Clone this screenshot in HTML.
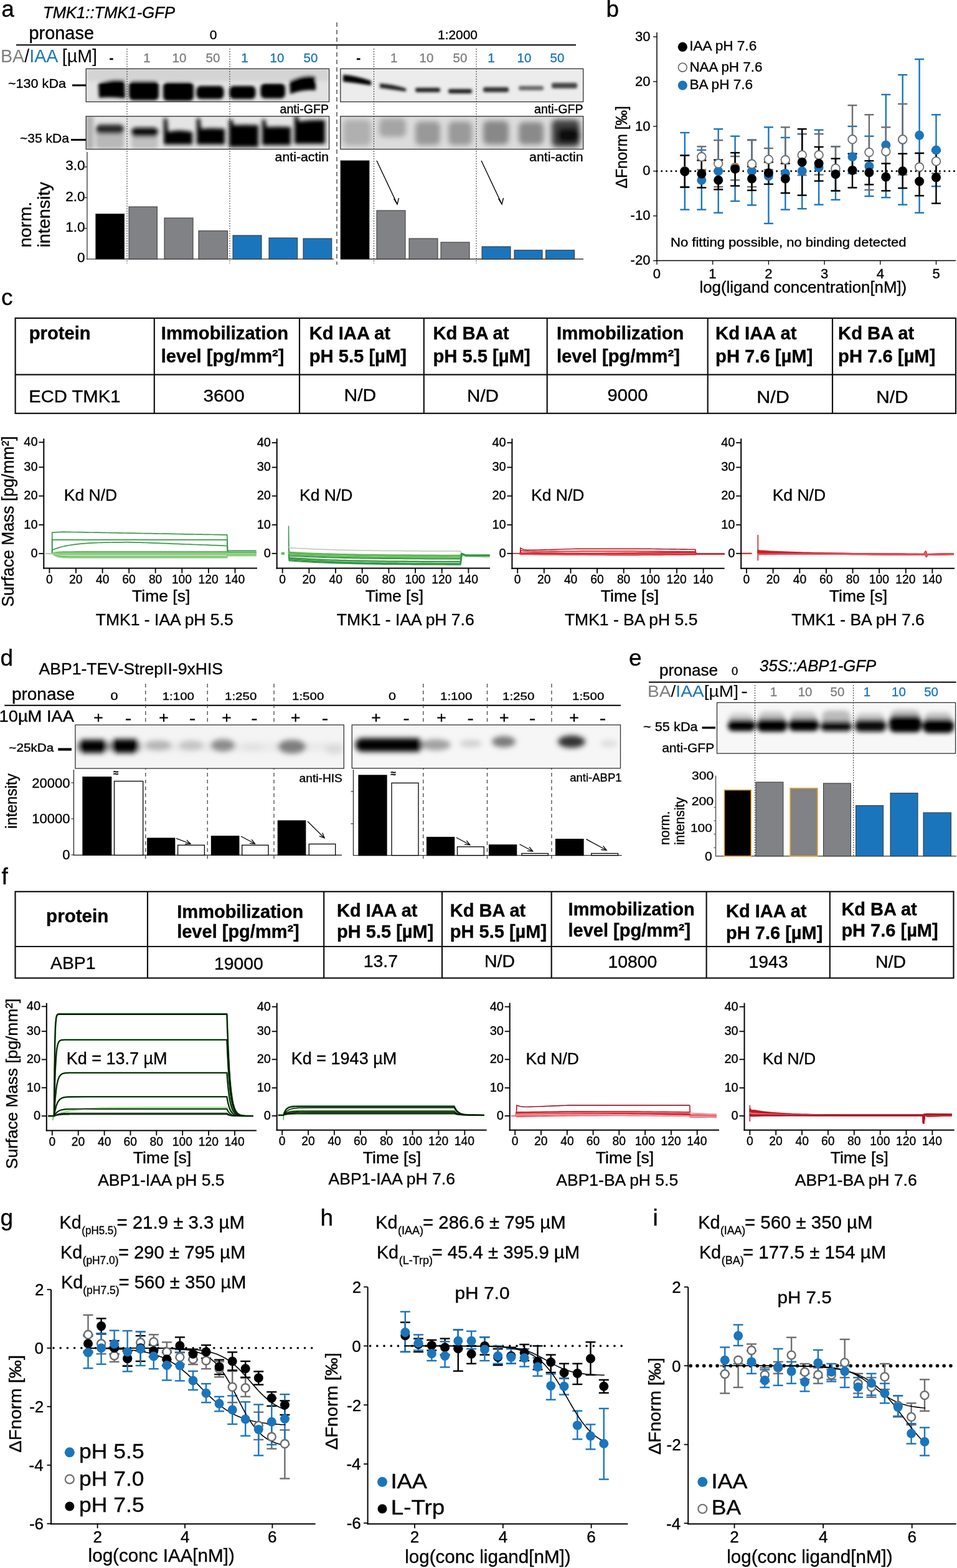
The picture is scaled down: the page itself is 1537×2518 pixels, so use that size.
<!DOCTYPE html>
<html><head><meta charset="utf-8"><title>Figure</title>
<style>html,body{margin:0;padding:0;background:#fff;}svg{display:block;}
text{font-family:"Liberation Sans",Arial,Helvetica,sans-serif;}</style></head>
<body><svg width="1537" height="2518" viewBox="0 0 1537 2518">
<rect width="1537" height="2518" fill="#fff"/>
<defs>
<filter id="bl2_5" x="-20%" y="-50%" width="140%" height="200%"><feGaussianBlur stdDeviation="2.5"/></filter>
<filter id="bl3_5" x="-20%" y="-50%" width="140%" height="200%"><feGaussianBlur stdDeviation="3.5"/></filter>
<filter id="bl2" x="-20%" y="-50%" width="140%" height="200%"><feGaussianBlur stdDeviation="2"/></filter>
<filter id="bl3" x="-20%" y="-50%" width="140%" height="200%"><feGaussianBlur stdDeviation="3"/></filter>
<filter id="bl4" x="-20%" y="-50%" width="140%" height="200%"><feGaussianBlur stdDeviation="4"/></filter>
<filter id="bl5" x="-20%" y="-50%" width="140%" height="200%"><feGaussianBlur stdDeviation="5"/></filter>
</defs>
<text x="2.2" y="26.6" font-size="37.0" stroke="#000" stroke-width="0.35">a</text>
<text x="69.0" y="29.0" font-size="25.6" font-style="italic" textLength="212.0" lengthAdjust="spacingAndGlyphs" stroke="#000" stroke-width="0.35">TMK1::TMK1-GFP</text>
<text x="46.5" y="63.0" font-size="29.0" textLength="104.5" lengthAdjust="spacingAndGlyphs" stroke="#000" stroke-width="0.35">pronase</text>
<text x="342.5" y="63.0" font-size="21.0" text-anchor="middle" stroke="#000" stroke-width="0.35">0</text>
<text x="735.0" y="63.0" font-size="21.0" text-anchor="middle" textLength="64.0" lengthAdjust="spacingAndGlyphs" stroke="#000" stroke-width="0.35">1:2000</text>
<line x1="26.0" y1="72.3" x2="925.0" y2="72.3" stroke="#000" stroke-width="2" />
<text x="1" y="100" font-size="28.6" textLength="155" lengthAdjust="spacingAndGlyphs"><tspan fill="#7f7f7f">BA</tspan>/<tspan fill="#1b75bc">IAA</tspan> [µM]</text>
<text x="179.0" y="99.5" font-size="20.5" text-anchor="middle" font-weight="bold" stroke="#000" stroke-width="0.35">-</text>
<text x="236.0" y="99.5" font-size="20.5" text-anchor="middle" fill="#7f7f7f" stroke="#7f7f7f" stroke-width="0.35">1</text>
<text x="288.0" y="99.5" font-size="20.5" text-anchor="middle" fill="#7f7f7f" stroke="#7f7f7f" stroke-width="0.35">10</text>
<text x="342.0" y="99.5" font-size="20.5" text-anchor="middle" fill="#7f7f7f" stroke="#7f7f7f" stroke-width="0.35">50</text>
<text x="393.0" y="99.5" font-size="20.5" text-anchor="middle" fill="#1b75bc" stroke="#1b75bc" stroke-width="0.35">1</text>
<text x="445.0" y="99.5" font-size="20.5" text-anchor="middle" fill="#1b75bc" stroke="#1b75bc" stroke-width="0.35">10</text>
<text x="499.0" y="99.5" font-size="20.5" text-anchor="middle" fill="#1b75bc" stroke="#1b75bc" stroke-width="0.35">50</text>
<text x="575.6" y="99.5" font-size="20.5" text-anchor="middle" font-weight="bold" stroke="#000" stroke-width="0.35">-</text>
<text x="632.6" y="99.5" font-size="20.5" text-anchor="middle" fill="#7f7f7f" stroke="#7f7f7f" stroke-width="0.35">1</text>
<text x="685.0" y="99.5" font-size="20.5" text-anchor="middle" fill="#7f7f7f" stroke="#7f7f7f" stroke-width="0.35">10</text>
<text x="739.0" y="99.5" font-size="20.5" text-anchor="middle" fill="#7f7f7f" stroke="#7f7f7f" stroke-width="0.35">50</text>
<text x="789.0" y="99.5" font-size="20.5" text-anchor="middle" fill="#1b75bc" stroke="#1b75bc" stroke-width="0.35">1</text>
<text x="842.0" y="99.5" font-size="20.5" text-anchor="middle" fill="#1b75bc" stroke="#1b75bc" stroke-width="0.35">10</text>
<text x="895.0" y="99.5" font-size="20.5" text-anchor="middle" fill="#1b75bc" stroke="#1b75bc" stroke-width="0.35">50</text>
<line x1="541.0" y1="36.0" x2="541.0" y2="425.0" stroke="#333" stroke-width="1.3" stroke-dasharray="7,5"/>
<clipPath id="c1"><rect x="138.2" y="110.4" width="390.40000000000003" height="53.099999999999994"/></clipPath>
<g clip-path="url(#c1)">
<rect x="138.2" y="110.4" width="390.4" height="53.1" fill="#e2e2e2" stroke="none" stroke-width="1" />
<g filter="url(#bl2_5)">
<rect x="140.0" y="110.0" width="388.0" height="20.0" fill="#d4d4d4" stroke="none" stroke-width="1" rx="4"/>
<path d="M158,134 Q178,126 200,129 L201,158 Q180,155 159,157 Z" fill="#000"/>
<rect x="207.0" y="130.0" width="48.0" height="31.0" fill="#000" stroke="none" stroke-width="1" rx="7"/>
<rect x="262.0" y="132.0" width="49.0" height="30.0" fill="#000" stroke="none" stroke-width="1" rx="7"/>
<rect x="315.5" y="138.0" width="44.0" height="21.0" fill="#000" stroke="none" stroke-width="1" rx="7"/>
<rect x="368.5" y="138.0" width="42.0" height="21.0" fill="#000" stroke="none" stroke-width="1" rx="7"/>
<rect x="418.5" y="134.0" width="39.5" height="24.0" fill="#000" stroke="none" stroke-width="1" rx="7"/>
<path d="M465,130 Q490,118 507,123 L507,145 Q488,143 466,151 Z" fill="#000"/>
</g></g>
<rect x="138.2" y="110.4" width="390.4" height="53.1" fill="none" stroke="#333" stroke-width="1.3" />
<text x="528.0" y="181.5" font-size="20.0" text-anchor="end" textLength="78.5" lengthAdjust="spacingAndGlyphs" stroke="#000" stroke-width="0.35">anti-GFP</text>
<clipPath id="c2"><rect x="138.2" y="186.7" width="390.40000000000003" height="52.900000000000006"/></clipPath>
<g clip-path="url(#c2)">
<rect x="138.2" y="186.7" width="390.4" height="52.9" fill="#e4e4e4" stroke="none" stroke-width="1" />
<g filter="url(#bl3)">
<rect x="138.0" y="186.0" width="12.0" height="54.0" fill="#b0b0b0" stroke="none" stroke-width="1" rx="2"/>
<rect x="154.0" y="205.0" width="45.0" height="34.0" fill="#b8b8b8" stroke="none" stroke-width="1" rx="6"/>
<rect x="211.0" y="214.0" width="43.0" height="25.0" fill="#c0c0c0" stroke="none" stroke-width="1" rx="6"/>
<rect x="154.0" y="200.0" width="45.0" height="15.0" fill="#2a2a2a" stroke="none" stroke-width="1" rx="7"/>
<rect x="211.0" y="205.0" width="43.0" height="15.0" fill="#0a0a0a" stroke="none" stroke-width="1" rx="7"/>
<path d="M263,190 L268,190 L270,212 Q286,207 309,212 L309,232 L263,232 Z" fill="#000"/>
<path d="M316,190 L321,190 L323,207 Q340,205 361,207 L361,232 L316,232 Z" fill="#000"/>
<path d="M368,192 L373,192 L375,201 Q392,200 415,201 L415,236 L368,236 Z" fill="#000"/>
<path d="M421,192 L426,192 L428,204 Q445,203 467,204 L467,233 L421,233 Z" fill="#000"/>
<path d="M473,186 L478,186 L480,195 Q500,192 522,193 L522,231 L473,231 Z" fill="#000"/>
</g></g>
<rect x="138.2" y="186.7" width="390.4" height="52.9" fill="none" stroke="#333" stroke-width="1.3" />
<text x="528.0" y="258.5" font-size="20.0" text-anchor="end" textLength="86.4" lengthAdjust="spacingAndGlyphs" stroke="#000" stroke-width="0.35">anti-actin</text>
<clipPath id="c3"><rect x="546.8" y="110.4" width="389.9000000000001" height="53.099999999999994"/></clipPath>
<g clip-path="url(#c3)">
<rect x="546.8" y="110.4" width="389.9" height="53.1" fill="#ececec" stroke="none" stroke-width="1" />
<g filter="url(#bl2)">
<path d="M551,120 Q570,121 596,130 L596,137 Q570,133 551,131 Z" fill="#000"/>
<path d="M610,134 Q630,135 652,142 L652,147 Q630,144 610,141 Z" fill="#222"/>
<rect x="667.0" y="141.0" width="40.0" height="7.0" fill="#222" stroke="none" stroke-width="1" rx="3"/>
<rect x="720.0" y="143.0" width="38.0" height="7.0" fill="#1a1a1a" stroke="none" stroke-width="1" rx="3"/>
<rect x="776.0" y="140.0" width="41.0" height="8.0" fill="#333" stroke="none" stroke-width="1" rx="3"/>
<rect x="833.0" y="138.0" width="40.0" height="7.0" fill="#666" stroke="none" stroke-width="1" rx="3"/>
<rect x="886.0" y="133.0" width="41.0" height="9.0" fill="#444" stroke="none" stroke-width="1" rx="3"/>
</g></g>
<rect x="546.8" y="110.4" width="389.9" height="53.1" fill="none" stroke="#333" stroke-width="1.3" />
<text x="936.5" y="181.5" font-size="20.0" text-anchor="end" textLength="78.5" lengthAdjust="spacingAndGlyphs" stroke="#000" stroke-width="0.35">anti-GFP</text>
<clipPath id="c4"><rect x="546.8" y="186.7" width="389.9000000000001" height="52.900000000000006"/></clipPath>
<g clip-path="url(#c4)">
<rect x="546.8" y="186.7" width="389.9" height="52.9" fill="#dcdcdc" stroke="none" stroke-width="1" />
<g filter="url(#bl4)">
<rect x="551.0" y="192.0" width="45.0" height="42.0" fill="#b0b0b0" stroke="none" stroke-width="1" rx="8"/>
<rect x="609.0" y="190.0" width="43.0" height="30.0" fill="#a5a5a5" stroke="none" stroke-width="1" rx="8"/>
<rect x="667.0" y="195.0" width="40.0" height="38.0" fill="#999" stroke="none" stroke-width="1" rx="8"/>
<rect x="720.0" y="195.0" width="38.0" height="38.0" fill="#9a9a9a" stroke="none" stroke-width="1" rx="8"/>
<rect x="776.0" y="194.0" width="41.0" height="38.0" fill="#888" stroke="none" stroke-width="1" rx="8"/>
<rect x="833.0" y="196.0" width="40.0" height="36.0" fill="#8a8a8a" stroke="none" stroke-width="1" rx="8"/>
<rect x="886.0" y="192.0" width="45.0" height="44.0" fill="#444" stroke="none" stroke-width="1" rx="8"/>
<rect x="895.0" y="205.0" width="36.0" height="25.0" fill="#111" stroke="none" stroke-width="1" rx="8"/>
</g></g>
<rect x="546.8" y="186.7" width="389.9" height="52.9" fill="none" stroke="#333" stroke-width="1.3" />
<text x="936.5" y="258.5" font-size="20.0" text-anchor="end" textLength="86.4" lengthAdjust="spacingAndGlyphs" stroke="#000" stroke-width="0.35">anti-actin</text>
<line x1="204.0" y1="78.0" x2="204.0" y2="423.0" stroke="#333" stroke-width="1" stroke-dasharray="2,2"/>
<line x1="369.0" y1="78.0" x2="369.0" y2="423.0" stroke="#333" stroke-width="1" stroke-dasharray="2,2"/>
<line x1="600.5" y1="78.0" x2="600.5" y2="423.0" stroke="#333" stroke-width="1" stroke-dasharray="2,2"/>
<line x1="765.0" y1="78.0" x2="765.0" y2="423.0" stroke="#333" stroke-width="1" stroke-dasharray="2,2"/>
<text x="13.0" y="141.0" font-size="21.0" textLength="93.0" lengthAdjust="spacingAndGlyphs" stroke="#000" stroke-width="0.35">~130 kDa</text>
<line x1="116.0" y1="137.0" x2="138.0" y2="137.0" stroke="#000" stroke-width="3" />
<text x="32.0" y="229.0" font-size="21.0" textLength="79.0" lengthAdjust="spacingAndGlyphs" stroke="#000" stroke-width="0.35">~35 kDa</text>
<line x1="114.0" y1="224.5" x2="138.0" y2="224.5" stroke="#000" stroke-width="3" />
<line x1="139.9" y1="244.0" x2="139.9" y2="417.0" stroke="#777" stroke-width="2" />
<line x1="139.0" y1="416.0" x2="536.0" y2="416.0" stroke="#555" stroke-width="1.6" />
<line x1="136.0" y1="268.0" x2="139.6" y2="268.0" stroke="#000" stroke-width="1.2" />
<line x1="136.0" y1="317.4" x2="139.6" y2="317.4" stroke="#000" stroke-width="1.2" />
<line x1="136.0" y1="366.8" x2="139.6" y2="366.8" stroke="#000" stroke-width="1.2" />
<text x="105.2" y="273.3" font-size="22.5" stroke="#000" stroke-width="0.35">3.0</text>
<text x="105.2" y="322.7" font-size="22.5" stroke="#000" stroke-width="0.35">2.0</text>
<text x="105.2" y="372.1" font-size="22.5" stroke="#000" stroke-width="0.35">1.0</text>
<text x="124.0" y="421.3" font-size="22.5" stroke="#000" stroke-width="0.35">0</text>
<rect x="153.8" y="343.5" width="45.8" height="72.5" fill="#000" stroke="#333" stroke-width="1" />
<rect x="207.0" y="332.0" width="45.4" height="84.0" fill="#808285" stroke="#333" stroke-width="1" />
<rect x="264.0" y="350.0" width="46.0" height="66.0" fill="#808285" stroke="#333" stroke-width="1" />
<rect x="319.0" y="370.7" width="46.6" height="45.3" fill="#808285" stroke="#333" stroke-width="1" />
<rect x="374.0" y="378.0" width="46.0" height="38.0" fill="#1b75bc" stroke="#333" stroke-width="1" />
<rect x="432.0" y="382.0" width="45.7" height="34.0" fill="#1b75bc" stroke="#333" stroke-width="1" />
<rect x="487.0" y="383.0" width="45.8" height="33.0" fill="#1b75bc" stroke="#333" stroke-width="1" />
<text x="49.8" y="397.6" font-size="27.0" textLength="73.9" lengthAdjust="spacingAndGlyphs" transform="rotate(-90 49.8 397.6)" stroke="#000" stroke-width="0.35">norm.</text>
<text x="79.6" y="397.6" font-size="27.0" textLength="105.5" lengthAdjust="spacingAndGlyphs" transform="rotate(-90 79.6 397.6)" stroke="#000" stroke-width="0.35">intensity</text>
<line x1="547.0" y1="416.0" x2="937.0" y2="416.0" stroke="#333" stroke-width="1.3" />
<rect x="547.0" y="258.0" width="46.0" height="158.0" fill="#000" stroke="#333" stroke-width="1" />
<rect x="605.0" y="338.0" width="46.0" height="78.0" fill="#808285" stroke="#333" stroke-width="1" />
<rect x="657.0" y="383.0" width="46.0" height="33.0" fill="#808285" stroke="#333" stroke-width="1" />
<rect x="708.0" y="389.0" width="46.0" height="27.0" fill="#808285" stroke="#333" stroke-width="1" />
<rect x="774.0" y="396.0" width="46.0" height="20.0" fill="#1b75bc" stroke="#333" stroke-width="1" />
<rect x="826.0" y="401.7" width="45.0" height="14.3" fill="#1b75bc" stroke="#333" stroke-width="1" />
<rect x="876.6" y="401.7" width="46.0" height="14.3" fill="#1b75bc" stroke="#333" stroke-width="1" />
<line x1="605.0" y1="258.0" x2="638.0" y2="328.0" stroke="#000" stroke-width="1.4" />
<path d="M632.5,319 L638,328 L640.5,318" fill="none" stroke="#000" stroke-width="1.4"/>
<line x1="773.0" y1="258.0" x2="806.0" y2="328.0" stroke="#000" stroke-width="1.4" />
<path d="M800.5,319 L806,328 L808.5,318" fill="none" stroke="#000" stroke-width="1.4"/>
<text x="973.6" y="26.9" font-size="37.0" stroke="#000" stroke-width="0.35">b</text>
<line x1="1055.0" y1="52.0" x2="1055.0" y2="419.5" stroke="#000" stroke-width="1.5" />
<line x1="1054.0" y1="418.6" x2="1535.0" y2="418.6" stroke="#000" stroke-width="1.5" />
<line x1="1049.0" y1="59.1" x2="1055.0" y2="59.1" stroke="#000" stroke-width="1.3" />
<text x="1019.9" y="65.7" font-size="22.0" stroke="#000" stroke-width="0.35">30</text>
<line x1="1049.0" y1="131.0" x2="1055.0" y2="131.0" stroke="#000" stroke-width="1.3" />
<text x="1019.9" y="137.6" font-size="22.0" stroke="#000" stroke-width="0.35">20</text>
<line x1="1049.0" y1="202.9" x2="1055.0" y2="202.9" stroke="#000" stroke-width="1.3" />
<text x="1019.9" y="209.5" font-size="22.0" stroke="#000" stroke-width="0.35">10</text>
<line x1="1049.0" y1="274.8" x2="1055.0" y2="274.8" stroke="#000" stroke-width="1.3" />
<text x="1032.2" y="281.4" font-size="22.0" stroke="#000" stroke-width="0.35">0</text>
<line x1="1049.0" y1="346.7" x2="1055.0" y2="346.7" stroke="#000" stroke-width="1.3" />
<text x="1012.6" y="353.3" font-size="22.0" stroke="#000" stroke-width="0.35">-10</text>
<line x1="1049.0" y1="418.6" x2="1055.0" y2="418.6" stroke="#000" stroke-width="1.3" />
<text x="1012.6" y="425.2" font-size="22.0" stroke="#000" stroke-width="0.35">-20</text>
<line x1="1055.0" y1="418.6" x2="1055.0" y2="425.0" stroke="#000" stroke-width="1.3" />
<text x="1048.8" y="446.8" font-size="22.0" stroke="#000" stroke-width="0.35">0</text>
<line x1="1144.7" y1="418.6" x2="1144.7" y2="425.0" stroke="#000" stroke-width="1.3" />
<text x="1138.3" y="446.8" font-size="22.0" stroke="#000" stroke-width="0.35">1</text>
<line x1="1234.4" y1="418.6" x2="1234.4" y2="425.0" stroke="#000" stroke-width="1.3" />
<text x="1228.3" y="446.8" font-size="22.0" stroke="#000" stroke-width="0.35">2</text>
<line x1="1324.1" y1="418.6" x2="1324.1" y2="425.0" stroke="#000" stroke-width="1.3" />
<text x="1318.0" y="446.8" font-size="22.0" stroke="#000" stroke-width="0.35">3</text>
<line x1="1413.8" y1="418.6" x2="1413.8" y2="425.0" stroke="#000" stroke-width="1.3" />
<text x="1407.8" y="446.8" font-size="22.0" stroke="#000" stroke-width="0.35">4</text>
<line x1="1503.5" y1="418.6" x2="1503.5" y2="425.0" stroke="#000" stroke-width="1.3" />
<text x="1497.4" y="446.8" font-size="22.0" stroke="#000" stroke-width="0.35">5</text>
<text x="1123.5" y="470.3" font-size="25.8" stroke="#000" stroke-width="0.35">log(ligand concentration[nM])</text>
<text x="1077.0" y="395.6" font-size="20.5" textLength="378.6" lengthAdjust="spacingAndGlyphs" stroke="#000" stroke-width="0.35">No fitting possible, no binding detected</text>
<text x="1006.8" y="302.5" font-size="25.0" textLength="132.4" lengthAdjust="spacingAndGlyphs" transform="rotate(-90 1006.8 302.5)" stroke="#000" stroke-width="0.35">ΔFnorm [‰]</text>
<line x1="1055.0" y1="274.8" x2="1535.0" y2="274.8" stroke="#000" stroke-width="3" stroke-dasharray="0.1,7.6" stroke-linecap="round"/>
<circle cx="1096.3" cy="75.3" r="7.6" fill="#000" stroke="none" stroke-width="1" />
<text x="1107.2" y="81.3" font-size="22.6" stroke="#000" stroke-width="0.35">IAA pH 7.6</text>
<circle cx="1096.3" cy="108.2" r="6.9" fill="none" stroke="#666" stroke-width="1.6" />
<text x="1107.4" y="114.5" font-size="22.4" stroke="#000" stroke-width="0.35">NAA pH 7.6</text>
<circle cx="1096.3" cy="137.1" r="7.6" fill="#1b75bc" stroke="none" stroke-width="1" />
<text x="1107.4" y="143.1" font-size="22.6" stroke="#000" stroke-width="0.35">BA pH 7.6</text>
<line x1="1099.8" y1="213.0" x2="1099.8" y2="336.6" stroke="#1b75bc" stroke-width="2.4" />
<line x1="1092.3" y1="213.0" x2="1107.3" y2="213.0" stroke="#1b75bc" stroke-width="2.4" />
<line x1="1092.3" y1="336.6" x2="1107.3" y2="336.6" stroke="#1b75bc" stroke-width="2.4" />
<line x1="1126.8" y1="241.0" x2="1126.8" y2="336.6" stroke="#1b75bc" stroke-width="2.4" />
<line x1="1119.3" y1="241.0" x2="1134.3" y2="241.0" stroke="#1b75bc" stroke-width="2.4" />
<line x1="1119.3" y1="336.6" x2="1134.3" y2="336.6" stroke="#1b75bc" stroke-width="2.4" />
<line x1="1153.7" y1="207.2" x2="1153.7" y2="341.7" stroke="#1b75bc" stroke-width="2.4" />
<line x1="1146.2" y1="207.2" x2="1161.2" y2="207.2" stroke="#1b75bc" stroke-width="2.4" />
<line x1="1146.2" y1="341.7" x2="1161.2" y2="341.7" stroke="#1b75bc" stroke-width="2.4" />
<line x1="1180.6" y1="218.7" x2="1180.6" y2="323.0" stroke="#1b75bc" stroke-width="2.4" />
<line x1="1173.1" y1="218.7" x2="1188.1" y2="218.7" stroke="#1b75bc" stroke-width="2.4" />
<line x1="1173.1" y1="323.0" x2="1188.1" y2="323.0" stroke="#1b75bc" stroke-width="2.4" />
<line x1="1207.5" y1="224.5" x2="1207.5" y2="329.4" stroke="#1b75bc" stroke-width="2.4" />
<line x1="1200.0" y1="224.5" x2="1215.0" y2="224.5" stroke="#1b75bc" stroke-width="2.4" />
<line x1="1200.0" y1="329.4" x2="1215.0" y2="329.4" stroke="#1b75bc" stroke-width="2.4" />
<line x1="1234.4" y1="204.3" x2="1234.4" y2="358.9" stroke="#1b75bc" stroke-width="2.4" />
<line x1="1226.9" y1="204.3" x2="1241.9" y2="204.3" stroke="#1b75bc" stroke-width="2.4" />
<line x1="1226.9" y1="358.9" x2="1241.9" y2="358.9" stroke="#1b75bc" stroke-width="2.4" />
<line x1="1261.3" y1="220.9" x2="1261.3" y2="336.6" stroke="#1b75bc" stroke-width="2.4" />
<line x1="1253.8" y1="220.9" x2="1268.8" y2="220.9" stroke="#1b75bc" stroke-width="2.4" />
<line x1="1253.8" y1="336.6" x2="1268.8" y2="336.6" stroke="#1b75bc" stroke-width="2.4" />
<line x1="1288.2" y1="215.1" x2="1288.2" y2="335.2" stroke="#1b75bc" stroke-width="2.4" />
<line x1="1280.7" y1="215.1" x2="1295.7" y2="215.1" stroke="#1b75bc" stroke-width="2.4" />
<line x1="1280.7" y1="335.2" x2="1295.7" y2="335.2" stroke="#1b75bc" stroke-width="2.4" />
<line x1="1315.1" y1="208.7" x2="1315.1" y2="328.7" stroke="#1b75bc" stroke-width="2.4" />
<line x1="1307.6" y1="208.7" x2="1322.6" y2="208.7" stroke="#1b75bc" stroke-width="2.4" />
<line x1="1307.6" y1="328.7" x2="1322.6" y2="328.7" stroke="#1b75bc" stroke-width="2.4" />
<line x1="1342.0" y1="235.3" x2="1342.0" y2="320.8" stroke="#1b75bc" stroke-width="2.4" />
<line x1="1334.5" y1="235.3" x2="1349.5" y2="235.3" stroke="#1b75bc" stroke-width="2.4" />
<line x1="1334.5" y1="320.8" x2="1349.5" y2="320.8" stroke="#1b75bc" stroke-width="2.4" />
<line x1="1369.0" y1="202.9" x2="1369.0" y2="278.4" stroke="#1b75bc" stroke-width="2.4" />
<line x1="1361.5" y1="202.9" x2="1376.5" y2="202.9" stroke="#1b75bc" stroke-width="2.4" />
<line x1="1361.5" y1="278.4" x2="1376.5" y2="278.4" stroke="#1b75bc" stroke-width="2.4" />
<line x1="1395.9" y1="218.7" x2="1395.9" y2="315.1" stroke="#1b75bc" stroke-width="2.4" />
<line x1="1388.4" y1="218.7" x2="1403.4" y2="218.7" stroke="#1b75bc" stroke-width="2.4" />
<line x1="1388.4" y1="315.1" x2="1403.4" y2="315.1" stroke="#1b75bc" stroke-width="2.4" />
<line x1="1422.8" y1="151.9" x2="1422.8" y2="317.2" stroke="#1b75bc" stroke-width="2.4" />
<line x1="1415.3" y1="151.9" x2="1430.3" y2="151.9" stroke="#1b75bc" stroke-width="2.4" />
<line x1="1415.3" y1="317.2" x2="1430.3" y2="317.2" stroke="#1b75bc" stroke-width="2.4" />
<line x1="1449.7" y1="120.2" x2="1449.7" y2="328.7" stroke="#1b75bc" stroke-width="2.4" />
<line x1="1442.2" y1="120.2" x2="1457.2" y2="120.2" stroke="#1b75bc" stroke-width="2.4" />
<line x1="1442.2" y1="328.7" x2="1457.2" y2="328.7" stroke="#1b75bc" stroke-width="2.4" />
<line x1="1476.6" y1="95.1" x2="1476.6" y2="341.7" stroke="#1b75bc" stroke-width="2.4" />
<line x1="1469.1" y1="95.1" x2="1484.1" y2="95.1" stroke="#1b75bc" stroke-width="2.4" />
<line x1="1469.1" y1="341.7" x2="1484.1" y2="341.7" stroke="#1b75bc" stroke-width="2.4" />
<line x1="1503.5" y1="184.2" x2="1503.5" y2="299.2" stroke="#1b75bc" stroke-width="2.4" />
<line x1="1496.0" y1="184.2" x2="1511.0" y2="184.2" stroke="#1b75bc" stroke-width="2.4" />
<line x1="1496.0" y1="299.2" x2="1511.0" y2="299.2" stroke="#1b75bc" stroke-width="2.4" />
<line x1="1099.8" y1="249.6" x2="1099.8" y2="300.0" stroke="#6d6e71" stroke-width="2.4" />
<line x1="1092.3" y1="249.6" x2="1107.3" y2="249.6" stroke="#6d6e71" stroke-width="2.4" />
<line x1="1092.3" y1="300.0" x2="1107.3" y2="300.0" stroke="#6d6e71" stroke-width="2.4" />
<line x1="1126.8" y1="235.3" x2="1126.8" y2="272.6" stroke="#6d6e71" stroke-width="2.4" />
<line x1="1119.3" y1="235.3" x2="1134.3" y2="235.3" stroke="#6d6e71" stroke-width="2.4" />
<line x1="1119.3" y1="272.6" x2="1134.3" y2="272.6" stroke="#6d6e71" stroke-width="2.4" />
<line x1="1153.7" y1="225.2" x2="1153.7" y2="300.0" stroke="#6d6e71" stroke-width="2.4" />
<line x1="1146.2" y1="225.2" x2="1161.2" y2="225.2" stroke="#6d6e71" stroke-width="2.4" />
<line x1="1146.2" y1="300.0" x2="1161.2" y2="300.0" stroke="#6d6e71" stroke-width="2.4" />
<line x1="1180.6" y1="251.1" x2="1180.6" y2="289.2" stroke="#6d6e71" stroke-width="2.4" />
<line x1="1173.1" y1="251.1" x2="1188.1" y2="251.1" stroke="#6d6e71" stroke-width="2.4" />
<line x1="1173.1" y1="289.2" x2="1188.1" y2="289.2" stroke="#6d6e71" stroke-width="2.4" />
<line x1="1207.5" y1="225.2" x2="1207.5" y2="300.0" stroke="#6d6e71" stroke-width="2.4" />
<line x1="1200.0" y1="225.2" x2="1215.0" y2="225.2" stroke="#6d6e71" stroke-width="2.4" />
<line x1="1200.0" y1="300.0" x2="1215.0" y2="300.0" stroke="#6d6e71" stroke-width="2.4" />
<line x1="1234.4" y1="238.1" x2="1234.4" y2="272.6" stroke="#6d6e71" stroke-width="2.4" />
<line x1="1226.9" y1="238.1" x2="1241.9" y2="238.1" stroke="#6d6e71" stroke-width="2.4" />
<line x1="1226.9" y1="272.6" x2="1241.9" y2="272.6" stroke="#6d6e71" stroke-width="2.4" />
<line x1="1261.3" y1="204.3" x2="1261.3" y2="310.0" stroke="#6d6e71" stroke-width="2.4" />
<line x1="1253.8" y1="204.3" x2="1268.8" y2="204.3" stroke="#6d6e71" stroke-width="2.4" />
<line x1="1253.8" y1="310.0" x2="1268.8" y2="310.0" stroke="#6d6e71" stroke-width="2.4" />
<line x1="1288.2" y1="215.1" x2="1288.2" y2="281.3" stroke="#6d6e71" stroke-width="2.4" />
<line x1="1280.7" y1="215.1" x2="1295.7" y2="215.1" stroke="#6d6e71" stroke-width="2.4" />
<line x1="1280.7" y1="281.3" x2="1295.7" y2="281.3" stroke="#6d6e71" stroke-width="2.4" />
<line x1="1315.1" y1="215.1" x2="1315.1" y2="280.6" stroke="#6d6e71" stroke-width="2.4" />
<line x1="1307.6" y1="215.1" x2="1322.6" y2="215.1" stroke="#6d6e71" stroke-width="2.4" />
<line x1="1307.6" y1="280.6" x2="1322.6" y2="280.6" stroke="#6d6e71" stroke-width="2.4" />
<line x1="1342.0" y1="235.3" x2="1342.0" y2="306.4" stroke="#6d6e71" stroke-width="2.4" />
<line x1="1334.5" y1="235.3" x2="1349.5" y2="235.3" stroke="#6d6e71" stroke-width="2.4" />
<line x1="1334.5" y1="306.4" x2="1349.5" y2="306.4" stroke="#6d6e71" stroke-width="2.4" />
<line x1="1369.0" y1="169.1" x2="1369.0" y2="272.6" stroke="#6d6e71" stroke-width="2.4" />
<line x1="1361.5" y1="169.1" x2="1376.5" y2="169.1" stroke="#6d6e71" stroke-width="2.4" />
<line x1="1361.5" y1="272.6" x2="1376.5" y2="272.6" stroke="#6d6e71" stroke-width="2.4" />
<line x1="1395.9" y1="184.2" x2="1395.9" y2="305.0" stroke="#6d6e71" stroke-width="2.4" />
<line x1="1388.4" y1="184.2" x2="1403.4" y2="184.2" stroke="#6d6e71" stroke-width="2.4" />
<line x1="1388.4" y1="305.0" x2="1403.4" y2="305.0" stroke="#6d6e71" stroke-width="2.4" />
<line x1="1422.8" y1="204.3" x2="1422.8" y2="285.6" stroke="#6d6e71" stroke-width="2.4" />
<line x1="1415.3" y1="204.3" x2="1430.3" y2="204.3" stroke="#6d6e71" stroke-width="2.4" />
<line x1="1415.3" y1="285.6" x2="1430.3" y2="285.6" stroke="#6d6e71" stroke-width="2.4" />
<line x1="1449.7" y1="166.9" x2="1449.7" y2="280.6" stroke="#6d6e71" stroke-width="2.4" />
<line x1="1442.2" y1="166.9" x2="1457.2" y2="166.9" stroke="#6d6e71" stroke-width="2.4" />
<line x1="1442.2" y1="280.6" x2="1457.2" y2="280.6" stroke="#6d6e71" stroke-width="2.4" />
<line x1="1476.6" y1="246.0" x2="1476.6" y2="289.2" stroke="#6d6e71" stroke-width="2.4" />
<line x1="1469.1" y1="246.0" x2="1484.1" y2="246.0" stroke="#6d6e71" stroke-width="2.4" />
<line x1="1469.1" y1="289.2" x2="1484.1" y2="289.2" stroke="#6d6e71" stroke-width="2.4" />
<line x1="1503.5" y1="240.3" x2="1503.5" y2="278.4" stroke="#6d6e71" stroke-width="2.4" />
<line x1="1496.0" y1="240.3" x2="1511.0" y2="240.3" stroke="#6d6e71" stroke-width="2.4" />
<line x1="1496.0" y1="278.4" x2="1511.0" y2="278.4" stroke="#6d6e71" stroke-width="2.4" />
<line x1="1099.8" y1="249.6" x2="1099.8" y2="300.7" stroke="#000" stroke-width="2.4" />
<line x1="1092.3" y1="249.6" x2="1107.3" y2="249.6" stroke="#000" stroke-width="2.4" />
<line x1="1092.3" y1="300.7" x2="1107.3" y2="300.7" stroke="#000" stroke-width="2.4" />
<line x1="1126.8" y1="257.5" x2="1126.8" y2="301.4" stroke="#000" stroke-width="2.4" />
<line x1="1119.3" y1="257.5" x2="1134.3" y2="257.5" stroke="#000" stroke-width="2.4" />
<line x1="1119.3" y1="301.4" x2="1134.3" y2="301.4" stroke="#000" stroke-width="2.4" />
<line x1="1153.7" y1="256.8" x2="1153.7" y2="304.3" stroke="#000" stroke-width="2.4" />
<line x1="1146.2" y1="256.8" x2="1161.2" y2="256.8" stroke="#000" stroke-width="2.4" />
<line x1="1146.2" y1="304.3" x2="1161.2" y2="304.3" stroke="#000" stroke-width="2.4" />
<line x1="1180.6" y1="245.3" x2="1180.6" y2="298.5" stroke="#000" stroke-width="2.4" />
<line x1="1173.1" y1="245.3" x2="1188.1" y2="245.3" stroke="#000" stroke-width="2.4" />
<line x1="1173.1" y1="298.5" x2="1188.1" y2="298.5" stroke="#000" stroke-width="2.4" />
<line x1="1207.5" y1="267.6" x2="1207.5" y2="305.7" stroke="#000" stroke-width="2.4" />
<line x1="1200.0" y1="267.6" x2="1215.0" y2="267.6" stroke="#000" stroke-width="2.4" />
<line x1="1200.0" y1="305.7" x2="1215.0" y2="305.7" stroke="#000" stroke-width="2.4" />
<line x1="1234.4" y1="260.4" x2="1234.4" y2="295.7" stroke="#000" stroke-width="2.4" />
<line x1="1226.9" y1="260.4" x2="1241.9" y2="260.4" stroke="#000" stroke-width="2.4" />
<line x1="1226.9" y1="295.7" x2="1241.9" y2="295.7" stroke="#000" stroke-width="2.4" />
<line x1="1261.3" y1="262.6" x2="1261.3" y2="310.0" stroke="#000" stroke-width="2.4" />
<line x1="1253.8" y1="262.6" x2="1268.8" y2="262.6" stroke="#000" stroke-width="2.4" />
<line x1="1253.8" y1="310.0" x2="1268.8" y2="310.0" stroke="#000" stroke-width="2.4" />
<line x1="1288.2" y1="207.2" x2="1288.2" y2="313.6" stroke="#000" stroke-width="2.4" />
<line x1="1280.7" y1="207.2" x2="1295.7" y2="207.2" stroke="#000" stroke-width="2.4" />
<line x1="1280.7" y1="313.6" x2="1295.7" y2="313.6" stroke="#000" stroke-width="2.4" />
<line x1="1315.1" y1="236.0" x2="1315.1" y2="290.6" stroke="#000" stroke-width="2.4" />
<line x1="1307.6" y1="236.0" x2="1322.6" y2="236.0" stroke="#000" stroke-width="2.4" />
<line x1="1307.6" y1="290.6" x2="1322.6" y2="290.6" stroke="#000" stroke-width="2.4" />
<line x1="1342.0" y1="254.7" x2="1342.0" y2="306.4" stroke="#000" stroke-width="2.4" />
<line x1="1334.5" y1="254.7" x2="1349.5" y2="254.7" stroke="#000" stroke-width="2.4" />
<line x1="1334.5" y1="306.4" x2="1349.5" y2="306.4" stroke="#000" stroke-width="2.4" />
<line x1="1369.0" y1="246.8" x2="1369.0" y2="301.4" stroke="#000" stroke-width="2.4" />
<line x1="1361.5" y1="246.8" x2="1376.5" y2="246.8" stroke="#000" stroke-width="2.4" />
<line x1="1361.5" y1="301.4" x2="1376.5" y2="301.4" stroke="#000" stroke-width="2.4" />
<line x1="1395.9" y1="258.3" x2="1395.9" y2="296.4" stroke="#000" stroke-width="2.4" />
<line x1="1388.4" y1="258.3" x2="1403.4" y2="258.3" stroke="#000" stroke-width="2.4" />
<line x1="1388.4" y1="296.4" x2="1403.4" y2="296.4" stroke="#000" stroke-width="2.4" />
<line x1="1422.8" y1="262.6" x2="1422.8" y2="306.4" stroke="#000" stroke-width="2.4" />
<line x1="1415.3" y1="262.6" x2="1430.3" y2="262.6" stroke="#000" stroke-width="2.4" />
<line x1="1415.3" y1="306.4" x2="1430.3" y2="306.4" stroke="#000" stroke-width="2.4" />
<line x1="1449.7" y1="246.8" x2="1449.7" y2="302.1" stroke="#000" stroke-width="2.4" />
<line x1="1442.2" y1="246.8" x2="1457.2" y2="246.8" stroke="#000" stroke-width="2.4" />
<line x1="1442.2" y1="302.1" x2="1457.2" y2="302.1" stroke="#000" stroke-width="2.4" />
<line x1="1476.6" y1="246.0" x2="1476.6" y2="314.3" stroke="#000" stroke-width="2.4" />
<line x1="1469.1" y1="246.0" x2="1484.1" y2="246.0" stroke="#000" stroke-width="2.4" />
<line x1="1469.1" y1="314.3" x2="1484.1" y2="314.3" stroke="#000" stroke-width="2.4" />
<line x1="1503.5" y1="242.4" x2="1503.5" y2="326.6" stroke="#000" stroke-width="2.4" />
<line x1="1496.0" y1="242.4" x2="1511.0" y2="242.4" stroke="#000" stroke-width="2.4" />
<line x1="1496.0" y1="326.6" x2="1511.0" y2="326.6" stroke="#000" stroke-width="2.4" />
<circle cx="1099.8" cy="274.8" r="7.5" fill="#1b75bc" stroke="none" stroke-width="1" />
<circle cx="1126.8" cy="289.2" r="7.5" fill="#1b75bc" stroke="none" stroke-width="1" />
<circle cx="1153.7" cy="274.8" r="7.5" fill="#1b75bc" stroke="none" stroke-width="1" />
<circle cx="1180.6" cy="270.5" r="7.5" fill="#1b75bc" stroke="none" stroke-width="1" />
<circle cx="1207.5" cy="274.8" r="7.5" fill="#1b75bc" stroke="none" stroke-width="1" />
<circle cx="1234.4" cy="282.7" r="7.5" fill="#1b75bc" stroke="none" stroke-width="1" />
<circle cx="1261.3" cy="278.4" r="7.5" fill="#1b75bc" stroke="none" stroke-width="1" />
<circle cx="1288.2" cy="274.8" r="7.5" fill="#1b75bc" stroke="none" stroke-width="1" />
<circle cx="1315.1" cy="269.0" r="7.5" fill="#1b75bc" stroke="none" stroke-width="1" />
<circle cx="1342.0" cy="274.8" r="7.5" fill="#1b75bc" stroke="none" stroke-width="1" />
<circle cx="1369.0" cy="251.8" r="7.5" fill="#1b75bc" stroke="none" stroke-width="1" />
<circle cx="1395.9" cy="266.9" r="7.5" fill="#1b75bc" stroke="none" stroke-width="1" />
<circle cx="1422.8" cy="233.1" r="7.5" fill="#1b75bc" stroke="none" stroke-width="1" />
<circle cx="1449.7" cy="224.5" r="7.5" fill="#1b75bc" stroke="none" stroke-width="1" />
<circle cx="1476.6" cy="217.3" r="7.5" fill="#1b75bc" stroke="none" stroke-width="1" />
<circle cx="1503.5" cy="241.0" r="7.5" fill="#1b75bc" stroke="none" stroke-width="1" />
<circle cx="1099.8" cy="274.8" r="6.8" fill="#fff" stroke="#6d6e71" stroke-width="1.8" />
<circle cx="1126.8" cy="251.8" r="6.8" fill="#fff" stroke="#6d6e71" stroke-width="1.8" />
<circle cx="1153.7" cy="262.6" r="6.8" fill="#fff" stroke="#6d6e71" stroke-width="1.8" />
<circle cx="1180.6" cy="269.0" r="6.8" fill="#fff" stroke="#6d6e71" stroke-width="1.8" />
<circle cx="1207.5" cy="263.3" r="6.8" fill="#fff" stroke="#6d6e71" stroke-width="1.8" />
<circle cx="1234.4" cy="256.1" r="6.8" fill="#fff" stroke="#6d6e71" stroke-width="1.8" />
<circle cx="1261.3" cy="256.8" r="6.8" fill="#fff" stroke="#6d6e71" stroke-width="1.8" />
<circle cx="1288.2" cy="248.9" r="6.8" fill="#fff" stroke="#6d6e71" stroke-width="1.8" />
<circle cx="1315.1" cy="248.9" r="6.8" fill="#fff" stroke="#6d6e71" stroke-width="1.8" />
<circle cx="1342.0" cy="270.5" r="6.8" fill="#fff" stroke="#6d6e71" stroke-width="1.8" />
<circle cx="1369.0" cy="223.8" r="6.8" fill="#fff" stroke="#6d6e71" stroke-width="1.8" />
<circle cx="1395.9" cy="244.6" r="6.8" fill="#fff" stroke="#6d6e71" stroke-width="1.8" />
<circle cx="1422.8" cy="243.2" r="6.8" fill="#fff" stroke="#6d6e71" stroke-width="1.8" />
<circle cx="1449.7" cy="223.8" r="6.8" fill="#fff" stroke="#6d6e71" stroke-width="1.8" />
<circle cx="1476.6" cy="268.3" r="6.8" fill="#fff" stroke="#6d6e71" stroke-width="1.8" />
<circle cx="1503.5" cy="259.0" r="6.8" fill="#fff" stroke="#6d6e71" stroke-width="1.8" />
<circle cx="1099.8" cy="275.5" r="7.5" fill="#000" stroke="none" stroke-width="1" />
<circle cx="1126.8" cy="279.1" r="7.5" fill="#000" stroke="none" stroke-width="1" />
<circle cx="1153.7" cy="289.2" r="7.5" fill="#000" stroke="none" stroke-width="1" />
<circle cx="1180.6" cy="271.2" r="7.5" fill="#000" stroke="none" stroke-width="1" />
<circle cx="1207.5" cy="287.0" r="7.5" fill="#000" stroke="none" stroke-width="1" />
<circle cx="1234.4" cy="277.7" r="7.5" fill="#000" stroke="none" stroke-width="1" />
<circle cx="1261.3" cy="287.0" r="7.5" fill="#000" stroke="none" stroke-width="1" />
<circle cx="1288.2" cy="260.4" r="7.5" fill="#000" stroke="none" stroke-width="1" />
<circle cx="1315.1" cy="262.6" r="7.5" fill="#000" stroke="none" stroke-width="1" />
<circle cx="1342.0" cy="279.8" r="7.5" fill="#000" stroke="none" stroke-width="1" />
<circle cx="1369.0" cy="273.4" r="7.5" fill="#000" stroke="none" stroke-width="1" />
<circle cx="1395.9" cy="277.0" r="7.5" fill="#000" stroke="none" stroke-width="1" />
<circle cx="1422.8" cy="284.1" r="7.5" fill="#000" stroke="none" stroke-width="1" />
<circle cx="1449.7" cy="274.8" r="7.5" fill="#000" stroke="none" stroke-width="1" />
<circle cx="1476.6" cy="291.3" r="7.5" fill="#000" stroke="none" stroke-width="1" />
<circle cx="1503.5" cy="284.9" r="7.5" fill="#000" stroke="none" stroke-width="1" />
<text x="2.1" y="490.1" font-size="37.0" stroke="#000" stroke-width="0.35">c</text>
<rect x="24.6" y="510.9" width="1510.4" height="152.9" fill="none" stroke="#111" stroke-width="2.2" />
<line x1="24.6" y1="601.6" x2="1535.0" y2="601.6" stroke="#111" stroke-width="2.2" />
<line x1="247.8" y1="510.9" x2="247.8" y2="663.8" stroke="#111" stroke-width="2.2" />
<line x1="481.0" y1="510.9" x2="481.0" y2="663.8" stroke="#111" stroke-width="2.2" />
<line x1="680.8" y1="510.9" x2="680.8" y2="663.8" stroke="#111" stroke-width="2.2" />
<line x1="878.7" y1="510.9" x2="878.7" y2="663.8" stroke="#111" stroke-width="2.2" />
<line x1="1136.7" y1="510.9" x2="1136.7" y2="663.8" stroke="#111" stroke-width="2.2" />
<line x1="1337.0" y1="510.9" x2="1337.0" y2="663.8" stroke="#111" stroke-width="2.2" />
<text x="46.7" y="545.0" font-size="29.2" font-weight="bold" stroke="#000" stroke-width="0.35">protein</text>
<text x="258.8" y="545.0" font-size="29.2" font-weight="bold" stroke="#000" stroke-width="0.35">Immobilization</text>
<text x="258.7" y="581.5" font-size="29.2" font-weight="bold" stroke="#000" stroke-width="0.35">level [pg/mm²]</text>
<text x="496.7" y="545.0" font-size="29.2" font-weight="bold" stroke="#000" stroke-width="0.35">Kd IAA at</text>
<text x="496.7" y="581.5" font-size="29.2" font-weight="bold" stroke="#000" stroke-width="0.35">pH 5.5 [µM]</text>
<text x="695.4" y="545.0" font-size="29.2" font-weight="bold" stroke="#000" stroke-width="0.35">Kd BA at</text>
<text x="695.4" y="581.5" font-size="29.2" font-weight="bold" stroke="#000" stroke-width="0.35">pH 5.5 [µM]</text>
<text x="894.1" y="545.0" font-size="29.2" font-weight="bold" stroke="#000" stroke-width="0.35">Immobilization</text>
<text x="894.0" y="581.5" font-size="29.2" font-weight="bold" stroke="#000" stroke-width="0.35">level [pg/mm²]</text>
<text x="1149.1" y="545.0" font-size="29.2" font-weight="bold" stroke="#000" stroke-width="0.35">Kd IAA at</text>
<text x="1149.1" y="581.5" font-size="29.2" font-weight="bold" stroke="#000" stroke-width="0.35">pH 7.6 [µM]</text>
<text x="1346.1" y="545.0" font-size="29.2" font-weight="bold" stroke="#000" stroke-width="0.35">Kd BA at</text>
<text x="1346.1" y="581.5" font-size="29.2" font-weight="bold" stroke="#000" stroke-width="0.35">pH 7.6 [µM]</text>
<text x="46.3" y="645.6" font-size="28.5" textLength="147.1" lengthAdjust="spacingAndGlyphs" stroke="#000" stroke-width="0.35">ECD TMK1</text>
<text x="326.5" y="645.0" font-size="28.5" textLength="66.2" lengthAdjust="spacingAndGlyphs" stroke="#000" stroke-width="0.35">3600</text>
<text x="552.5" y="643.8" font-size="28.5" textLength="51.8" lengthAdjust="spacingAndGlyphs" stroke="#000" stroke-width="0.35">N/D</text>
<text x="750.0" y="645.2" font-size="28.5" textLength="51.0" lengthAdjust="spacingAndGlyphs" stroke="#000" stroke-width="0.35">N/D</text>
<text x="975.6" y="644.0" font-size="28.5" textLength="64.8" lengthAdjust="spacingAndGlyphs" stroke="#000" stroke-width="0.35">9000</text>
<text x="1215.2" y="646.6" font-size="28.5" textLength="52.5" lengthAdjust="spacingAndGlyphs" stroke="#000" stroke-width="0.35">N/D</text>
<text x="1407.2" y="646.6" font-size="28.5" textLength="51.4" lengthAdjust="spacingAndGlyphs" stroke="#000" stroke-width="0.35">N/D</text>
<text x="22.1" y="974.4" font-size="27.0" textLength="274.0" lengthAdjust="spacingAndGlyphs" transform="rotate(-90 22.1 974.4)" stroke="#000" stroke-width="0.35">Surface Mass [pg/mm²]</text>
<polyline points="73.0,888.9 83.7,888.9 83.7,855.2 88.4,854.9 93.0,854.7 97.7,854.4 102.4,854.2 107.1,854.3 111.8,854.4 116.5,854.5 121.2,854.5 125.8,854.6 130.5,854.7 135.2,854.8 139.9,854.9 144.6,855.0 149.3,855.0 153.9,855.1 158.6,855.2 163.3,855.3 168.0,855.4 172.7,855.5 177.4,855.6 182.0,855.6 186.7,855.7 191.4,855.8 196.1,855.9 200.8,856.0 205.5,856.1 210.1,856.1 214.8,856.2 219.5,856.3 224.2,856.4 228.9,856.5 233.6,856.6 238.3,856.7 242.9,856.7 247.6,856.8 252.3,856.9 257.0,857.0 261.7,857.1 266.4,857.2 271.0,857.2 275.7,857.3 280.4,857.4 285.1,857.5 289.8,857.6 294.5,857.7 299.1,857.8 303.8,857.8 308.5,857.9 313.2,858.0 317.9,858.1 322.6,858.2 327.3,858.3 331.9,858.3 336.6,858.4 341.3,858.5 346.0,858.6 350.7,858.7 355.4,858.8 360.0,858.9 364.7,858.9 365.6,884.3 365.8,884.3 368.1,884.3 370.4,884.3 372.7,884.3 374.9,884.3 377.2,884.3 379.5,884.3 381.8,884.3 384.1,884.3 386.4,884.3 388.7,884.3 391.0,884.3 393.3,884.3 395.5,884.3 397.8,884.3 400.1,884.3 402.4,884.3 404.7,884.3 407.0,884.3 409.3,884.3 411.6,884.3" fill="none" stroke="#3a9a48" stroke-width="1.7" stroke-linejoin="round" />
<polyline points="73.0,888.9 83.7,888.9 83.7,866.8 88.4,866.8 93.0,866.8 97.7,866.8 102.4,866.8 107.1,866.8 111.8,866.8 116.5,866.8 121.2,866.8 125.8,866.8 130.5,866.8 135.2,866.8 139.9,866.8 144.6,866.8 149.3,866.8 153.9,866.8 158.6,866.8 163.3,866.8 168.0,866.8 172.7,866.8 177.4,866.8 182.0,866.8 186.7,866.8 191.4,866.8 196.1,866.8 200.8,866.8 205.5,866.8 210.1,866.8 214.8,866.8 219.5,866.8 224.2,866.8 228.9,866.8 233.6,866.8 238.3,866.8 242.9,866.8 247.6,866.8 252.3,866.8 257.0,866.8 261.7,866.8 266.4,866.8 271.0,866.8 275.7,866.8 280.4,866.8 285.1,866.8 289.8,866.8 294.5,866.8 299.1,866.8 303.8,866.8 308.5,866.8 313.2,866.8 317.9,866.8 322.6,866.8 327.3,866.8 331.9,866.8 336.6,866.8 341.3,866.8 346.0,866.8 350.7,866.8 355.4,866.8 360.0,866.8 364.7,866.8 365.6,886.6 365.8,886.6 368.1,886.6 370.4,886.6 372.7,886.6 374.9,886.6 377.2,886.6 379.5,886.6 381.8,886.6 384.1,886.6 386.4,886.6 388.7,886.6 391.0,886.6 393.3,886.6 395.5,886.6 397.8,886.6 400.1,886.6 402.4,886.6 404.7,886.6 407.0,886.6 409.3,886.6 411.6,886.6" fill="none" stroke="#3a9a48" stroke-width="1.7" stroke-linejoin="round" />
<polyline points="73.0,888.9 83.7,888.9 83.7,883.4 88.4,881.5 93.0,879.9 97.7,878.5 102.4,877.3 107.1,876.3 111.8,875.5 116.5,874.8 121.2,874.1 125.8,873.6 130.5,873.1 135.2,872.8 139.9,872.4 144.6,872.1 149.3,871.9 153.9,871.7 158.6,871.5 163.3,871.4 168.0,871.2 172.7,871.1 177.4,871.0 182.0,870.9 186.7,870.9 191.4,870.8 196.1,870.8 200.8,870.7 205.5,870.7 210.1,870.8 214.8,870.9 219.5,871.1 224.2,871.2 228.9,871.4 233.6,871.5 238.3,871.7 242.9,871.9 247.6,872.1 252.3,872.2 257.0,872.4 261.7,872.6 266.4,872.7 271.0,872.9 275.7,873.1 280.4,873.3 285.1,873.4 289.8,873.6 294.5,873.8 299.1,874.0 303.8,874.1 308.5,874.3 313.2,874.5 317.9,874.7 322.6,874.9 327.3,875.0 331.9,875.2 336.6,875.4 341.3,875.6 346.0,875.7 350.7,875.9 355.4,876.1 360.0,876.3 364.7,876.5 365.6,887.1 365.8,887.1 368.1,887.1 370.4,887.1 372.7,887.1 374.9,887.1 377.2,887.1 379.5,887.1 381.8,887.1 384.1,887.1 386.4,887.1 388.7,887.1 391.0,887.1 393.3,887.1 395.5,887.1 397.8,887.1 400.1,887.1 402.4,887.1 404.7,887.1 407.0,887.1 409.3,887.1 411.6,887.1" fill="none" stroke="#3a9a48" stroke-width="1.7" stroke-linejoin="round" />
<polyline points="73.0,888.9 83.7,888.9 83.7,888.9 88.4,887.5 93.0,886.8 97.7,886.4 102.4,886.3 107.1,886.2 111.8,886.2 116.5,886.2 121.2,886.1 125.8,886.1 130.5,886.1 135.2,886.1 139.9,886.1 144.6,886.1 149.3,886.1 153.9,886.1 158.6,886.1 163.3,886.1 168.0,886.1 172.7,886.1 177.4,886.1 182.0,886.1 186.7,886.1 191.4,886.1 196.1,886.1 200.8,886.1 205.5,886.1 210.1,886.1 214.8,886.1 219.5,886.1 224.2,886.1 228.9,886.1 233.6,886.1 238.3,886.1 242.9,886.1 247.6,886.1 252.3,886.1 257.0,886.1 261.7,886.1 266.4,886.1 271.0,886.1 275.7,886.1 280.4,886.1 285.1,886.1 289.8,886.1 294.5,886.1 299.1,886.1 303.8,886.1 308.5,886.1 313.2,886.1 317.9,886.1 322.6,886.1 327.3,886.1 331.9,886.1 336.6,886.1 341.3,886.1 346.0,886.1 350.7,886.1 355.4,886.1 360.0,886.1 364.7,886.1 365.6,887.5 365.8,887.5 368.1,887.5 370.4,887.5 372.7,887.5 374.9,887.5 377.2,887.5 379.5,887.5 381.8,887.5 384.1,887.5 386.4,887.5 388.7,887.5 391.0,887.5 393.3,887.5 395.5,887.5 397.8,887.5 400.1,887.5 402.4,887.5 404.7,887.5 407.0,887.5 409.3,887.5 411.6,887.5" fill="none" stroke="#62b85a" stroke-width="2.0" stroke-linejoin="round" />
<polyline points="73.0,888.9 83.7,888.9 83.7,888.9 88.4,887.9 93.0,887.5 97.7,887.3 102.4,887.2 107.1,887.1 111.8,887.1 116.5,887.1 121.2,887.1 125.8,887.1 130.5,887.1 135.2,887.1 139.9,887.1 144.6,887.1 149.3,887.1 153.9,887.1 158.6,887.1 163.3,887.1 168.0,887.1 172.7,887.1 177.4,887.1 182.0,887.1 186.7,887.1 191.4,887.1 196.1,887.1 200.8,887.1 205.5,887.1 210.1,887.1 214.8,887.1 219.5,887.1 224.2,887.1 228.9,887.1 233.6,887.1 238.3,887.1 242.9,887.1 247.6,887.1 252.3,887.1 257.0,887.1 261.7,887.1 266.4,887.1 271.0,887.1 275.7,887.1 280.4,887.1 285.1,887.1 289.8,887.1 294.5,887.1 299.1,887.1 303.8,887.1 308.5,887.1 313.2,887.1 317.9,887.1 322.6,887.1 327.3,887.1 331.9,887.1 336.6,887.1 341.3,887.1 346.0,887.1 350.7,887.1 355.4,887.1 360.0,887.1 364.7,887.1 365.6,888.0 365.8,888.0 368.1,888.0 370.4,888.0 372.7,888.0 374.9,888.0 377.2,888.0 379.5,888.0 381.8,888.0 384.1,888.0 386.4,888.0 388.7,888.0 391.0,888.0 393.3,888.0 395.5,888.0 397.8,888.0 400.1,888.0 402.4,888.0 404.7,888.0 407.0,888.0 409.3,888.0 411.6,888.0" fill="none" stroke="#62b85a" stroke-width="2.0" stroke-linejoin="round" />
<polyline points="73.0,888.9 83.7,888.9 83.7,888.9 88.4,889.4 93.0,889.6 97.7,889.7 102.4,889.8 107.1,889.8 111.8,889.8 116.5,889.8 121.2,889.8 125.8,889.8 130.5,889.8 135.2,889.8 139.9,889.8 144.6,889.8 149.3,889.8 153.9,889.8 158.6,889.8 163.3,889.8 168.0,889.8 172.7,889.8 177.4,889.8 182.0,889.8 186.7,889.8 191.4,889.8 196.1,889.8 200.8,889.8 205.5,889.8 210.1,889.8 214.8,889.8 219.5,889.8 224.2,889.8 228.9,889.8 233.6,889.8 238.3,889.8 242.9,889.8 247.6,889.8 252.3,889.8 257.0,889.8 261.7,889.8 266.4,889.8 271.0,889.8 275.7,889.8 280.4,889.8 285.1,889.8 289.8,889.8 294.5,889.8 299.1,889.8 303.8,889.8 308.5,889.8 313.2,889.8 317.9,889.8 322.6,889.8 327.3,889.8 331.9,889.8 336.6,889.8 341.3,889.8 346.0,889.8 350.7,889.8 355.4,889.8 360.0,889.8 364.7,889.8 365.6,889.4 365.8,889.4 368.1,889.4 370.4,889.4 372.7,889.4 374.9,889.4 377.2,889.4 379.5,889.4 381.8,889.4 384.1,889.4 386.4,889.4 388.7,889.4 391.0,889.4 393.3,889.4 395.5,889.4 397.8,889.4 400.1,889.4 402.4,889.4 404.7,889.4 407.0,889.4 409.3,889.4 411.6,889.4" fill="none" stroke="#62b85a" stroke-width="2.0" stroke-linejoin="round" />
<polyline points="73.0,888.9 83.7,888.9 83.7,888.9 88.4,890.8 93.0,891.7 97.7,892.2 102.4,892.4 107.1,892.5 111.8,892.5 116.5,892.6 121.2,892.6 125.8,892.6 130.5,892.6 135.2,892.6 139.9,892.6 144.6,892.6 149.3,892.6 153.9,892.6 158.6,892.6 163.3,892.6 168.0,892.6 172.7,892.6 177.4,892.6 182.0,892.6 186.7,892.6 191.4,892.6 196.1,892.6 200.8,892.6 205.5,892.6 210.1,892.6 214.8,892.6 219.5,892.6 224.2,892.6 228.9,892.6 233.6,892.6 238.3,892.6 242.9,892.6 247.6,892.6 252.3,892.6 257.0,892.6 261.7,892.6 266.4,892.6 271.0,892.6 275.7,892.6 280.4,892.6 285.1,892.6 289.8,892.6 294.5,892.6 299.1,892.6 303.8,892.6 308.5,892.6 313.2,892.6 317.9,892.6 322.6,892.6 327.3,892.6 331.9,892.6 336.6,892.6 341.3,892.6 346.0,892.6 350.7,892.6 355.4,892.6 360.0,892.6 364.7,892.6 365.6,890.7 365.8,890.7 368.1,890.7 370.4,890.7 372.7,890.7 374.9,890.7 377.2,890.7 379.5,890.7 381.8,890.7 384.1,890.7 386.4,890.7 388.7,890.7 391.0,890.7 393.3,890.7 395.5,890.7 397.8,890.7 400.1,890.7 402.4,890.7 404.7,890.7 407.0,890.7 409.3,890.7 411.6,890.7" fill="none" stroke="#9fd494" stroke-width="2.0" stroke-linejoin="round" />
<polyline points="73.0,888.9 83.7,888.9 83.7,888.9 88.4,891.8 93.0,893.2 97.7,893.8 102.4,894.1 107.1,894.3 111.8,894.4 116.5,894.4 121.2,894.4 125.8,894.4 130.5,894.4 135.2,894.4 139.9,894.4 144.6,894.4 149.3,894.4 153.9,894.4 158.6,894.4 163.3,894.4 168.0,894.4 172.7,894.4 177.4,894.4 182.0,894.4 186.7,894.4 191.4,894.4 196.1,894.4 200.8,894.4 205.5,894.4 210.1,894.4 214.8,894.4 219.5,894.4 224.2,894.4 228.9,894.4 233.6,894.4 238.3,894.4 242.9,894.4 247.6,894.4 252.3,894.4 257.0,894.4 261.7,894.4 266.4,894.4 271.0,894.4 275.7,894.4 280.4,894.4 285.1,894.4 289.8,894.4 294.5,894.4 299.1,894.4 303.8,894.4 308.5,894.4 313.2,894.4 317.9,894.4 322.6,894.4 327.3,894.4 331.9,894.4 336.6,894.4 341.3,894.4 346.0,894.4 350.7,894.4 355.4,894.4 360.0,894.4 364.7,894.4 365.6,891.7 365.8,891.7 368.1,891.7 370.4,891.7 372.7,891.7 374.9,891.7 377.2,891.7 379.5,891.7 381.8,891.7 384.1,891.7 386.4,891.7 388.7,891.7 391.0,891.7 393.3,891.7 395.5,891.7 397.8,891.7 400.1,891.7 402.4,891.7 404.7,891.7 407.0,891.7 409.3,891.7 411.6,891.7" fill="none" stroke="#62b85a" stroke-width="2.0" stroke-linejoin="round" />
<polyline points="73.0,888.9 83.7,888.9 83.7,888.9 88.4,892.5 93.0,894.2 97.7,895.1 102.4,895.4 107.1,895.6 111.8,895.7 116.5,895.8 121.2,895.8 125.8,895.8 130.5,895.8 135.2,895.8 139.9,895.8 144.6,895.8 149.3,895.8 153.9,895.8 158.6,895.8 163.3,895.8 168.0,895.8 172.7,895.8 177.4,895.8 182.0,895.8 186.7,895.8 191.4,895.8 196.1,895.8 200.8,895.8 205.5,895.8 210.1,895.8 214.8,895.8 219.5,895.8 224.2,895.8 228.9,895.8 233.6,895.8 238.3,895.8 242.9,895.8 247.6,895.8 252.3,895.8 257.0,895.8 261.7,895.8 266.4,895.8 271.0,895.8 275.7,895.8 280.4,895.8 285.1,895.8 289.8,895.8 294.5,895.8 299.1,895.8 303.8,895.8 308.5,895.8 313.2,895.8 317.9,895.8 322.6,895.8 327.3,895.8 331.9,895.8 336.6,895.8 341.3,895.8 346.0,895.8 350.7,895.8 355.4,895.8 360.0,895.8 364.7,895.8 365.6,892.4 365.8,892.4 368.1,892.4 370.4,892.4 372.7,892.4 374.9,892.4 377.2,892.4 379.5,892.4 381.8,892.4 384.1,892.4 386.4,892.4 388.7,892.4 391.0,892.4 393.3,892.4 395.5,892.4 397.8,892.4 400.1,892.4 402.4,892.4 404.7,892.4 407.0,892.4 409.3,892.4 411.6,892.4" fill="none" stroke="#9fd494" stroke-width="2.0" stroke-linejoin="round" />
<polyline points="73.0,888.9 83.7,888.9 83.7,888.9 88.4,888.7 93.0,888.5 97.7,888.5 102.4,888.5 107.1,888.5 111.8,888.4 116.5,888.4 121.2,888.4 125.8,888.4 130.5,888.4 135.2,888.4 139.9,888.4 144.6,888.4 149.3,888.4 153.9,888.4 158.6,888.4 163.3,888.4 168.0,888.4 172.7,888.4 177.4,888.4 182.0,888.4 186.7,888.4 191.4,888.4 196.1,888.4 200.8,888.4 205.5,888.4 210.1,888.4 214.8,888.4 219.5,888.4 224.2,888.4 228.9,888.4 233.6,888.4 238.3,888.4 242.9,888.4 247.6,888.4 252.3,888.4 257.0,888.4 261.7,888.4 266.4,888.4 271.0,888.4 275.7,888.4 280.4,888.4 285.1,888.4 289.8,888.4 294.5,888.4 299.1,888.4 303.8,888.4 308.5,888.4 313.2,888.4 317.9,888.4 322.6,888.4 327.3,888.4 331.9,888.4 336.6,888.4 341.3,888.4 346.0,888.4 350.7,888.4 355.4,888.4 360.0,888.4 364.7,888.4 365.6,888.7 365.8,888.7 368.1,888.7 370.4,888.7 372.7,888.7 374.9,888.7 377.2,888.7 379.5,888.7 381.8,888.7 384.1,888.7 386.4,888.7 388.7,888.7 391.0,888.7 393.3,888.7 395.5,888.7 397.8,888.7 400.1,888.7 402.4,888.7 404.7,888.7 407.0,888.7 409.3,888.7 411.6,888.7" fill="none" stroke="#9fd494" stroke-width="2.0" stroke-linejoin="round" />
<line x1="70.3" y1="704.3" x2="70.3" y2="913.5" stroke="#000" stroke-width="2" />
<line x1="69.3" y1="912.5" x2="413.0" y2="912.5" stroke="#000" stroke-width="2" />
<line x1="62.3" y1="710.3" x2="70.3" y2="710.3" stroke="#000" stroke-width="1.8" />
<text x="38.3" y="716.2" font-size="20.0" stroke="#000" stroke-width="0.35">40</text>
<line x1="62.3" y1="750.3" x2="70.3" y2="750.3" stroke="#000" stroke-width="1.8" />
<text x="38.3" y="756.2" font-size="20.0" stroke="#000" stroke-width="0.35">30</text>
<line x1="62.3" y1="796.5" x2="70.3" y2="796.5" stroke="#000" stroke-width="1.8" />
<text x="38.3" y="802.4" font-size="20.0" stroke="#000" stroke-width="0.35">20</text>
<line x1="62.3" y1="842.8" x2="70.3" y2="842.8" stroke="#000" stroke-width="1.8" />
<text x="38.3" y="848.7" font-size="20.0" stroke="#000" stroke-width="0.35">10</text>
<line x1="62.3" y1="888.9" x2="70.3" y2="888.9" stroke="#000" stroke-width="1.8" />
<text x="49.4" y="894.8" font-size="20.0" stroke="#000" stroke-width="0.35">0</text>
<line x1="79.4" y1="912.5" x2="79.4" y2="920.5" stroke="#000" stroke-width="1.8" />
<text x="74.0" y="937.0" font-size="19.3" stroke="#000" stroke-width="0.35">0</text>
<line x1="122.0" y1="912.5" x2="122.0" y2="920.5" stroke="#000" stroke-width="1.8" />
<text x="111.1" y="937.0" font-size="19.3" stroke="#000" stroke-width="0.35">20</text>
<line x1="164.6" y1="912.5" x2="164.6" y2="920.5" stroke="#000" stroke-width="1.8" />
<text x="154.0" y="937.0" font-size="19.3" stroke="#000" stroke-width="0.35">40</text>
<line x1="207.2" y1="912.5" x2="207.2" y2="920.5" stroke="#000" stroke-width="1.8" />
<text x="196.3" y="937.0" font-size="19.3" stroke="#000" stroke-width="0.35">60</text>
<line x1="249.7" y1="912.5" x2="249.7" y2="920.5" stroke="#000" stroke-width="1.8" />
<text x="238.9" y="937.0" font-size="19.3" stroke="#000" stroke-width="0.35">80</text>
<line x1="292.3" y1="912.5" x2="292.3" y2="920.5" stroke="#000" stroke-width="1.8" />
<text x="275.9" y="937.0" font-size="19.3" stroke="#000" stroke-width="0.35">100</text>
<line x1="334.9" y1="912.5" x2="334.9" y2="920.5" stroke="#000" stroke-width="1.8" />
<text x="318.5" y="937.0" font-size="19.3" stroke="#000" stroke-width="0.35">120</text>
<line x1="377.5" y1="912.5" x2="377.5" y2="920.5" stroke="#000" stroke-width="1.8" />
<text x="361.0" y="937.0" font-size="19.3" stroke="#000" stroke-width="0.35">140</text>
<text x="102.8" y="804.0" font-size="26.5" stroke="#000" stroke-width="0.35">Kd N/D</text>
<text x="212.1" y="965.5" font-size="26.5" stroke="#000" stroke-width="0.35">Time [s]</text>
<text x="153.8" y="1003.7" font-size="26.5" stroke="#000" stroke-width="0.35">TMK1 - IAA pH 5.5</text>
<polyline points="451.6,888.8 456.9,888.8" fill="none" stroke="#62b85a" stroke-width="4" stroke-linejoin="round" />
<polyline points="463.5,895.7 463.5,845.1 464.2,892.5" fill="none" stroke="#3a9a48" stroke-width="1.5" stroke-linejoin="round" />
<polyline points="464.4,877.3 464.4,879.6 471.2,880.0 478.1,880.5 485.0,880.8 491.9,881.2 498.8,881.5 505.7,881.8 512.5,882.1 519.4,882.3 526.3,882.6 533.2,882.8 540.1,883.0 546.9,883.2 553.8,883.3 560.7,883.5 567.6,883.6 574.5,883.8 581.3,883.9 588.2,884.0 595.1,884.1 602.0,884.2 608.9,884.3 615.7,884.4 622.6,884.4 629.5,884.5 636.4,884.6 643.3,884.6 650.1,884.7 657.0,884.7 663.9,884.8 670.8,884.8 677.7,884.9 684.6,884.9 691.4,884.9 698.3,885.0 705.2,885.0 712.1,885.0 719.0,885.1 725.8,885.1 732.7,885.1 739.6,885.1 741.7,890.6 748.1,893.4 748.1,893.4 754.5,893.7 760.9,894.0 767.3,894.3 773.7,894.6 780.1,894.9 786.5,895.2" fill="none" stroke="#b8c8b0" stroke-width="1.5" stroke-linejoin="round" />
<polyline points="464.4,885.1 464.4,887.4 471.2,887.8 478.1,888.2 485.0,888.6 491.9,888.9 498.8,889.2 505.7,889.4 512.5,889.7 519.4,889.9 526.3,890.1 533.2,890.3 540.1,890.5 546.9,890.7 553.8,890.8 560.7,891.0 567.6,891.1 574.5,891.2 581.3,891.4 588.2,891.5 595.1,891.6 602.0,891.6 608.9,891.7 615.7,891.8 622.6,891.9 629.5,891.9 636.4,892.0 643.3,892.0 650.1,892.1 657.0,892.1 663.9,892.2 670.8,892.2 677.7,892.3 684.6,892.3 691.4,892.3 698.3,892.3 705.2,892.4 712.1,892.4 719.0,892.4 725.8,892.4 732.7,892.5 739.6,892.5 741.7,889.3 748.1,892.0 748.1,892.0 754.5,892.0 760.9,892.0 767.3,892.0 773.7,892.0 780.1,892.0 786.5,892.0" fill="none" stroke="#62b85a" stroke-width="3.5" stroke-linejoin="round" />
<polyline points="464.4,887.9 464.4,890.2 471.2,890.6 478.1,891.0 485.0,891.4 491.9,891.8 498.8,892.1 505.7,892.4 512.5,892.7 519.4,892.9 526.3,893.1 533.2,893.4 540.1,893.6 546.9,893.7 553.8,893.9 560.7,894.1 567.6,894.2 574.5,894.3 581.3,894.5 588.2,894.6 595.1,894.7 602.0,894.8 608.9,894.9 615.7,895.0 622.6,895.0 629.5,895.1 636.4,895.2 643.3,895.2 650.1,895.3 657.0,895.3 663.9,895.4 670.8,895.4 677.7,895.5 684.6,895.5 691.4,895.5 698.3,895.6 705.2,895.6 712.1,895.6 719.0,895.6 725.8,895.7 732.7,895.7 739.6,895.7 741.7,889.3 748.1,892.0 748.1,892.0 754.5,892.0 760.9,892.0 767.3,892.0 773.7,892.0 780.1,892.0 786.5,892.0" fill="none" stroke="#62b85a" stroke-width="2.5" stroke-linejoin="round" />
<polyline points="464.4,890.2 464.4,892.5 471.2,892.9 478.1,893.3 485.0,893.6 491.9,893.9 498.8,894.2 505.7,894.5 512.5,894.8 519.4,895.0 526.3,895.2 533.2,895.4 540.1,895.6 546.9,895.7 553.8,895.9 560.7,896.0 567.6,896.2 574.5,896.3 581.3,896.4 588.2,896.5 595.1,896.6 602.0,896.7 608.9,896.8 615.7,896.9 622.6,896.9 629.5,897.0 636.4,897.0 643.3,897.1 650.1,897.2 657.0,897.2 663.9,897.2 670.8,897.3 677.7,897.3 684.6,897.4 691.4,897.4 698.3,897.4 705.2,897.4 712.1,897.5 719.0,897.5 725.8,897.5 732.7,897.5 739.6,897.5 741.7,889.3 748.1,892.0 748.1,892.0 754.5,892.0 760.9,892.0 767.3,892.0 773.7,892.0 780.1,892.0 786.5,892.0" fill="none" stroke="#3a9a48" stroke-width="2" stroke-linejoin="round" />
<polyline points="464.4,893.4 464.4,895.7 471.2,896.2 478.1,896.7 485.0,897.1 491.9,897.5 498.8,897.9 505.7,898.3 512.5,898.6 519.4,898.9 526.3,899.2 533.2,899.4 540.1,899.6 546.9,899.9 553.8,900.1 560.7,900.2 567.6,900.4 574.5,900.6 581.3,900.7 588.2,900.8 595.1,901.0 602.0,901.1 608.9,901.2 615.7,901.3 622.6,901.4 629.5,901.4 636.4,901.5 643.3,901.6 650.1,901.6 657.0,901.7 663.9,901.8 670.8,901.8 677.7,901.9 684.6,901.9 691.4,901.9 698.3,902.0 705.2,902.0 712.1,902.0 719.0,902.1 725.8,902.1 732.7,902.1 739.6,902.1 741.7,889.3 748.1,892.0 748.1,892.0 754.5,892.0 760.9,892.0 767.3,892.0 773.7,892.0 780.1,892.0 786.5,892.0" fill="none" stroke="#3a9a48" stroke-width="2.5" stroke-linejoin="round" />
<polyline points="464.4,895.7 464.4,898.0 471.2,898.6 478.1,899.1 485.0,899.6 491.9,900.1 498.8,900.5 505.7,900.9 512.5,901.3 519.4,901.6 526.3,902.0 533.2,902.2 540.1,902.5 546.9,902.8 553.8,903.0 560.7,903.2 567.6,903.4 574.5,903.6 581.3,903.7 588.2,903.9 595.1,904.0 602.0,904.1 608.9,904.3 615.7,904.4 622.6,904.5 629.5,904.6 636.4,904.6 643.3,904.7 650.1,904.8 657.0,904.9 663.9,904.9 670.8,905.0 677.7,905.0 684.6,905.1 691.4,905.1 698.3,905.2 705.2,905.2 712.1,905.2 719.0,905.3 725.8,905.3 732.7,905.3 739.6,905.4 741.7,889.3 748.1,892.0 748.1,892.0 754.5,892.0 760.9,892.0 767.3,892.0 773.7,892.0 780.1,892.0 786.5,892.0" fill="none" stroke="#3a9a48" stroke-width="2.5" stroke-linejoin="round" />
<polyline points="464.4,898.0 464.4,900.3 471.2,900.8 478.1,901.3 485.0,901.7 491.9,902.1 498.8,902.5 505.7,902.9 512.5,903.2 519.4,903.5 526.3,903.8 533.2,904.0 540.1,904.2 546.9,904.5 553.8,904.7 560.7,904.8 567.6,905.0 574.5,905.2 581.3,905.3 588.2,905.4 595.1,905.6 602.0,905.7 608.9,905.8 615.7,905.9 622.6,906.0 629.5,906.0 636.4,906.1 643.3,906.2 650.1,906.2 657.0,906.3 663.9,906.4 670.8,906.4 677.7,906.5 684.6,906.5 691.4,906.5 698.3,906.6 705.2,906.6 712.1,906.6 719.0,906.7 725.8,906.7 732.7,906.7 739.6,906.7 741.7,889.3 748.1,892.0 748.1,892.0 754.5,892.0 760.9,892.0 767.3,892.0 773.7,892.0 780.1,892.0 786.5,892.0" fill="none" stroke="#2f9440" stroke-width="2" stroke-linejoin="round" />
<line x1="444.7" y1="704.3" x2="444.7" y2="913.6" stroke="#000" stroke-width="2" />
<line x1="443.7" y1="912.6" x2="787.0" y2="912.6" stroke="#000" stroke-width="2" />
<line x1="436.7" y1="711.0" x2="444.7" y2="711.0" stroke="#000" stroke-width="1.8" />
<text x="412.7" y="716.9" font-size="20.0" stroke="#000" stroke-width="0.35">40</text>
<line x1="436.7" y1="750.5" x2="444.7" y2="750.5" stroke="#000" stroke-width="1.8" />
<text x="412.7" y="756.4" font-size="20.0" stroke="#000" stroke-width="0.35">30</text>
<line x1="436.7" y1="796.5" x2="444.7" y2="796.5" stroke="#000" stroke-width="1.8" />
<text x="412.7" y="802.4" font-size="20.0" stroke="#000" stroke-width="0.35">20</text>
<line x1="436.7" y1="842.8" x2="444.7" y2="842.8" stroke="#000" stroke-width="1.8" />
<text x="412.7" y="848.7" font-size="20.0" stroke="#000" stroke-width="0.35">10</text>
<line x1="436.7" y1="888.8" x2="444.7" y2="888.8" stroke="#000" stroke-width="1.8" />
<text x="423.8" y="894.7" font-size="20.0" stroke="#000" stroke-width="0.35">0</text>
<line x1="453.7" y1="912.6" x2="453.7" y2="920.6" stroke="#000" stroke-width="1.8" />
<text x="448.3" y="937.1" font-size="19.3" stroke="#000" stroke-width="0.35">0</text>
<line x1="496.4" y1="912.6" x2="496.4" y2="920.6" stroke="#000" stroke-width="1.8" />
<text x="485.5" y="937.1" font-size="19.3" stroke="#000" stroke-width="0.35">20</text>
<line x1="539.0" y1="912.6" x2="539.0" y2="920.6" stroke="#000" stroke-width="1.8" />
<text x="528.5" y="937.1" font-size="19.3" stroke="#000" stroke-width="0.35">40</text>
<line x1="581.7" y1="912.6" x2="581.7" y2="920.6" stroke="#000" stroke-width="1.8" />
<text x="570.9" y="937.1" font-size="19.3" stroke="#000" stroke-width="0.35">60</text>
<line x1="624.4" y1="912.6" x2="624.4" y2="920.6" stroke="#000" stroke-width="1.8" />
<text x="613.6" y="937.1" font-size="19.3" stroke="#000" stroke-width="0.35">80</text>
<line x1="667.1" y1="912.6" x2="667.1" y2="920.6" stroke="#000" stroke-width="1.8" />
<text x="650.6" y="937.1" font-size="19.3" stroke="#000" stroke-width="0.35">100</text>
<line x1="709.7" y1="912.6" x2="709.7" y2="920.6" stroke="#000" stroke-width="1.8" />
<text x="693.3" y="937.1" font-size="19.3" stroke="#000" stroke-width="0.35">120</text>
<line x1="752.4" y1="912.6" x2="752.4" y2="920.6" stroke="#000" stroke-width="1.8" />
<text x="735.9" y="937.1" font-size="19.3" stroke="#000" stroke-width="0.35">140</text>
<text x="481.0" y="804.0" font-size="26.5" stroke="#000" stroke-width="0.35">Kd N/D</text>
<text x="586.8" y="965.6" font-size="26.5" stroke="#000" stroke-width="0.35">Time [s]</text>
<text x="540.8" y="1003.7" font-size="26.5" stroke="#000" stroke-width="0.35">TMK1 - IAA pH 7.6</text>
<polyline points="822.7,888.8 835.5,888.8" fill="none" stroke="#d2232a" stroke-width="1.8" stroke-linejoin="round" />
<polyline points="835.5,888.8 835.9,879.6 835.9,880.5 841.5,882.5 847.1,883.2 852.7,883.4 858.4,883.4 864.0,883.2 869.6,883.1 875.2,882.9 880.8,882.7 886.5,882.6 892.1,882.4 897.7,882.2 903.3,882.0 908.9,881.8 914.5,881.7 920.2,881.5 925.8,881.4 931.4,881.4 937.0,881.4 942.6,881.4 948.3,881.4 953.9,881.4 959.5,881.4 965.1,881.4 970.7,881.4 976.4,881.4 982.0,881.4 987.6,881.4 993.2,881.4 998.8,881.4 1004.4,881.4 1010.1,881.4 1015.7,881.4 1021.3,881.4 1026.9,881.4 1032.5,881.4 1038.2,881.4 1043.8,881.4 1049.4,881.5 1055.0,881.6 1060.6,881.6 1066.2,881.7 1071.9,881.8 1077.5,881.9 1083.1,881.9 1088.7,882.0 1094.3,882.1 1100.0,882.1 1105.6,882.2 1111.2,882.3 1116.8,882.4 1117.9,890.2 1163.7,890.2" fill="none" stroke="#b81d2a" stroke-width="1.6" stroke-linejoin="round" />
<polyline points="835.5,888.8 836.5,884.2 836.5,884.2 843.5,885.0 850.5,885.4 857.5,885.6 864.6,885.6 871.6,885.6 878.6,885.6 885.6,885.5 892.6,885.5 899.6,885.4 906.6,885.4 913.6,885.3 920.6,885.3 927.6,885.3 934.6,885.2 941.6,885.2 948.6,885.2 955.6,885.1 962.7,885.1 969.7,885.1 976.7,885.1 983.7,885.1 990.7,885.1 997.7,885.1 1004.7,885.2 1011.7,885.2 1018.7,885.2 1025.7,885.3 1032.7,885.3 1039.7,885.3 1046.7,885.4 1053.7,885.4 1060.8,885.5 1067.8,885.6 1074.8,885.6 1081.8,885.7 1088.8,885.7 1095.8,885.8 1102.8,885.9 1109.8,886.0 1116.8,886.0 1117.9,889.7 1163.7,889.7" fill="none" stroke="#d2232a" stroke-width="1.8" stroke-linejoin="round" />
<polyline points="835.5,888.8 835.5,888.8 844.8,888.9 854.2,888.9 863.6,889.0 873.0,889.1 882.4,889.1 891.7,889.2 901.1,889.2 910.5,889.3 919.9,889.3 929.2,889.3 938.6,889.3 948.0,889.3 957.4,889.3 966.8,889.3 976.1,889.3 985.5,889.2 994.9,889.1 1004.3,889.1 1013.7,889.0 1023.0,888.9 1032.4,888.8 1041.8,888.6 1051.2,888.5 1060.5,888.4 1069.9,888.2 1079.3,888.1 1088.7,887.9 1098.1,887.8 1107.4,887.6 1116.8,887.4 1117.9,889.3 1163.7,889.5" fill="none" stroke="#e25560" stroke-width="2.5" stroke-linejoin="round" />
<polyline points="835.5,888.8 835.5,889.3 844.8,889.4 854.2,889.6 863.6,889.7 873.0,889.9 882.4,890.0 891.7,890.1 901.1,890.2 910.5,890.4 919.9,890.5 929.2,890.6 938.6,890.6 948.0,890.7 957.4,890.8 966.8,890.8 976.1,890.9 985.5,890.9 994.9,890.9 1004.3,890.9 1013.7,890.9 1023.0,890.9 1032.4,890.8 1041.8,890.8 1051.2,890.7 1060.5,890.7 1069.9,890.6 1079.3,890.5 1088.7,890.4 1098.1,890.4 1107.4,890.3 1116.8,890.2 1117.9,889.3 1163.7,889.5" fill="none" stroke="#d2232a" stroke-width="2.5" stroke-linejoin="round" />
<polyline points="835.5,888.8 835.5,890.2 844.8,890.2 854.2,890.3 863.6,890.4 873.0,890.4 882.4,890.4 891.7,890.5 901.1,890.5 910.5,890.5 919.9,890.6 929.2,890.6 938.6,890.6 948.0,890.5 957.4,890.5 966.8,890.5 976.1,890.4 985.5,890.3 994.9,890.3 1004.3,890.2 1013.7,890.1 1023.0,889.9 1032.4,889.8 1041.8,889.7 1051.2,889.5 1060.5,889.4 1069.9,889.2 1079.3,889.1 1088.7,888.9 1098.1,888.7 1107.4,888.5 1116.8,888.3 1117.9,889.3 1163.7,889.5" fill="none" stroke="#e25560" stroke-width="2" stroke-linejoin="round" />
<polyline points="835.5,888.8 835.5,887.9 844.8,888.0 854.2,888.0 863.6,888.1 873.0,888.2 882.4,888.2 891.7,888.3 901.1,888.3 910.5,888.4 919.9,888.4 929.2,888.4 938.6,888.4 948.0,888.4 957.4,888.4 966.8,888.4 976.1,888.3 985.5,888.3 994.9,888.2 1004.3,888.1 1013.7,888.1 1023.0,888.0 1032.4,887.8 1041.8,887.7 1051.2,887.6 1060.5,887.5 1069.9,887.3 1079.3,887.2 1088.7,887.0 1098.1,886.8 1107.4,886.7 1116.8,886.5 1117.9,889.3 1163.7,889.5" fill="none" stroke="#d2232a" stroke-width="2" stroke-linejoin="round" />
<line x1="822.4" y1="704.3" x2="822.4" y2="913.7" stroke="#000" stroke-width="2" />
<line x1="821.4" y1="912.7" x2="1163.6" y2="912.7" stroke="#000" stroke-width="2" />
<line x1="814.4" y1="711.0" x2="822.4" y2="711.0" stroke="#000" stroke-width="1.8" />
<text x="790.4" y="716.9" font-size="20.0" stroke="#000" stroke-width="0.35">40</text>
<line x1="814.4" y1="750.5" x2="822.4" y2="750.5" stroke="#000" stroke-width="1.8" />
<text x="790.4" y="756.4" font-size="20.0" stroke="#000" stroke-width="0.35">30</text>
<line x1="814.4" y1="796.5" x2="822.4" y2="796.5" stroke="#000" stroke-width="1.8" />
<text x="790.4" y="802.4" font-size="20.0" stroke="#000" stroke-width="0.35">20</text>
<line x1="814.4" y1="842.8" x2="822.4" y2="842.8" stroke="#000" stroke-width="1.8" />
<text x="790.4" y="848.7" font-size="20.0" stroke="#000" stroke-width="0.35">10</text>
<line x1="814.4" y1="888.8" x2="822.4" y2="888.8" stroke="#000" stroke-width="1.8" />
<text x="801.5" y="894.7" font-size="20.0" stroke="#000" stroke-width="0.35">0</text>
<line x1="831.2" y1="912.7" x2="831.2" y2="920.7" stroke="#000" stroke-width="1.8" />
<text x="825.8" y="937.2" font-size="19.3" stroke="#000" stroke-width="0.35">0</text>
<line x1="873.8" y1="912.7" x2="873.8" y2="920.7" stroke="#000" stroke-width="1.8" />
<text x="863.0" y="937.2" font-size="19.3" stroke="#000" stroke-width="0.35">20</text>
<line x1="916.5" y1="912.7" x2="916.5" y2="920.7" stroke="#000" stroke-width="1.8" />
<text x="905.9" y="937.2" font-size="19.3" stroke="#000" stroke-width="0.35">40</text>
<line x1="959.1" y1="912.7" x2="959.1" y2="920.7" stroke="#000" stroke-width="1.8" />
<text x="948.2" y="937.2" font-size="19.3" stroke="#000" stroke-width="0.35">60</text>
<line x1="1001.7" y1="912.7" x2="1001.7" y2="920.7" stroke="#000" stroke-width="1.8" />
<text x="990.9" y="937.2" font-size="19.3" stroke="#000" stroke-width="0.35">80</text>
<line x1="1044.3" y1="912.7" x2="1044.3" y2="920.7" stroke="#000" stroke-width="1.8" />
<text x="1027.9" y="937.2" font-size="19.3" stroke="#000" stroke-width="0.35">100</text>
<line x1="1087.0" y1="912.7" x2="1087.0" y2="920.7" stroke="#000" stroke-width="1.8" />
<text x="1070.5" y="937.2" font-size="19.3" stroke="#000" stroke-width="0.35">120</text>
<line x1="1129.6" y1="912.7" x2="1129.6" y2="920.7" stroke="#000" stroke-width="1.8" />
<text x="1113.1" y="937.2" font-size="19.3" stroke="#000" stroke-width="0.35">140</text>
<text x="853.0" y="804.0" font-size="26.5" stroke="#000" stroke-width="0.35">Kd N/D</text>
<text x="964.8" y="965.7" font-size="26.5" stroke="#000" stroke-width="0.35">Time [s]</text>
<text x="906.9" y="1003.7" font-size="26.5" stroke="#000" stroke-width="0.35">TMK1 - BA pH 5.5</text>
<polyline points="1188.3,888.8 1207.5,888.8" fill="none" stroke="#d2232a" stroke-width="2.2" stroke-linejoin="round" />
<polyline points="1217.3,900.3 1217.3,858.9" fill="none" stroke="#d2232a" stroke-width="1.6" stroke-linejoin="round" />
<polyline points="1217.8,882.8 1217.8,884.7 1224.4,885.1 1231.1,885.5 1237.8,885.9 1244.4,886.2 1251.1,886.5 1257.8,886.8 1264.5,887.1 1271.1,887.3 1277.8,887.5 1284.5,887.7 1291.1,887.9 1297.8,888.1 1304.5,888.3 1311.2,888.4 1317.8,888.5 1324.5,888.7 1331.2,888.8 1337.8,888.9 1344.5,889.0 1351.2,889.1 1357.9,889.2 1364.5,889.3 1371.2,889.4 1377.9,889.4 1384.5,889.5 1391.2,889.6 1397.9,889.6 1404.6,889.7 1411.2,889.8 1417.9,889.8 1424.6,889.9 1431.2,889.9 1437.9,890.0 1444.6,890.1 1451.3,890.1 1457.9,890.2 1464.6,890.2 1471.3,890.3 1477.9,890.3 1484.6,890.3 1484.6,890.2 1486.7,886.0 1487.8,893.4 1488.9,890.6 1531.5,889.7" fill="none" stroke="#d2232a" stroke-width="3" stroke-linejoin="round" />
<polyline points="1217.8,884.2 1217.8,886.0 1224.4,886.4 1231.1,886.6 1237.8,886.9 1244.4,887.1 1251.1,887.4 1257.8,887.6 1264.5,887.8 1271.1,887.9 1277.8,888.1 1284.5,888.2 1291.1,888.4 1297.8,888.5 1304.5,888.6 1311.2,888.7 1317.8,888.8 1324.5,888.9 1331.2,889.0 1337.8,889.1 1344.5,889.2 1351.2,889.3 1357.9,889.3 1364.5,889.4 1371.2,889.5 1377.9,889.5 1384.5,889.6 1391.2,889.7 1397.9,889.7 1404.6,889.8 1411.2,889.8 1417.9,889.9 1424.6,889.9 1431.2,890.0 1437.9,890.0 1444.6,890.1 1451.3,890.1 1457.9,890.2 1464.6,890.2 1471.3,890.3 1477.9,890.3 1484.6,890.4 1484.6,890.2 1486.7,886.0 1487.8,893.4 1488.9,890.6 1531.5,889.7" fill="none" stroke="#d2232a" stroke-width="3" stroke-linejoin="round" />
<polyline points="1217.8,885.6 1217.8,887.4 1224.4,887.6 1231.1,887.8 1237.8,887.9 1244.4,888.1 1251.1,888.2 1257.8,888.3 1264.5,888.4 1271.1,888.5 1277.8,888.6 1284.5,888.7 1291.1,888.8 1297.8,888.9 1304.5,889.0 1311.2,889.0 1317.8,889.1 1324.5,889.2 1331.2,889.3 1337.8,889.3 1344.5,889.4 1351.2,889.4 1357.9,889.5 1364.5,889.5 1371.2,889.6 1377.9,889.7 1384.5,889.7 1391.2,889.8 1397.9,889.8 1404.6,889.9 1411.2,889.9 1417.9,889.9 1424.6,890.0 1431.2,890.0 1437.9,890.1 1444.6,890.1 1451.3,890.2 1457.9,890.2 1464.6,890.3 1471.3,890.3 1477.9,890.3 1484.6,890.4 1484.6,890.2 1486.7,886.0 1487.8,893.4 1488.9,890.6 1531.5,889.7" fill="none" stroke="#b81d2a" stroke-width="2.5" stroke-linejoin="round" />
<polyline points="1217.8,887.0 1217.8,888.8 1224.4,888.8 1231.1,888.9 1237.8,888.9 1244.4,889.0 1251.1,889.0 1257.8,889.0 1264.5,889.1 1271.1,889.1 1277.8,889.2 1284.5,889.2 1291.1,889.2 1297.8,889.3 1304.5,889.3 1311.2,889.4 1317.8,889.4 1324.5,889.4 1331.2,889.5 1337.8,889.5 1344.5,889.6 1351.2,889.6 1357.9,889.6 1364.5,889.7 1371.2,889.7 1377.9,889.8 1384.5,889.8 1391.2,889.8 1397.9,889.9 1404.6,889.9 1411.2,890.0 1417.9,890.0 1424.6,890.0 1431.2,890.1 1437.9,890.1 1444.6,890.2 1451.3,890.2 1457.9,890.3 1464.6,890.3 1471.3,890.3 1477.9,890.4 1484.6,890.4 1484.6,890.2 1486.7,886.0 1487.8,893.4 1488.9,890.6 1531.5,889.7" fill="none" stroke="#d2232a" stroke-width="3" stroke-linejoin="round" />
<polyline points="1217.8,888.3 1217.8,890.2 1224.4,890.1 1231.1,890.0 1237.8,889.9 1244.4,889.9 1251.1,889.8 1257.8,889.8 1264.5,889.7 1271.1,889.7 1277.8,889.7 1284.5,889.7 1291.1,889.7 1297.8,889.7 1304.5,889.7 1311.2,889.7 1317.8,889.7 1324.5,889.7 1331.2,889.7 1337.8,889.7 1344.5,889.8 1351.2,889.8 1357.9,889.8 1364.5,889.8 1371.2,889.9 1377.9,889.9 1384.5,889.9 1391.2,889.9 1397.9,890.0 1404.6,890.0 1411.2,890.0 1417.9,890.1 1424.6,890.1 1431.2,890.1 1437.9,890.2 1444.6,890.2 1451.3,890.2 1457.9,890.3 1464.6,890.3 1471.3,890.4 1477.9,890.4 1484.6,890.4 1484.6,890.2 1486.7,886.0 1487.8,893.4 1488.9,890.6 1531.5,889.7" fill="none" stroke="#e25560" stroke-width="2.5" stroke-linejoin="round" />
<line x1="1190.2" y1="704.3" x2="1190.2" y2="913.7" stroke="#000" stroke-width="2" />
<line x1="1189.2" y1="912.7" x2="1533.0" y2="912.7" stroke="#000" stroke-width="2" />
<line x1="1182.2" y1="711.0" x2="1190.2" y2="711.0" stroke="#000" stroke-width="1.8" />
<text x="1158.2" y="716.9" font-size="20.0" stroke="#000" stroke-width="0.35">40</text>
<line x1="1182.2" y1="750.5" x2="1190.2" y2="750.5" stroke="#000" stroke-width="1.8" />
<text x="1158.2" y="756.4" font-size="20.0" stroke="#000" stroke-width="0.35">30</text>
<line x1="1182.2" y1="796.5" x2="1190.2" y2="796.5" stroke="#000" stroke-width="1.8" />
<text x="1158.2" y="802.4" font-size="20.0" stroke="#000" stroke-width="0.35">20</text>
<line x1="1182.2" y1="842.8" x2="1190.2" y2="842.8" stroke="#000" stroke-width="1.8" />
<text x="1158.2" y="848.7" font-size="20.0" stroke="#000" stroke-width="0.35">10</text>
<line x1="1182.2" y1="888.8" x2="1190.2" y2="888.8" stroke="#000" stroke-width="1.8" />
<text x="1169.3" y="894.7" font-size="20.0" stroke="#000" stroke-width="0.35">0</text>
<line x1="1199.0" y1="912.7" x2="1199.0" y2="920.7" stroke="#000" stroke-width="1.8" />
<text x="1193.6" y="937.2" font-size="19.3" stroke="#000" stroke-width="0.35">0</text>
<line x1="1241.6" y1="912.7" x2="1241.6" y2="920.7" stroke="#000" stroke-width="1.8" />
<text x="1230.8" y="937.2" font-size="19.3" stroke="#000" stroke-width="0.35">20</text>
<line x1="1284.3" y1="912.7" x2="1284.3" y2="920.7" stroke="#000" stroke-width="1.8" />
<text x="1273.7" y="937.2" font-size="19.3" stroke="#000" stroke-width="0.35">40</text>
<line x1="1326.9" y1="912.7" x2="1326.9" y2="920.7" stroke="#000" stroke-width="1.8" />
<text x="1316.0" y="937.2" font-size="19.3" stroke="#000" stroke-width="0.35">60</text>
<line x1="1369.5" y1="912.7" x2="1369.5" y2="920.7" stroke="#000" stroke-width="1.8" />
<text x="1358.7" y="937.2" font-size="19.3" stroke="#000" stroke-width="0.35">80</text>
<line x1="1412.1" y1="912.7" x2="1412.1" y2="920.7" stroke="#000" stroke-width="1.8" />
<text x="1395.7" y="937.2" font-size="19.3" stroke="#000" stroke-width="0.35">100</text>
<line x1="1454.8" y1="912.7" x2="1454.8" y2="920.7" stroke="#000" stroke-width="1.8" />
<text x="1438.3" y="937.2" font-size="19.3" stroke="#000" stroke-width="0.35">120</text>
<line x1="1497.4" y1="912.7" x2="1497.4" y2="920.7" stroke="#000" stroke-width="1.8" />
<text x="1480.9" y="937.2" font-size="19.3" stroke="#000" stroke-width="0.35">140</text>
<text x="1240.7" y="804.0" font-size="26.5" stroke="#000" stroke-width="0.35">Kd N/D</text>
<text x="1331.8" y="965.7" font-size="26.5" stroke="#000" stroke-width="0.35">Time [s]</text>
<text x="1271.2" y="1003.7" font-size="26.5" stroke="#000" stroke-width="0.35">TMK1 - BA pH 7.6</text>
<text x="0.5" y="1068.7" font-size="37.0" stroke="#000" stroke-width="0.35">d</text>
<text x="62.5" y="1083.0" font-size="26.6" stroke="#000" stroke-width="0.35">ABP1-TEV-StrepII-9xHIS</text>
<text x="18.9" y="1123.9" font-size="27.5" textLength="101.2" lengthAdjust="spacingAndGlyphs" stroke="#000" stroke-width="0.35">pronase</text>
<text x="177.4" y="1123.9" font-size="17.0" textLength="12.0" lengthAdjust="spacingAndGlyphs" stroke="#000" stroke-width="0.35">0</text>
<text x="260.7" y="1123.9" font-size="17.0" textLength="51.3" lengthAdjust="spacingAndGlyphs" stroke="#000" stroke-width="0.35">1:100</text>
<text x="361.0" y="1123.9" font-size="17.0" textLength="51.3" lengthAdjust="spacingAndGlyphs" stroke="#000" stroke-width="0.35">1:250</text>
<text x="469.0" y="1123.9" font-size="17.0" textLength="51.3" lengthAdjust="spacingAndGlyphs" stroke="#000" stroke-width="0.35">1:500</text>
<text x="623.9" y="1123.9" font-size="17.0" textLength="12.0" lengthAdjust="spacingAndGlyphs" stroke="#000" stroke-width="0.35">0</text>
<text x="707.0" y="1123.9" font-size="17.0" textLength="51.3" lengthAdjust="spacingAndGlyphs" stroke="#000" stroke-width="0.35">1:100</text>
<text x="807.0" y="1123.9" font-size="17.0" textLength="51.3" lengthAdjust="spacingAndGlyphs" stroke="#000" stroke-width="0.35">1:250</text>
<text x="919.0" y="1123.9" font-size="17.0" textLength="51.3" lengthAdjust="spacingAndGlyphs" stroke="#000" stroke-width="0.35">1:500</text>
<line x1="7.2" y1="1132.7" x2="997.0" y2="1132.7" stroke="#000" stroke-width="2" />
<text x="-1.5" y="1158.7" font-size="26.3" textLength="120.5" lengthAdjust="spacingAndGlyphs" stroke="#000" stroke-width="0.35">10µM IAA</text>
<line x1="151.3" y1="1152.6" x2="164.7" y2="1152.6" stroke="#000" stroke-width="2.2" />
<line x1="158.0" y1="1146.2" x2="158.0" y2="1159.0" stroke="#000" stroke-width="2.2" />
<line x1="202.0" y1="1155.5" x2="210.0" y2="1155.5" stroke="#000" stroke-width="2.4" />
<line x1="256.3" y1="1152.6" x2="269.7" y2="1152.6" stroke="#000" stroke-width="2.2" />
<line x1="263.0" y1="1146.2" x2="263.0" y2="1159.0" stroke="#000" stroke-width="2.2" />
<line x1="305.0" y1="1155.5" x2="313.0" y2="1155.5" stroke="#000" stroke-width="2.4" />
<line x1="357.3" y1="1152.6" x2="370.7" y2="1152.6" stroke="#000" stroke-width="2.2" />
<line x1="364.0" y1="1146.2" x2="364.0" y2="1159.0" stroke="#000" stroke-width="2.2" />
<line x1="404.4" y1="1155.5" x2="412.4" y2="1155.5" stroke="#000" stroke-width="2.4" />
<line x1="468.0" y1="1152.6" x2="481.4" y2="1152.6" stroke="#000" stroke-width="2.2" />
<line x1="474.7" y1="1146.2" x2="474.7" y2="1159.0" stroke="#000" stroke-width="2.2" />
<line x1="518.0" y1="1155.5" x2="526.0" y2="1155.5" stroke="#000" stroke-width="2.4" />
<line x1="597.3" y1="1152.6" x2="610.7" y2="1152.6" stroke="#000" stroke-width="2.2" />
<line x1="604.0" y1="1146.2" x2="604.0" y2="1159.0" stroke="#000" stroke-width="2.2" />
<line x1="648.5" y1="1155.5" x2="656.5" y2="1155.5" stroke="#000" stroke-width="2.4" />
<line x1="702.3" y1="1152.6" x2="715.7" y2="1152.6" stroke="#000" stroke-width="2.2" />
<line x1="709.0" y1="1146.2" x2="709.0" y2="1159.0" stroke="#000" stroke-width="2.2" />
<line x1="751.6" y1="1155.5" x2="759.6" y2="1155.5" stroke="#000" stroke-width="2.4" />
<line x1="803.0" y1="1152.6" x2="816.4" y2="1152.6" stroke="#000" stroke-width="2.2" />
<line x1="809.7" y1="1146.2" x2="809.7" y2="1159.0" stroke="#000" stroke-width="2.2" />
<line x1="851.0" y1="1155.5" x2="859.0" y2="1155.5" stroke="#000" stroke-width="2.4" />
<line x1="915.3" y1="1152.6" x2="928.7" y2="1152.6" stroke="#000" stroke-width="2.2" />
<line x1="922.0" y1="1146.2" x2="922.0" y2="1159.0" stroke="#000" stroke-width="2.2" />
<line x1="964.0" y1="1155.5" x2="972.0" y2="1155.5" stroke="#000" stroke-width="2.4" />
<line x1="233.8" y1="1098.0" x2="233.8" y2="1381.0" stroke="#444" stroke-width="1.3" stroke-dasharray="6,5"/>
<line x1="333.2" y1="1098.0" x2="333.2" y2="1381.0" stroke="#444" stroke-width="1.3" stroke-dasharray="6,5"/>
<line x1="440.0" y1="1098.0" x2="440.0" y2="1381.0" stroke="#444" stroke-width="1.3" stroke-dasharray="6,5"/>
<line x1="679.8" y1="1098.0" x2="679.8" y2="1381.0" stroke="#444" stroke-width="1.3" stroke-dasharray="6,5"/>
<line x1="782.5" y1="1098.0" x2="782.5" y2="1381.0" stroke="#444" stroke-width="1.3" stroke-dasharray="6,5"/>
<line x1="885.9" y1="1098.0" x2="885.9" y2="1381.0" stroke="#444" stroke-width="1.3" stroke-dasharray="6,5"/>
<clipPath id="cd1"><rect x="120.9" y="1164.1" width="431.4" height="69.90000000000009"/></clipPath>
<g clip-path="url(#cd1)">
<rect x="120.9" y="1164.1" width="431.4" height="69.9" fill="#f4f4f4" stroke="none" stroke-width="1" />
<g filter="url(#bl4)">
<rect x="121.0" y="1192.0" width="431.0" height="15.0" fill="#eaeaea" stroke="none" stroke-width="1" rx="4"/>
<rect x="124.0" y="1188.0" width="50.0" height="21.0" fill="#000" stroke="none" stroke-width="1" rx="10"/>
<rect x="177.0" y="1187.0" width="48.0" height="22.0" fill="#000" stroke="none" stroke-width="1" rx="10"/>
<ellipse cx="254" cy="1197" rx="22" ry="8" fill="#b4b4b4"/>
<ellipse cx="307" cy="1197" rx="20" ry="8" fill="#c4c4c4"/>
<ellipse cx="358" cy="1197" rx="20" ry="10" fill="#8c8c8c"/>
<ellipse cx="406" cy="1200" rx="16" ry="7" fill="#e2e2e2"/>
<ellipse cx="469" cy="1199" rx="23" ry="11" fill="#7e7e7e"/>
<ellipse cx="537" cy="1203" rx="15" ry="8" fill="#dadada"/>
</g></g>
<rect x="120.9" y="1164.1" width="431.4" height="69.9" fill="none" stroke="#333" stroke-width="1.3" />
<clipPath id="cd2"><rect x="565.3" y="1164.1" width="431.20000000000005" height="69.60000000000014"/></clipPath>
<g clip-path="url(#cd2)">
<rect x="565.3" y="1164.1" width="431.2" height="69.6" fill="#f6f6f6" stroke="none" stroke-width="1" />
<g filter="url(#bl4)">
<rect x="571.0" y="1185.5" width="108.0" height="21.5" fill="#000" stroke="none" stroke-width="1" rx="10"/>
<ellipse cx="700" cy="1196" rx="24" ry="9" fill="#a0a0a0"/>
<ellipse cx="756" cy="1194" rx="18" ry="6" fill="#d0d0d0"/>
<ellipse cx="809" cy="1191" rx="19" ry="9" fill="#7a7a7a"/>
<ellipse cx="918" cy="1191" rx="22" ry="10" fill="#303030"/>
<ellipse cx="978" cy="1194" rx="14" ry="6" fill="#dedede"/>
</g></g>
<rect x="565.3" y="1164.1" width="431.2" height="69.6" fill="none" stroke="#333" stroke-width="1.3" />
<text x="14.3" y="1206.6" font-size="17.5" textLength="71.9" lengthAdjust="spacingAndGlyphs" stroke="#000" stroke-width="0.35">~25kDa</text>
<line x1="93.3" y1="1203.4" x2="114.9" y2="1203.4" stroke="#000" stroke-width="4.2" />
<line x1="118.4" y1="1236.0" x2="118.4" y2="1373.8" stroke="#333" stroke-width="1.4" />
<line x1="117.9" y1="1373.3" x2="549.0" y2="1373.3" stroke="#333" stroke-width="1.4" />
<line x1="114.4" y1="1257.0" x2="118.4" y2="1257.0" stroke="#333" stroke-width="1.2" />
<line x1="114.4" y1="1314.8" x2="118.4" y2="1314.8" stroke="#333" stroke-width="1.2" />
<line x1="114.4" y1="1372.8" x2="118.4" y2="1372.8" stroke="#333" stroke-width="1.2" />
<rect x="133.0" y="1247.8" width="45.7" height="125.5" fill="#000" stroke="#000" stroke-width="1.3" />
<rect x="183.5" y="1254.5" width="46.2" height="118.8" fill="#fff" stroke="#000" stroke-width="1.3" />
<rect x="236.8" y="1346.0" width="43.9" height="27.3" fill="#000" stroke="#000" stroke-width="1.3" />
<rect x="285.6" y="1357.2" width="42.8" height="16.1" fill="#fff" stroke="#000" stroke-width="1.3" />
<rect x="339.5" y="1342.7" width="44.3" height="30.6" fill="#000" stroke="#000" stroke-width="1.3" />
<rect x="388.7" y="1357.2" width="42.3" height="16.1" fill="#fff" stroke="#000" stroke-width="1.3" />
<rect x="446.4" y="1318.0" width="44.3" height="55.3" fill="#000" stroke="#000" stroke-width="1.3" />
<rect x="496.3" y="1355.4" width="42.4" height="17.9" fill="#fff" stroke="#000" stroke-width="1.3" />
<text x="51.3" y="1264.5" font-size="22.0" stroke="#000" stroke-width="0.35">20000</text>
<text x="51.3" y="1322.3" font-size="22.0" stroke="#000" stroke-width="0.35">10000</text>
<text x="100.3" y="1380.3" font-size="22.0" stroke="#000" stroke-width="0.35">0</text>
<line x1="567.5" y1="1236.0" x2="567.5" y2="1374.1" stroke="#333" stroke-width="1.4" />
<line x1="567.0" y1="1373.6" x2="998.7" y2="1373.6" stroke="#333" stroke-width="1.4" />
<line x1="563.5" y1="1271.0" x2="567.5" y2="1271.0" stroke="#333" stroke-width="1.2" />
<line x1="563.5" y1="1322.8" x2="567.5" y2="1322.8" stroke="#333" stroke-width="1.2" />
<rect x="576.0" y="1245.0" width="45.0" height="128.6" fill="#000" stroke="#000" stroke-width="1.3" />
<rect x="629.0" y="1257.4" width="43.0" height="116.2" fill="#fff" stroke="#000" stroke-width="1.3" />
<rect x="685.6" y="1344.5" width="44.0" height="29.1" fill="#000" stroke="#000" stroke-width="1.3" />
<rect x="734.5" y="1359.8" width="42.8" height="13.8" fill="#fff" stroke="#000" stroke-width="1.3" />
<rect x="785.6" y="1356.8" width="44.0" height="16.8" fill="#000" stroke="#000" stroke-width="1.3" />
<rect x="838.0" y="1370.5" width="42.4" height="3.1" fill="#fff" stroke="#000" stroke-width="1.3" />
<rect x="892.6" y="1347.6" width="44.4" height="26.0" fill="#000" stroke="#000" stroke-width="1.3" />
<rect x="949.8" y="1370.5" width="42.8" height="3.1" fill="#fff" stroke="#000" stroke-width="1.3" />
<text x="186.0" y="1246.0" font-size="15.0" text-anchor="middle" font-weight="bold" stroke="#000" stroke-width="0.35">≈</text>
<text x="631.7" y="1247.0" font-size="15.0" text-anchor="middle" font-weight="bold" stroke="#000" stroke-width="0.35">≈</text>
<text x="480.6" y="1256.3" font-size="18.5" textLength="69.3" lengthAdjust="spacingAndGlyphs" stroke="#000" stroke-width="0.35">anti-HIS</text>
<text x="915.3" y="1255.0" font-size="18.5" stroke="#000" stroke-width="0.35">anti-ABP1</text>
<text x="27.3" y="1330.8" font-size="25.5" textLength="88.5" lengthAdjust="spacingAndGlyphs" transform="rotate(-90 27.3 1330.8)" stroke="#000" stroke-width="0.35">intensity</text>
<line x1="283.0" y1="1346.4" x2="306.0" y2="1355.0" stroke="#000" stroke-width="1.3" />
<path d="M297.3,1355.5 L306.0,1355.0 L299.7,1348.9" fill="none" stroke="#000" stroke-width="1.3"/>
<line x1="387.0" y1="1343.0" x2="409.5" y2="1355.0" stroke="#000" stroke-width="1.3" />
<path d="M400.8,1354.3 L409.5,1355.0 L404.1,1348.1" fill="none" stroke="#000" stroke-width="1.3"/>
<line x1="494.0" y1="1319.0" x2="521.0" y2="1345.7" stroke="#000" stroke-width="1.3" />
<path d="M512.9,1342.6 L521.0,1345.7 L517.8,1337.6" fill="none" stroke="#000" stroke-width="1.3"/>
<line x1="733.0" y1="1345.0" x2="754.7" y2="1356.8" stroke="#000" stroke-width="1.3" />
<path d="M746.0,1356.1 L754.7,1356.8 L749.3,1349.9" fill="none" stroke="#000" stroke-width="1.3"/>
<line x1="834.5" y1="1355.8" x2="855.6" y2="1367.0" stroke="#000" stroke-width="1.3" />
<path d="M846.9,1366.3 L855.6,1367.0 L850.2,1360.2" fill="none" stroke="#000" stroke-width="1.3"/>
<line x1="941.5" y1="1347.6" x2="974.0" y2="1365.3" stroke="#000" stroke-width="1.3" />
<path d="M965.3,1364.5 L974.0,1365.3 L968.6,1358.4" fill="none" stroke="#000" stroke-width="1.3"/>
<text x="1010.1" y="1069.4" font-size="37.0" stroke="#000" stroke-width="0.35">e</text>
<text x="1059.0" y="1084.6" font-size="26.0" stroke="#000" stroke-width="0.35">pronase</text>
<text x="1175.1" y="1084.0" font-size="18.5" stroke="#000" stroke-width="0.35">0</text>
<text x="1220.1" y="1077.5" font-size="25.7" font-style="italic" stroke="#000" stroke-width="0.35">35S::ABP1-GFP</text>
<line x1="1042.0" y1="1095.4" x2="1535.6" y2="1095.4" stroke="#000" stroke-width="2" />
<text x="1040" y="1118.6" font-size="26" textLength="146" lengthAdjust="spacingAndGlyphs"><tspan fill="#7f7f7f">BA</tspan>/<tspan fill="#1b75bc">IAA</tspan>[µM]</text>
<line x1="1191.5" y1="1112.0" x2="1199.5" y2="1112.0" stroke="#000" stroke-width="2.3" />
<text x="1236.8" y="1117.8" font-size="20.5" fill="#7f7f7f" stroke="#7f7f7f" stroke-width="0.35">1</text>
<text x="1281.7" y="1117.8" font-size="20.5" fill="#7f7f7f" stroke="#7f7f7f" stroke-width="0.35">10</text>
<text x="1333.6" y="1117.8" font-size="20.5" fill="#7f7f7f" stroke="#7f7f7f" stroke-width="0.35">50</text>
<text x="1386.8" y="1117.8" font-size="20.5" fill="#1b75bc" stroke="#1b75bc" stroke-width="0.35">1</text>
<text x="1432.0" y="1117.8" font-size="20.5" fill="#1b75bc" stroke="#1b75bc" stroke-width="0.35">10</text>
<text x="1484.2" y="1117.8" font-size="20.5" fill="#1b75bc" stroke="#1b75bc" stroke-width="0.35">50</text>
<clipPath id="ce1"><rect x="1151.5" y="1128.3" width="383.0999999999999" height="81.60000000000014"/></clipPath>
<g clip-path="url(#ce1)">
<rect x="1151.5" y="1128.3" width="383.1" height="81.6" fill="#f7f7f7" stroke="none" stroke-width="1" />
<g filter="url(#bl3_5)">
<rect x="1170.0" y="1145.0" width="40.0" height="26.0" fill="#d0d0d0" stroke="none" stroke-width="1" rx="10"/>
<rect x="1218.0" y="1143.0" width="43.0" height="28.0" fill="#c4c4c4" stroke="none" stroke-width="1" rx="10"/>
<rect x="1269.0" y="1143.0" width="43.0" height="28.0" fill="#c8c8c8" stroke="none" stroke-width="1" rx="10"/>
<rect x="1320.0" y="1141.0" width="46.0" height="30.0" fill="#bcbcbc" stroke="none" stroke-width="1" rx="10"/>
<rect x="1374.0" y="1145.0" width="47.0" height="26.0" fill="#cccccc" stroke="none" stroke-width="1" rx="10"/>
<rect x="1430.0" y="1140.0" width="48.0" height="34.0" fill="#bdbdbd" stroke="none" stroke-width="1" rx="10"/>
<rect x="1484.0" y="1144.0" width="45.0" height="32.0" fill="#c4c4c4" stroke="none" stroke-width="1" rx="10"/>
<rect x="1169.0" y="1155.0" width="44.0" height="19.0" fill="#000" stroke="none" stroke-width="1" rx="8"/>
<rect x="1216.0" y="1154.0" width="48.0" height="21.0" fill="#050505" stroke="none" stroke-width="1" rx="8"/>
<rect x="1267.0" y="1154.0" width="48.0" height="20.0" fill="#000" stroke="none" stroke-width="1" rx="8"/>
<rect x="1318.0" y="1158.0" width="50.0" height="16.0" fill="#111" stroke="none" stroke-width="1" rx="7"/>
<rect x="1373.0" y="1155.0" width="50.0" height="20.0" fill="#080808" stroke="none" stroke-width="1" rx="8"/>
<rect x="1428.0" y="1149.0" width="52.0" height="27.0" fill="#000" stroke="none" stroke-width="1" rx="9"/>
<rect x="1482.0" y="1154.0" width="50.0" height="23.0" fill="#000" stroke="none" stroke-width="1" rx="9"/>
</g></g>
<rect x="1151.5" y="1128.3" width="383.1" height="81.6" fill="none" stroke="#333" stroke-width="1.3" />
<line x1="1212.5" y1="1100.0" x2="1212.5" y2="1376.0" stroke="#333" stroke-width="1" stroke-dasharray="2,2"/>
<line x1="1370.6" y1="1100.0" x2="1370.6" y2="1376.0" stroke="#333" stroke-width="1" stroke-dasharray="2,2"/>
<text x="1033.0" y="1174.0" font-size="20.5" textLength="87.7" lengthAdjust="spacingAndGlyphs" stroke="#000" stroke-width="0.35">~ 55 kDa</text>
<line x1="1127.5" y1="1168.6" x2="1149.0" y2="1168.6" stroke="#000" stroke-width="3.5" />
<text x="1063.2" y="1207.8" font-size="21.0" stroke="#000" stroke-width="0.35">anti-GFP</text>
<line x1="1149.5" y1="1245.6" x2="1149.5" y2="1375.3" stroke="#555" stroke-width="1.5" />
<line x1="1149.0" y1="1374.8" x2="1535.7" y2="1374.8" stroke="#555" stroke-width="1.5" />
<line x1="1146.5" y1="1296.4" x2="1149.5" y2="1296.4" stroke="#555" stroke-width="1.2" />
<line x1="1146.5" y1="1318.0" x2="1149.5" y2="1318.0" stroke="#555" stroke-width="1.2" />
<line x1="1146.5" y1="1339.5" x2="1149.5" y2="1339.5" stroke="#555" stroke-width="1.2" />
<line x1="1146.5" y1="1361.4" x2="1149.5" y2="1361.4" stroke="#555" stroke-width="1.2" />
<text x="1111.0" y="1252.1" font-size="18.5" textLength="35.1" lengthAdjust="spacingAndGlyphs" stroke="#000" stroke-width="0.35">300</text>
<text x="1110.7" y="1292.8" font-size="18.5" textLength="35.4" lengthAdjust="spacingAndGlyphs" stroke="#000" stroke-width="0.35">200</text>
<text x="1109.0" y="1335.9" font-size="18.5" textLength="34.7" lengthAdjust="spacingAndGlyphs" stroke="#000" stroke-width="0.35">100</text>
<text x="1131.9" y="1382.0" font-size="21.0" stroke="#000" stroke-width="0.35">0</text>
<rect x="1163.3" y="1268.6" width="43.0" height="106.2" fill="#000" stroke="#f0a830" stroke-width="1.6" />
<rect x="1214.0" y="1256.0" width="43.9" height="118.8" fill="#808285" stroke="#333" stroke-width="1" />
<rect x="1269.0" y="1265.7" width="44.0" height="109.1" fill="#808285" stroke="#f0a830" stroke-width="1.6" />
<rect x="1322.5" y="1257.9" width="43.9" height="116.9" fill="#808285" stroke="#333" stroke-width="1" />
<rect x="1374.6" y="1293.6" width="44.0" height="81.2" fill="#1b75bc" stroke="#333" stroke-width="1" />
<rect x="1430.0" y="1273.6" width="44.0" height="101.2" fill="#1b75bc" stroke="#333" stroke-width="1" />
<rect x="1483.0" y="1305.0" width="44.5" height="69.8" fill="#1b75bc" stroke="#333" stroke-width="1" />
<text x="1075.3" y="1357.1" font-size="22.0" textLength="54.8" lengthAdjust="spacingAndGlyphs" transform="rotate(-90 1075.3 1357.1)" stroke="#000" stroke-width="0.35">norm.</text>
<text x="1098.8" y="1357.1" font-size="22.0" textLength="76.7" lengthAdjust="spacingAndGlyphs" transform="rotate(-90 1098.8 1357.1)" stroke="#000" stroke-width="0.35">intensity</text>
<text x="2.4" y="1419.8" font-size="37.0" stroke="#000" stroke-width="0.35">f</text>
<rect x="24.5" y="1431.8" width="1507.0" height="138.8" fill="none" stroke="#111" stroke-width="2.2" />
<line x1="24.5" y1="1520.0" x2="1531.5" y2="1520.0" stroke="#111" stroke-width="2.2" />
<line x1="237.0" y1="1431.8" x2="237.0" y2="1570.6" stroke="#111" stroke-width="2.2" />
<line x1="520.2" y1="1431.8" x2="520.2" y2="1570.6" stroke="#111" stroke-width="2.2" />
<line x1="710.0" y1="1431.8" x2="710.0" y2="1570.6" stroke="#111" stroke-width="2.2" />
<line x1="885.7" y1="1431.8" x2="885.7" y2="1570.6" stroke="#111" stroke-width="2.2" />
<line x1="1134.6" y1="1431.8" x2="1134.6" y2="1570.6" stroke="#111" stroke-width="2.2" />
<line x1="1332.8" y1="1431.8" x2="1332.8" y2="1570.6" stroke="#111" stroke-width="2.2" />
<text x="74.1" y="1481.0" font-size="29.6" font-weight="bold" stroke="#000" stroke-width="0.35">protein</text>
<text x="284.3" y="1473.5" font-size="29.0" font-weight="bold" stroke="#000" stroke-width="0.35">Immobilization</text>
<text x="284.2" y="1506.4" font-size="29.0" font-weight="bold" stroke="#000" stroke-width="0.35">level [pg/mm²]</text>
<text x="541.1" y="1472.4" font-size="29.0" font-weight="bold" stroke="#000" stroke-width="0.35">Kd IAA at</text>
<text x="541.1" y="1506.4" font-size="29.0" font-weight="bold" stroke="#000" stroke-width="0.35">pH 5.5 [µM]</text>
<text x="722.8" y="1472.4" font-size="29.0" font-weight="bold" stroke="#000" stroke-width="0.35">Kd BA at</text>
<text x="722.8" y="1506.4" font-size="29.0" font-weight="bold" stroke="#000" stroke-width="0.35">pH 5.5 [µM]</text>
<text x="912.6" y="1469.5" font-size="29.0" font-weight="bold" stroke="#000" stroke-width="0.35">Immobilization</text>
<text x="912.5" y="1503.8" font-size="29.0" font-weight="bold" stroke="#000" stroke-width="0.35">level [pg/mm²]</text>
<text x="1166.1" y="1473.0" font-size="29.0" font-weight="bold" stroke="#000" stroke-width="0.35">Kd IAA at</text>
<text x="1166.1" y="1508.0" font-size="29.0" font-weight="bold" stroke="#000" stroke-width="0.35">pH 7.6 [µM]</text>
<text x="1351.4" y="1469.5" font-size="29.0" font-weight="bold" stroke="#000" stroke-width="0.35">Kd BA at</text>
<text x="1351.4" y="1503.8" font-size="29.0" font-weight="bold" stroke="#000" stroke-width="0.35">pH 7.6 [µM]</text>
<text x="81.0" y="1555.5" font-size="28.4" stroke="#000" stroke-width="0.35">ABP1</text>
<text x="343.9" y="1556.6" font-size="28.4" stroke="#000" stroke-width="0.35">19000</text>
<text x="583.7" y="1553.0" font-size="28.4" stroke="#000" stroke-width="0.35">13.7</text>
<text x="778.1" y="1553.0" font-size="28.4" stroke="#000" stroke-width="0.35">N/D</text>
<text x="976.4" y="1554.0" font-size="28.4" stroke="#000" stroke-width="0.35">10800</text>
<text x="1202.4" y="1554.0" font-size="28.4" stroke="#000" stroke-width="0.35">1943</text>
<text x="1406.1" y="1554.0" font-size="28.4" stroke="#000" stroke-width="0.35">N/D</text>
<text x="28.0" y="1877.2" font-size="26.5" transform="rotate(-90 28.0 1877.2)" stroke="#000" stroke-width="0.35">Surface Mass [pg/mm²]</text>
<polyline points="77.5,1792.2 86.9,1792.2" fill="none" stroke="#a6dc98" stroke-width="2.5" stroke-linejoin="round" />
<polyline points="84.8,1799.0 85.9,1789.9 86.9,1794.5" fill="none" stroke="#55b64f" stroke-width="1.5" stroke-linejoin="round" />
<polyline points="77.5,1792.2 86.9,1792.2 86.9,1792.2 87.6,1716.4 88.2,1675.0 88.8,1652.7 89.5,1641.7 90.1,1635.6 90.7,1632.3 91.3,1630.5 92.0,1629.5 92.6,1628.9 93.2,1628.6 93.9,1628.5 94.5,1628.4 95.1,1628.3 95.7,1628.3 96.4,1628.3 97.0,1628.3 97.6,1628.3 98.3,1628.3 98.9,1628.3 99.5,1628.3 100.1,1628.3 100.8,1628.3 101.4,1628.3 102.0,1628.3 102.6,1628.3 103.3,1628.3 103.9,1628.3 104.5,1628.3 105.2,1628.3 105.8,1628.3 106.4,1628.3 107.0,1628.3 107.7,1628.3 108.3,1628.3 108.9,1628.3 109.6,1628.3 110.2,1628.3 110.8,1628.3 111.4,1628.3 112.1,1628.3 112.1,1628.3 137.3,1628.3 162.5,1628.3 187.8,1628.3 213.0,1628.3 238.3,1628.3 263.5,1628.3 288.7,1628.3 314.0,1628.3 339.2,1628.3 364.4,1628.3 364.4,1628.3 365.4,1656.2 366.4,1682.0 367.4,1702.8 368.3,1719.7 369.3,1733.4 370.3,1744.5 371.3,1753.5 372.3,1760.8 373.2,1766.8 374.2,1771.6 375.2,1775.5 376.2,1778.7 377.1,1781.2 378.1,1783.3 379.1,1785.0 380.1,1786.4 381.0,1787.5 382.0,1788.4 383.0,1789.1 384.0,1789.7 385.0,1790.2 385.9,1790.5 386.9,1790.9 387.9,1791.1 388.9,1791.3 389.8,1791.5 390.8,1791.6 391.8,1791.7 392.8,1791.8 393.8,1791.9 406.3,1792.2" fill="none" stroke="#55b64f" stroke-width="3" stroke-linejoin="round" />
<polyline points="77.5,1792.2 86.9,1792.2 86.9,1792.2 87.6,1760.4 88.2,1736.8 88.8,1719.5 89.5,1706.6 90.1,1697.1 90.7,1690.0 91.3,1684.8 92.0,1680.9 92.6,1678.0 93.2,1675.9 93.9,1674.3 94.5,1673.1 95.1,1672.3 95.7,1671.6 96.4,1671.1 97.0,1670.8 97.6,1670.5 98.3,1670.3 98.9,1670.2 99.5,1670.1 100.1,1670.0 100.8,1670.0 101.4,1669.9 102.0,1669.9 102.6,1669.9 103.3,1669.8 103.9,1669.8 104.5,1669.8 105.2,1669.8 105.8,1669.8 106.4,1669.8 107.0,1669.8 107.7,1669.8 108.3,1669.8 108.9,1669.8 109.6,1669.8 110.2,1669.8 110.8,1669.8 111.4,1669.8 112.1,1669.8 112.1,1669.8 137.3,1669.8 162.5,1669.8 187.8,1669.8 213.0,1669.8 238.3,1669.8 263.5,1669.8 288.7,1669.8 314.0,1669.8 339.2,1669.8 364.4,1669.8 364.4,1669.8 365.4,1693.0 366.4,1711.7 367.4,1726.9 368.3,1739.2 369.3,1749.2 370.3,1757.4 371.3,1764.0 372.3,1769.3 373.2,1773.6 374.2,1777.2 375.2,1780.0 376.2,1782.3 377.1,1784.2 378.1,1785.7 379.1,1786.9 380.1,1787.9 381.0,1788.7 382.0,1789.4 383.0,1789.9 384.0,1790.4 385.0,1790.7 385.9,1791.0 386.9,1791.2 387.9,1791.4 388.9,1791.6 389.8,1791.7 390.8,1791.8 391.8,1791.9 392.8,1791.9 393.8,1792.0 406.3,1792.2" fill="none" stroke="#2a8a36" stroke-width="2.5" stroke-linejoin="round" />
<polyline points="77.5,1792.2 86.9,1792.2 86.9,1792.2 87.6,1780.7 88.2,1771.2 88.8,1763.2 89.5,1756.5 90.1,1750.9 90.7,1746.2 91.3,1742.4 92.0,1739.1 92.6,1736.4 93.2,1734.2 93.9,1732.3 94.5,1730.7 95.1,1729.4 95.7,1728.3 96.4,1727.4 97.0,1726.6 97.6,1726.0 98.3,1725.5 98.9,1725.0 99.5,1724.6 100.1,1724.3 100.8,1724.1 101.4,1723.8 102.0,1723.7 102.6,1723.5 103.3,1723.4 103.9,1723.3 104.5,1723.2 105.2,1723.1 105.8,1723.1 106.4,1723.0 107.0,1723.0 107.7,1722.9 108.3,1722.9 108.9,1722.9 109.6,1722.9 110.2,1722.8 110.8,1722.8 111.4,1722.8 112.1,1722.8 112.1,1722.8 137.3,1722.7 162.5,1722.7 187.8,1722.7 213.0,1722.7 238.3,1722.7 263.5,1722.7 288.7,1722.7 314.0,1722.7 339.2,1722.7 364.4,1722.7 364.4,1722.7 365.4,1735.8 366.4,1746.5 367.4,1755.1 368.3,1762.1 369.3,1767.8 370.3,1772.5 371.3,1776.2 372.3,1779.2 373.2,1781.7 374.2,1783.7 375.2,1785.3 376.2,1786.6 377.1,1787.7 378.1,1788.5 379.1,1789.2 380.1,1789.8 381.0,1790.2 382.0,1790.6 383.0,1790.9 384.0,1791.2 385.0,1791.4 385.9,1791.5 386.9,1791.6 387.9,1791.7 388.9,1791.8 389.8,1791.9 390.8,1792.0 391.8,1792.0 392.8,1792.0 393.8,1792.1 406.3,1792.2" fill="none" stroke="#2a8a36" stroke-width="2.5" stroke-linejoin="round" />
<polyline points="77.5,1792.2 86.9,1792.2 86.9,1792.2 87.6,1788.3 88.2,1784.9 88.8,1781.9 89.5,1779.3 90.1,1777.0 90.7,1775.0 91.3,1773.3 92.0,1771.8 92.6,1770.4 93.2,1769.3 93.9,1768.3 94.5,1767.4 95.1,1766.6 95.7,1765.9 96.4,1765.3 97.0,1764.8 97.6,1764.4 98.3,1764.0 98.9,1763.6 99.5,1763.3 100.1,1763.1 100.8,1762.8 101.4,1762.6 102.0,1762.5 102.6,1762.3 103.3,1762.2 103.9,1762.1 104.5,1762.0 105.2,1761.9 105.8,1761.8 106.4,1761.7 107.0,1761.7 107.7,1761.6 108.3,1761.6 108.9,1761.5 109.6,1761.5 110.2,1761.5 110.8,1761.4 111.4,1761.4 112.1,1761.4 112.1,1761.4 137.3,1761.3 162.5,1761.3 187.8,1761.3 213.0,1761.3 238.3,1761.3 263.5,1761.3 288.7,1761.3 314.0,1761.3 339.2,1761.3 364.4,1761.3 364.4,1761.3 365.4,1767.1 366.4,1771.9 367.4,1775.7 368.3,1778.8 369.3,1781.4 370.3,1783.4 371.3,1785.1 372.3,1786.4 373.2,1787.5 374.2,1788.4 375.2,1789.1 376.2,1789.7 377.1,1790.2 378.1,1790.6 379.1,1790.9 380.1,1791.1 381.0,1791.3 382.0,1791.5 383.0,1791.6 384.0,1791.7 385.0,1791.8 385.9,1791.9 386.9,1792.0 387.9,1792.0 388.9,1792.0 389.8,1792.1 390.8,1792.1 391.8,1792.1 392.8,1792.1 393.8,1792.1 406.3,1792.2" fill="none" stroke="#2a8a36" stroke-width="2.5" stroke-linejoin="round" />
<polyline points="77.5,1792.2 86.9,1792.2 86.9,1792.2 87.6,1791.1 88.2,1790.0 88.8,1789.1 89.5,1788.3 90.1,1787.6 90.7,1786.9 91.3,1786.3 92.0,1785.7 92.6,1785.2 93.2,1784.8 93.9,1784.4 94.5,1784.1 95.1,1783.7 95.7,1783.4 96.4,1783.2 97.0,1782.9 97.6,1782.7 98.3,1782.5 98.9,1782.4 99.5,1782.2 100.1,1782.1 100.8,1782.0 101.4,1781.8 102.0,1781.7 102.6,1781.6 103.3,1781.6 103.9,1781.5 104.5,1781.4 105.2,1781.4 105.8,1781.3 106.4,1781.3 107.0,1781.2 107.7,1781.2 108.3,1781.1 108.9,1781.1 109.6,1781.1 110.2,1781.1 110.8,1781.0 111.4,1781.0 112.1,1781.0 112.1,1781.0 137.3,1780.8 162.5,1780.8 187.8,1780.8 213.0,1780.8 238.3,1780.8 263.5,1780.8 288.7,1780.8 314.0,1780.8 339.2,1780.8 364.4,1780.8 364.4,1780.8 365.4,1783.0 366.4,1784.7 367.4,1786.1 368.3,1787.3 369.3,1788.2 370.3,1789.0 371.3,1789.6 372.3,1790.1 373.2,1790.5 374.2,1790.8 375.2,1791.1 376.2,1791.3 377.1,1791.5 378.1,1791.6 379.1,1791.7 380.1,1791.8 381.0,1791.9 382.0,1791.9 383.0,1792.0 384.0,1792.0 385.0,1792.1 385.9,1792.1 386.9,1792.1 387.9,1792.1 388.9,1792.1 389.8,1792.2 390.8,1792.2 391.8,1792.2 392.8,1792.2 393.8,1792.2 406.3,1792.2" fill="none" stroke="#2a8a36" stroke-width="2.2" stroke-linejoin="round" />
<polyline points="77.5,1792.2 86.9,1792.2 86.9,1792.2 87.6,1791.9 88.2,1791.6 88.8,1791.3 89.5,1791.0 90.1,1790.7 90.7,1790.4 91.3,1790.1 92.0,1789.8 92.6,1789.5 93.2,1789.3 93.9,1789.0 94.5,1788.8 95.1,1788.5 95.7,1788.3 96.4,1788.1 97.0,1787.8 97.6,1787.6 98.3,1787.4 98.9,1787.2 99.5,1787.0 100.1,1786.8 100.8,1786.6 101.4,1786.4 102.0,1786.2 102.6,1786.0 103.3,1785.9 103.9,1785.7 104.5,1785.5 105.2,1785.4 105.8,1785.2 106.4,1785.0 107.0,1784.9 107.7,1784.7 108.3,1784.6 108.9,1784.4 109.6,1784.3 110.2,1784.2 110.8,1784.0 111.4,1783.9 112.1,1783.8 112.1,1783.8 137.3,1780.5 162.5,1779.3 187.8,1778.8 213.0,1778.7 238.3,1778.6 263.5,1778.6 288.7,1778.6 314.0,1778.6 339.2,1778.6 364.4,1778.6 364.4,1778.6 365.4,1781.1 366.4,1783.2 367.4,1784.9 368.3,1786.3 369.3,1787.4 370.3,1788.3 371.3,1789.1 372.3,1789.7 373.2,1790.1 374.2,1790.5 375.2,1790.8 376.2,1791.1 377.1,1791.3 378.1,1791.5 379.1,1791.6 380.1,1791.7 381.0,1791.8 382.0,1791.9 383.0,1791.9 384.0,1792.0 385.0,1792.0 385.9,1792.1 386.9,1792.1 387.9,1792.1 388.9,1792.1 389.8,1792.1 390.8,1792.2 391.8,1792.2 392.8,1792.2 393.8,1792.2 406.3,1792.2" fill="none" stroke="#a6dc98" stroke-width="2.5" stroke-linejoin="round" />
<polyline points="77.5,1792.2 86.9,1792.2 86.9,1792.2 87.6,1791.8 88.2,1791.5 88.8,1791.1 89.5,1790.8 90.1,1790.6 90.7,1790.3 91.3,1790.1 92.0,1789.9 92.6,1789.7 93.2,1789.5 93.9,1789.3 94.5,1789.2 95.1,1789.1 95.7,1788.9 96.4,1788.8 97.0,1788.7 97.6,1788.6 98.3,1788.6 98.9,1788.5 99.5,1788.4 100.1,1788.3 100.8,1788.3 101.4,1788.2 102.0,1788.2 102.6,1788.1 103.3,1788.1 103.9,1788.1 104.5,1788.0 105.2,1788.0 105.8,1788.0 106.4,1787.9 107.0,1787.9 107.7,1787.9 108.3,1787.9 108.9,1787.8 109.6,1787.8 110.2,1787.8 110.8,1787.8 111.4,1787.8 112.1,1787.8 112.1,1787.8 137.3,1787.7 162.5,1787.7 187.8,1787.7 213.0,1787.7 238.3,1787.7 263.5,1787.7 288.7,1787.7 314.0,1787.7 339.2,1787.7 364.4,1787.7 364.4,1787.7 365.4,1788.5 366.4,1789.2 367.4,1789.8 368.3,1790.2 369.3,1790.6 370.3,1790.9 371.3,1791.2 372.3,1791.4 373.2,1791.5 374.2,1791.6 375.2,1791.7 376.2,1791.8 377.1,1791.9 378.1,1792.0 379.1,1792.0 380.1,1792.0 381.0,1792.1 382.0,1792.1 383.0,1792.1 384.0,1792.1 385.0,1792.1 385.9,1792.2 386.9,1792.2 387.9,1792.2 388.9,1792.2 389.8,1792.2 390.8,1792.2 391.8,1792.2 392.8,1792.2 393.8,1792.2 406.3,1792.2" fill="none" stroke="#55b64f" stroke-width="2" stroke-linejoin="round" />
<polyline points="77.5,1792.2 86.9,1792.2 86.9,1792.2 87.6,1791.9 88.2,1791.7 88.8,1791.4 89.5,1791.2 90.1,1791.0 90.7,1790.9 91.3,1790.7 92.0,1790.6 92.6,1790.4 93.2,1790.3 93.9,1790.2 94.5,1790.1 95.1,1790.0 95.7,1789.9 96.4,1789.8 97.0,1789.8 97.6,1789.7 98.3,1789.6 98.9,1789.6 99.5,1789.5 100.1,1789.5 100.8,1789.5 101.4,1789.4 102.0,1789.4 102.6,1789.4 103.3,1789.3 103.9,1789.3 104.5,1789.3 105.2,1789.2 105.8,1789.2 106.4,1789.2 107.0,1789.2 107.7,1789.2 108.3,1789.2 108.9,1789.2 109.6,1789.1 110.2,1789.1 110.8,1789.1 111.4,1789.1 112.1,1789.1 112.1,1789.1 137.3,1789.0 162.5,1789.0 187.8,1789.0 213.0,1789.0 238.3,1789.0 263.5,1789.0 288.7,1789.0 314.0,1789.0 339.2,1789.0 364.4,1789.0 364.4,1789.0 365.4,1789.6 366.4,1790.1 367.4,1790.5 368.3,1790.8 369.3,1791.1 370.3,1791.3 371.3,1791.5 372.3,1791.6 373.2,1791.7 374.2,1791.8 375.2,1791.9 376.2,1791.9 377.1,1792.0 378.1,1792.0 379.1,1792.1 380.1,1792.1 381.0,1792.1 382.0,1792.1 383.0,1792.1 384.0,1792.2 385.0,1792.2 385.9,1792.2 386.9,1792.2 387.9,1792.2 388.9,1792.2 389.8,1792.2 390.8,1792.2 391.8,1792.2 392.8,1792.2 393.8,1792.2 406.3,1792.2" fill="none" stroke="#a6dc98" stroke-width="2" stroke-linejoin="round" />
<polyline points="77.5,1792.2 86.9,1792.2 86.9,1792.2 87.6,1716.4 88.2,1675.0 88.8,1652.7 89.5,1641.7 90.1,1635.6 90.7,1632.3 91.3,1630.5 92.0,1629.5 92.6,1628.9 93.2,1628.6 93.9,1628.5 94.5,1628.4 95.1,1628.3 95.7,1628.3 96.4,1628.3 97.0,1628.3 97.6,1628.3 98.3,1628.3 98.9,1628.3 99.5,1628.3 100.1,1628.3 100.8,1628.3 101.4,1628.3 102.0,1628.3 102.6,1628.3 103.3,1628.3 103.9,1628.3 104.5,1628.3 105.2,1628.3 105.8,1628.3 106.4,1628.3 107.0,1628.3 107.7,1628.3 108.3,1628.3 108.9,1628.3 109.6,1628.3 110.2,1628.3 110.8,1628.3 111.4,1628.3 112.1,1628.3 112.1,1628.3 137.3,1628.3 162.5,1628.3 187.8,1628.3 213.0,1628.3 238.3,1628.3 263.5,1628.3 288.7,1628.3 314.0,1628.3 339.2,1628.3 364.4,1628.3 364.4,1628.3 365.4,1656.2 366.4,1682.0 367.4,1702.8 368.3,1719.7 369.3,1733.4 370.3,1744.5 371.3,1753.5 372.3,1760.8 373.2,1766.8 374.2,1771.6 375.2,1775.5 376.2,1778.7 377.1,1781.2 378.1,1783.3 379.1,1785.0 380.1,1786.4 381.0,1787.5 382.0,1788.4 383.0,1789.1 384.0,1789.7 385.0,1790.2 385.9,1790.5 386.9,1790.9 387.9,1791.1 388.9,1791.3 389.8,1791.5 390.8,1791.6 391.8,1791.7 392.8,1791.8 393.8,1791.9 406.3,1792.2" fill="none" stroke="#0a1a0a" stroke-width="1.6" stroke-linejoin="round" />
<polyline points="77.5,1792.2 86.9,1792.2 86.9,1792.2 87.6,1716.9 88.2,1675.6 88.8,1653.3 89.5,1642.4 90.1,1636.4 90.7,1633.1 91.3,1631.3 92.0,1630.3 92.6,1629.7 93.2,1629.4 93.9,1629.3 94.5,1629.2 95.1,1629.1 95.7,1629.1 96.4,1629.1 97.0,1629.1 97.6,1629.1 98.3,1629.1 98.9,1629.1 99.5,1629.1 100.1,1629.1 100.8,1629.1 101.4,1629.1 102.0,1629.1 102.6,1629.1 103.3,1629.1 103.9,1629.1 104.5,1629.1 105.2,1629.1 105.8,1629.1 106.4,1629.1 107.0,1629.1 107.7,1629.1 108.3,1629.1 108.9,1629.1 109.6,1629.1 110.2,1629.1 110.8,1629.1 111.4,1629.1 112.1,1629.1 112.1,1629.1 137.3,1629.1 162.5,1629.1 187.8,1629.1 213.0,1629.1 238.3,1629.1 263.5,1629.1 288.7,1629.1 314.0,1629.1 339.2,1629.1 364.4,1629.1 364.4,1629.1 365.4,1657.0 366.4,1682.6 367.4,1703.3 368.3,1720.1 369.3,1733.7 370.3,1744.7 371.3,1753.7 372.3,1761.0 373.2,1766.9 374.2,1771.7 375.2,1775.6 376.2,1778.7 377.1,1781.3 378.1,1783.3 379.1,1785.0 380.1,1786.4 381.0,1787.5 382.0,1788.4 383.0,1789.1 384.0,1789.7 385.0,1790.2 385.9,1790.6 386.9,1790.9 387.9,1791.1 388.9,1791.3 389.8,1791.5 390.8,1791.6 391.8,1791.7 392.8,1791.8 393.8,1791.9 406.3,1792.2" fill="none" stroke="#0a1a0a" stroke-width="1.6" stroke-linejoin="round" />
<polyline points="77.5,1792.2 86.9,1792.2 86.9,1792.2 87.6,1760.4 88.2,1736.8 88.8,1719.5 89.5,1706.6 90.1,1697.1 90.7,1690.0 91.3,1684.8 92.0,1680.9 92.6,1678.0 93.2,1675.9 93.9,1674.3 94.5,1673.1 95.1,1672.3 95.7,1671.6 96.4,1671.1 97.0,1670.8 97.6,1670.5 98.3,1670.3 98.9,1670.2 99.5,1670.1 100.1,1670.0 100.8,1670.0 101.4,1669.9 102.0,1669.9 102.6,1669.9 103.3,1669.8 103.9,1669.8 104.5,1669.8 105.2,1669.8 105.8,1669.8 106.4,1669.8 107.0,1669.8 107.7,1669.8 108.3,1669.8 108.9,1669.8 109.6,1669.8 110.2,1669.8 110.8,1669.8 111.4,1669.8 112.1,1669.8 112.1,1669.8 137.3,1669.8 162.5,1669.8 187.8,1669.8 213.0,1669.8 238.3,1669.8 263.5,1669.8 288.7,1669.8 314.0,1669.8 339.2,1669.8 364.4,1669.8 364.4,1669.8 365.4,1693.0 366.4,1711.7 367.4,1726.9 368.3,1739.2 369.3,1749.2 370.3,1757.4 371.3,1764.0 372.3,1769.3 373.2,1773.6 374.2,1777.2 375.2,1780.0 376.2,1782.3 377.1,1784.2 378.1,1785.7 379.1,1786.9 380.1,1787.9 381.0,1788.7 382.0,1789.4 383.0,1789.9 384.0,1790.4 385.0,1790.7 385.9,1791.0 386.9,1791.2 387.9,1791.4 388.9,1791.6 389.8,1791.7 390.8,1791.8 391.8,1791.9 392.8,1791.9 393.8,1792.0 406.3,1792.2" fill="none" stroke="#0a1a0a" stroke-width="1.6" stroke-linejoin="round" />
<polyline points="77.5,1792.2 86.9,1792.2 86.9,1792.2 87.6,1780.7 88.2,1771.2 88.8,1763.2 89.5,1756.5 90.1,1750.9 90.7,1746.2 91.3,1742.4 92.0,1739.1 92.6,1736.4 93.2,1734.2 93.9,1732.3 94.5,1730.7 95.1,1729.4 95.7,1728.3 96.4,1727.4 97.0,1726.6 97.6,1726.0 98.3,1725.5 98.9,1725.0 99.5,1724.6 100.1,1724.3 100.8,1724.1 101.4,1723.8 102.0,1723.7 102.6,1723.5 103.3,1723.4 103.9,1723.3 104.5,1723.2 105.2,1723.1 105.8,1723.1 106.4,1723.0 107.0,1723.0 107.7,1722.9 108.3,1722.9 108.9,1722.9 109.6,1722.9 110.2,1722.8 110.8,1722.8 111.4,1722.8 112.1,1722.8 112.1,1722.8 137.3,1722.7 162.5,1722.7 187.8,1722.7 213.0,1722.7 238.3,1722.7 263.5,1722.7 288.7,1722.7 314.0,1722.7 339.2,1722.7 364.4,1722.7 364.4,1722.7 365.4,1735.8 366.4,1746.5 367.4,1755.1 368.3,1762.1 369.3,1767.8 370.3,1772.5 371.3,1776.2 372.3,1779.2 373.2,1781.7 374.2,1783.7 375.2,1785.3 376.2,1786.6 377.1,1787.7 378.1,1788.5 379.1,1789.2 380.1,1789.8 381.0,1790.2 382.0,1790.6 383.0,1790.9 384.0,1791.2 385.0,1791.4 385.9,1791.5 386.9,1791.6 387.9,1791.7 388.9,1791.8 389.8,1791.9 390.8,1792.0 391.8,1792.0 392.8,1792.0 393.8,1792.1 406.3,1792.2" fill="none" stroke="#0a1a0a" stroke-width="1.6" stroke-linejoin="round" />
<polyline points="77.5,1792.2 86.9,1792.2 86.9,1792.2 87.6,1788.3 88.2,1784.9 88.8,1781.9 89.5,1779.3 90.1,1777.0 90.7,1775.0 91.3,1773.3 92.0,1771.8 92.6,1770.4 93.2,1769.3 93.9,1768.3 94.5,1767.4 95.1,1766.6 95.7,1765.9 96.4,1765.3 97.0,1764.8 97.6,1764.4 98.3,1764.0 98.9,1763.6 99.5,1763.3 100.1,1763.1 100.8,1762.8 101.4,1762.6 102.0,1762.5 102.6,1762.3 103.3,1762.2 103.9,1762.1 104.5,1762.0 105.2,1761.9 105.8,1761.8 106.4,1761.7 107.0,1761.7 107.7,1761.6 108.3,1761.6 108.9,1761.5 109.6,1761.5 110.2,1761.5 110.8,1761.4 111.4,1761.4 112.1,1761.4 112.1,1761.4 137.3,1761.3 162.5,1761.3 187.8,1761.3 213.0,1761.3 238.3,1761.3 263.5,1761.3 288.7,1761.3 314.0,1761.3 339.2,1761.3 364.4,1761.3 364.4,1761.3 365.4,1767.1 366.4,1771.9 367.4,1775.7 368.3,1778.8 369.3,1781.4 370.3,1783.4 371.3,1785.1 372.3,1786.4 373.2,1787.5 374.2,1788.4 375.2,1789.1 376.2,1789.7 377.1,1790.2 378.1,1790.6 379.1,1790.9 380.1,1791.1 381.0,1791.3 382.0,1791.5 383.0,1791.6 384.0,1791.7 385.0,1791.8 385.9,1791.9 386.9,1792.0 387.9,1792.0 388.9,1792.0 389.8,1792.1 390.8,1792.1 391.8,1792.1 392.8,1792.1 393.8,1792.1 406.3,1792.2" fill="none" stroke="#0a1a0a" stroke-width="1.6" stroke-linejoin="round" />
<polyline points="77.5,1792.2 86.9,1792.2 86.9,1792.2 87.6,1791.1 88.2,1790.0 88.8,1789.1 89.5,1788.3 90.1,1787.6 90.7,1786.9 91.3,1786.3 92.0,1785.7 92.6,1785.2 93.2,1784.8 93.9,1784.4 94.5,1784.1 95.1,1783.7 95.7,1783.4 96.4,1783.2 97.0,1782.9 97.6,1782.7 98.3,1782.5 98.9,1782.4 99.5,1782.2 100.1,1782.1 100.8,1782.0 101.4,1781.8 102.0,1781.7 102.6,1781.6 103.3,1781.6 103.9,1781.5 104.5,1781.4 105.2,1781.4 105.8,1781.3 106.4,1781.3 107.0,1781.2 107.7,1781.2 108.3,1781.1 108.9,1781.1 109.6,1781.1 110.2,1781.1 110.8,1781.0 111.4,1781.0 112.1,1781.0 112.1,1781.0 137.3,1780.8 162.5,1780.8 187.8,1780.8 213.0,1780.8 238.3,1780.8 263.5,1780.8 288.7,1780.8 314.0,1780.8 339.2,1780.8 364.4,1780.8 364.4,1780.8 365.4,1783.0 366.4,1784.7 367.4,1786.1 368.3,1787.3 369.3,1788.2 370.3,1789.0 371.3,1789.6 372.3,1790.1 373.2,1790.5 374.2,1790.8 375.2,1791.1 376.2,1791.3 377.1,1791.5 378.1,1791.6 379.1,1791.7 380.1,1791.8 381.0,1791.9 382.0,1791.9 383.0,1792.0 384.0,1792.0 385.0,1792.1 385.9,1792.1 386.9,1792.1 387.9,1792.1 388.9,1792.1 389.8,1792.2 390.8,1792.2 391.8,1792.2 392.8,1792.2 393.8,1792.2 406.3,1792.2" fill="none" stroke="#0a1a0a" stroke-width="1.6" stroke-linejoin="round" />
<polyline points="77.5,1792.2 86.9,1792.2 86.9,1792.2 87.6,1791.8 88.2,1791.5 88.8,1791.1 89.5,1790.8 90.1,1790.6 90.7,1790.3 91.3,1790.1 92.0,1789.9 92.6,1789.7 93.2,1789.5 93.9,1789.3 94.5,1789.2 95.1,1789.1 95.7,1788.9 96.4,1788.8 97.0,1788.7 97.6,1788.6 98.3,1788.6 98.9,1788.5 99.5,1788.4 100.1,1788.3 100.8,1788.3 101.4,1788.2 102.0,1788.2 102.6,1788.1 103.3,1788.1 103.9,1788.1 104.5,1788.0 105.2,1788.0 105.8,1788.0 106.4,1787.9 107.0,1787.9 107.7,1787.9 108.3,1787.9 108.9,1787.8 109.6,1787.8 110.2,1787.8 110.8,1787.8 111.4,1787.8 112.1,1787.8 112.1,1787.8 137.3,1787.7 162.5,1787.7 187.8,1787.7 213.0,1787.7 238.3,1787.7 263.5,1787.7 288.7,1787.7 314.0,1787.7 339.2,1787.7 364.4,1787.7 364.4,1787.7 365.4,1788.5 366.4,1789.2 367.4,1789.8 368.3,1790.2 369.3,1790.6 370.3,1790.9 371.3,1791.2 372.3,1791.4 373.2,1791.5 374.2,1791.6 375.2,1791.7 376.2,1791.8 377.1,1791.9 378.1,1792.0 379.1,1792.0 380.1,1792.0 381.0,1792.1 382.0,1792.1 383.0,1792.1 384.0,1792.1 385.0,1792.1 385.9,1792.2 386.9,1792.2 387.9,1792.2 388.9,1792.2 389.8,1792.2 390.8,1792.2 391.8,1792.2 392.8,1792.2 393.8,1792.2 406.3,1792.2" fill="none" stroke="#0a1a0a" stroke-width="1.6" stroke-linejoin="round" />
<polyline points="77.5,1792.2 86.9,1792.2 86.9,1792.2 87.6,1792.0 88.2,1791.8 88.8,1791.6 89.5,1791.4 90.1,1791.2 90.7,1791.1 91.3,1790.9 92.0,1790.8 92.6,1790.7 93.2,1790.6 93.9,1790.5 94.5,1790.4 95.1,1790.3 95.7,1790.2 96.4,1790.2 97.0,1790.1 97.6,1790.1 98.3,1790.0 98.9,1790.0 99.5,1789.9 100.1,1789.9 100.8,1789.8 101.4,1789.8 102.0,1789.8 102.6,1789.8 103.3,1789.7 103.9,1789.7 104.5,1789.7 105.2,1789.7 105.8,1789.7 106.4,1789.6 107.0,1789.6 107.7,1789.6 108.3,1789.6 108.9,1789.6 109.6,1789.6 110.2,1789.6 110.8,1789.6 111.4,1789.6 112.1,1789.5 112.1,1789.5 137.3,1789.5 162.5,1789.5 187.8,1789.5 213.0,1789.5 238.3,1789.5 263.5,1789.5 288.7,1789.5 314.0,1789.5 339.2,1789.5 364.4,1789.5 364.4,1789.5 365.4,1790.0 366.4,1790.4 367.4,1790.7 368.3,1791.0 369.3,1791.2 370.3,1791.4 371.3,1791.6 372.3,1791.7 373.2,1791.8 374.2,1791.9 375.2,1791.9 376.2,1792.0 377.1,1792.0 378.1,1792.1 379.1,1792.1 380.1,1792.1 381.0,1792.1 382.0,1792.1 383.0,1792.1 384.0,1792.2 385.0,1792.2 385.9,1792.2 386.9,1792.2 387.9,1792.2 388.9,1792.2 389.8,1792.2 390.8,1792.2 391.8,1792.2 392.8,1792.2 393.8,1792.2 406.3,1792.2" fill="none" stroke="#0a1a0a" stroke-width="1.6" stroke-linejoin="round" />
<line x1="74.8" y1="1610.7" x2="74.8" y2="1816.4" stroke="#000" stroke-width="2" />
<line x1="73.8" y1="1815.4" x2="411.9" y2="1815.4" stroke="#000" stroke-width="2" />
<line x1="66.8" y1="1616.3" x2="74.8" y2="1616.3" stroke="#000" stroke-width="1.8" />
<text x="42.8" y="1622.2" font-size="20.0" stroke="#000" stroke-width="0.35">40</text>
<line x1="66.8" y1="1656.2" x2="74.8" y2="1656.2" stroke="#000" stroke-width="1.8" />
<text x="42.8" y="1662.1" font-size="20.0" stroke="#000" stroke-width="0.35">30</text>
<line x1="66.8" y1="1701.5" x2="74.8" y2="1701.5" stroke="#000" stroke-width="1.8" />
<text x="42.8" y="1707.4" font-size="20.0" stroke="#000" stroke-width="0.35">20</text>
<line x1="66.8" y1="1746.7" x2="74.8" y2="1746.7" stroke="#000" stroke-width="1.8" />
<text x="42.8" y="1752.6" font-size="20.0" stroke="#000" stroke-width="0.35">10</text>
<line x1="66.8" y1="1792.2" x2="74.8" y2="1792.2" stroke="#000" stroke-width="1.8" />
<text x="53.9" y="1798.1" font-size="20.0" stroke="#000" stroke-width="0.35">0</text>
<line x1="83.8" y1="1815.4" x2="83.8" y2="1823.4" stroke="#000" stroke-width="1.8" />
<text x="78.4" y="1839.9" font-size="19.3" stroke="#000" stroke-width="0.35">0</text>
<line x1="125.7" y1="1815.4" x2="125.7" y2="1823.4" stroke="#000" stroke-width="1.8" />
<text x="114.8" y="1839.9" font-size="19.3" stroke="#000" stroke-width="0.35">20</text>
<line x1="167.6" y1="1815.4" x2="167.6" y2="1823.4" stroke="#000" stroke-width="1.8" />
<text x="157.0" y="1839.9" font-size="19.3" stroke="#000" stroke-width="0.35">40</text>
<line x1="209.5" y1="1815.4" x2="209.5" y2="1823.4" stroke="#000" stroke-width="1.8" />
<text x="198.6" y="1839.9" font-size="19.3" stroke="#000" stroke-width="0.35">60</text>
<line x1="251.3" y1="1815.4" x2="251.3" y2="1823.4" stroke="#000" stroke-width="1.8" />
<text x="240.5" y="1839.9" font-size="19.3" stroke="#000" stroke-width="0.35">80</text>
<line x1="293.2" y1="1815.4" x2="293.2" y2="1823.4" stroke="#000" stroke-width="1.8" />
<text x="276.8" y="1839.9" font-size="19.3" stroke="#000" stroke-width="0.35">100</text>
<line x1="335.1" y1="1815.4" x2="335.1" y2="1823.4" stroke="#000" stroke-width="1.8" />
<text x="318.7" y="1839.9" font-size="19.3" stroke="#000" stroke-width="0.35">120</text>
<line x1="377.0" y1="1815.4" x2="377.0" y2="1823.4" stroke="#000" stroke-width="1.8" />
<text x="360.5" y="1839.9" font-size="19.3" stroke="#000" stroke-width="0.35">140</text>
<text x="213.8" y="1868.4" font-size="26.5" stroke="#000" stroke-width="0.35">Time [s]</text>
<text x="157.2" y="1904.2" font-size="26.5" stroke="#000" stroke-width="0.35">ABP1-IAA pH 5.5</text>
<text x="106.7" y="1708.5" font-size="27.0" stroke="#000" stroke-width="0.35">Kd = 13.7 µM</text>
<polyline points="446.9,1790.7 455.3,1790.7" fill="none" stroke="#a6dc98" stroke-width="2.5" stroke-linejoin="round" />
<polyline points="455.3,1798.8 455.5,1790.7" fill="none" stroke="#55b64f" stroke-width="1.5" stroke-linejoin="round" />
<polyline points="446.9,1790.7 455.3,1790.7 455.3,1790.7 455.9,1788.6 456.5,1786.9 457.2,1785.4 457.8,1784.2 458.4,1783.1 459.1,1782.1 459.7,1781.3 460.3,1780.6 460.9,1780.0 461.6,1779.5 462.2,1779.0 462.8,1778.6 463.5,1778.3 464.1,1778.0 464.7,1777.8 465.3,1777.6 466.0,1777.4 466.6,1777.2 467.2,1777.1 467.9,1777.0 468.5,1776.9 469.1,1776.8 469.7,1776.7 470.4,1776.6 471.0,1776.6 471.6,1776.5 472.3,1776.5 472.9,1776.5 473.5,1776.4 474.1,1776.4 474.8,1776.4 475.4,1776.4 476.0,1776.4 476.6,1776.3 477.3,1776.3 477.9,1776.3 478.5,1776.3 479.2,1776.3 479.8,1776.3 480.4,1776.3 480.4,1776.3 505.3,1776.3 530.2,1776.3 555.2,1776.3 580.1,1776.3 605.0,1776.2 629.9,1776.2 654.8,1776.2 679.7,1776.2 704.6,1776.2 729.6,1776.2 729.6,1776.2 730.5,1778.4 731.5,1780.3 732.5,1781.8 733.5,1783.2 734.4,1784.3 735.4,1785.2 736.4,1786.1 737.4,1786.8 738.3,1787.3 739.3,1787.8 740.3,1788.3 741.3,1788.6 742.3,1788.9 743.2,1789.2 744.2,1789.4 745.2,1789.6 746.2,1789.8 747.1,1789.9 748.1,1790.0 749.1,1790.1 750.1,1790.2 751.0,1790.3 752.0,1790.3 753.0,1790.4 754.0,1790.4 755.0,1790.4 755.9,1790.5 756.9,1790.5 757.9,1790.5 758.9,1790.5 777.7,1790.7" fill="none" stroke="#2a8a36" stroke-width="2.5" stroke-linejoin="round" />
<polyline points="446.9,1790.7 455.3,1790.7 455.3,1790.7 455.9,1790.1 456.5,1789.5 457.2,1789.1 457.8,1788.6 458.4,1788.2 459.1,1787.8 459.7,1787.5 460.3,1787.2 460.9,1786.9 461.6,1786.6 462.2,1786.4 462.8,1786.2 463.5,1786.0 464.1,1785.8 464.7,1785.6 465.3,1785.5 466.0,1785.4 466.6,1785.2 467.2,1785.1 467.9,1785.0 468.5,1784.9 469.1,1784.8 469.7,1784.8 470.4,1784.7 471.0,1784.6 471.6,1784.6 472.3,1784.5 472.9,1784.4 473.5,1784.4 474.1,1784.4 474.8,1784.3 475.4,1784.3 476.0,1784.2 476.6,1784.2 477.3,1784.2 477.9,1784.2 478.5,1784.1 479.2,1784.1 479.8,1784.1 480.4,1784.1 480.4,1784.1 505.3,1783.9 530.2,1783.9 555.2,1783.9 580.1,1783.9 605.0,1783.9 629.9,1783.9 654.8,1783.9 679.7,1783.9 704.6,1783.9 729.6,1783.9 729.6,1783.9 730.5,1784.9 731.5,1785.8 732.5,1786.5 733.5,1787.1 734.4,1787.7 735.4,1788.1 736.4,1788.5 737.4,1788.8 738.3,1789.1 739.3,1789.3 740.3,1789.5 741.3,1789.7 742.3,1789.8 743.2,1790.0 744.2,1790.1 745.2,1790.2 746.2,1790.2 747.1,1790.3 748.1,1790.3 749.1,1790.4 750.1,1790.4 751.0,1790.5 752.0,1790.5 753.0,1790.5 754.0,1790.5 755.0,1790.6 755.9,1790.6 756.9,1790.6 757.9,1790.6 758.9,1790.6 777.7,1790.7" fill="none" stroke="#55b64f" stroke-width="3" stroke-linejoin="round" />
<polyline points="446.9,1790.7 455.3,1790.7 455.3,1790.7 455.9,1790.0 456.5,1789.5 457.2,1789.0 457.8,1788.6 458.4,1788.2 459.1,1787.9 459.7,1787.6 460.3,1787.3 460.9,1787.1 461.6,1786.9 462.2,1786.7 462.8,1786.5 463.5,1786.4 464.1,1786.3 464.7,1786.1 465.3,1786.0 466.0,1786.0 466.6,1785.9 467.2,1785.8 467.9,1785.7 468.5,1785.7 469.1,1785.6 469.7,1785.6 470.4,1785.6 471.0,1785.5 471.6,1785.5 472.3,1785.5 472.9,1785.4 473.5,1785.4 474.1,1785.4 474.8,1785.4 475.4,1785.4 476.0,1785.4 476.6,1785.3 477.3,1785.3 477.9,1785.3 478.5,1785.3 479.2,1785.3 479.8,1785.3 480.4,1785.3 480.4,1785.3 505.3,1785.3 530.2,1785.3 555.2,1785.3 580.1,1785.3 605.0,1785.3 629.9,1785.2 654.8,1785.2 679.7,1785.2 704.6,1785.2 729.6,1785.2 729.6,1785.2 730.5,1786.1 731.5,1786.8 732.5,1787.3 733.5,1787.8 734.4,1788.3 735.4,1788.6 736.4,1788.9 737.4,1789.2 738.3,1789.4 739.3,1789.6 740.3,1789.8 741.3,1789.9 742.3,1790.0 743.2,1790.1 744.2,1790.2 745.2,1790.3 746.2,1790.3 747.1,1790.4 748.1,1790.4 749.1,1790.4 750.1,1790.5 751.0,1790.5 752.0,1790.5 753.0,1790.5 754.0,1790.6 755.0,1790.6 755.9,1790.6 756.9,1790.6 757.9,1790.6 758.9,1790.6 777.7,1790.7" fill="none" stroke="#a6dc98" stroke-width="2.5" stroke-linejoin="round" />
<polyline points="446.9,1790.7 455.3,1790.7 455.3,1790.7 455.9,1790.5 456.5,1790.3 457.2,1790.1 457.8,1790.0 458.4,1789.8 459.1,1789.7 459.7,1789.6 460.3,1789.5 460.9,1789.4 461.6,1789.3 462.2,1789.2 462.8,1789.2 463.5,1789.1 464.1,1789.0 464.7,1789.0 465.3,1788.9 466.0,1788.9 466.6,1788.8 467.2,1788.8 467.9,1788.8 468.5,1788.7 469.1,1788.7 469.7,1788.7 470.4,1788.7 471.0,1788.6 471.6,1788.6 472.3,1788.6 472.9,1788.6 473.5,1788.6 474.1,1788.6 474.8,1788.5 475.4,1788.5 476.0,1788.5 476.6,1788.5 477.3,1788.5 477.9,1788.5 478.5,1788.5 479.2,1788.5 479.8,1788.5 480.4,1788.5 480.4,1788.5 505.3,1788.4 530.2,1788.4 555.2,1788.4 580.1,1788.4 605.0,1788.4 629.9,1788.4 654.8,1788.4 679.7,1788.4 704.6,1788.4 729.6,1788.4 729.6,1788.4 730.5,1788.7 731.5,1789.0 732.5,1789.3 733.5,1789.5 734.4,1789.7 735.4,1789.8 736.4,1789.9 737.4,1790.0 738.3,1790.1 739.3,1790.2 740.3,1790.3 741.3,1790.3 742.3,1790.4 743.2,1790.4 744.2,1790.5 745.2,1790.5 746.2,1790.5 747.1,1790.5 748.1,1790.5 749.1,1790.6 750.1,1790.6 751.0,1790.6 752.0,1790.6 753.0,1790.6 754.0,1790.6 755.0,1790.6 755.9,1790.6 756.9,1790.6 757.9,1790.6 758.9,1790.6 777.7,1790.7" fill="none" stroke="#55b64f" stroke-width="2" stroke-linejoin="round" />
<polyline points="446.9,1790.7 455.3,1790.7 455.3,1790.7 455.9,1788.8 456.5,1787.2 457.2,1785.8 457.8,1784.6 458.4,1783.5 459.1,1782.6 459.7,1781.9 460.3,1781.2 460.9,1780.6 461.6,1780.2 462.2,1779.7 462.8,1779.4 463.5,1779.1 464.1,1778.8 464.7,1778.6 465.3,1778.4 466.0,1778.2 466.6,1778.1 467.2,1777.9 467.9,1777.8 468.5,1777.7 469.1,1777.6 469.7,1777.6 470.4,1777.5 471.0,1777.5 471.6,1777.4 472.3,1777.4 472.9,1777.4 473.5,1777.3 474.1,1777.3 474.8,1777.3 475.4,1777.3 476.0,1777.2 476.6,1777.2 477.3,1777.2 477.9,1777.2 478.5,1777.2 479.2,1777.2 479.8,1777.2 480.4,1777.2 480.4,1777.2 505.3,1777.2 530.2,1777.2 555.2,1777.2 580.1,1777.2 605.0,1777.2 629.9,1777.2 654.8,1777.2 679.7,1777.2 704.6,1777.2 729.6,1777.2 729.6,1777.2 730.5,1779.2 731.5,1780.9 732.5,1782.4 733.5,1783.6 734.4,1784.7 735.4,1785.6 736.4,1786.3 737.4,1787.0 738.3,1787.5 739.3,1788.0 740.3,1788.4 741.3,1788.7 742.3,1789.0 743.2,1789.3 744.2,1789.5 745.2,1789.7 746.2,1789.8 747.1,1789.9 748.1,1790.0 749.1,1790.1 750.1,1790.2 751.0,1790.3 752.0,1790.3 753.0,1790.4 754.0,1790.4 755.0,1790.5 755.9,1790.5 756.9,1790.5 757.9,1790.5 758.9,1790.5 777.7,1790.7" fill="none" stroke="#0a1a0a" stroke-width="1.6" stroke-linejoin="round" />
<polyline points="446.9,1790.7 455.3,1790.7 455.3,1790.7 455.9,1789.6 456.5,1788.7 457.2,1787.9 457.8,1787.1 458.4,1786.4 459.1,1785.8 459.7,1785.2 460.3,1784.6 460.9,1784.2 461.6,1783.7 462.2,1783.3 462.8,1782.9 463.5,1782.6 464.1,1782.3 464.7,1782.0 465.3,1781.7 466.0,1781.5 466.6,1781.3 467.2,1781.1 467.9,1780.9 468.5,1780.7 469.1,1780.6 469.7,1780.4 470.4,1780.3 471.0,1780.2 471.6,1780.1 472.3,1780.0 472.9,1779.9 473.5,1779.8 474.1,1779.7 474.8,1779.7 475.4,1779.6 476.0,1779.6 476.6,1779.5 477.3,1779.5 477.9,1779.4 478.5,1779.4 479.2,1779.3 479.8,1779.3 480.4,1779.3 480.4,1779.3 505.3,1779.0 530.2,1779.0 555.2,1779.0 580.1,1779.0 605.0,1779.0 629.9,1779.0 654.8,1779.0 679.7,1779.0 704.6,1779.0 729.6,1779.0 729.6,1779.0 730.5,1780.7 731.5,1782.2 732.5,1783.5 733.5,1784.6 734.4,1785.5 735.4,1786.3 736.4,1786.9 737.4,1787.5 738.3,1788.0 739.3,1788.4 740.3,1788.7 741.3,1789.0 742.3,1789.3 743.2,1789.5 744.2,1789.6 745.2,1789.8 746.2,1789.9 747.1,1790.0 748.1,1790.1 749.1,1790.2 750.1,1790.3 751.0,1790.3 752.0,1790.4 753.0,1790.4 754.0,1790.5 755.0,1790.5 755.9,1790.5 756.9,1790.5 757.9,1790.5 758.9,1790.6 777.7,1790.7" fill="none" stroke="#0a1a0a" stroke-width="1.6" stroke-linejoin="round" />
<polyline points="446.9,1790.7 455.3,1790.7 455.3,1790.7 455.9,1790.0 456.5,1789.4 457.2,1788.9 457.8,1788.4 458.4,1788.0 459.1,1787.6 459.7,1787.3 460.3,1787.0 460.9,1786.8 461.6,1786.6 462.2,1786.4 462.8,1786.2 463.5,1786.0 464.1,1785.9 464.7,1785.8 465.3,1785.7 466.0,1785.6 466.6,1785.5 467.2,1785.4 467.9,1785.3 468.5,1785.3 469.1,1785.2 469.7,1785.2 470.4,1785.1 471.0,1785.1 471.6,1785.1 472.3,1785.0 472.9,1785.0 473.5,1785.0 474.1,1785.0 474.8,1784.9 475.4,1784.9 476.0,1784.9 476.6,1784.9 477.3,1784.9 477.9,1784.9 478.5,1784.9 479.2,1784.9 479.8,1784.9 480.4,1784.8 480.4,1784.8 505.3,1784.8 530.2,1784.8 555.2,1784.8 580.1,1784.8 605.0,1784.8 629.9,1784.8 654.8,1784.8 679.7,1784.8 704.6,1784.8 729.6,1784.8 729.6,1784.8 730.5,1785.7 731.5,1786.4 732.5,1787.1 733.5,1787.6 734.4,1788.1 735.4,1788.5 736.4,1788.8 737.4,1789.1 738.3,1789.3 739.3,1789.5 740.3,1789.7 741.3,1789.8 742.3,1790.0 743.2,1790.1 744.2,1790.1 745.2,1790.2 746.2,1790.3 747.1,1790.3 748.1,1790.4 749.1,1790.4 750.1,1790.5 751.0,1790.5 752.0,1790.5 753.0,1790.5 754.0,1790.6 755.0,1790.6 755.9,1790.6 756.9,1790.6 757.9,1790.6 758.9,1790.6 777.7,1790.7" fill="none" stroke="#0a1a0a" stroke-width="1.6" stroke-linejoin="round" />
<polyline points="446.9,1790.7 455.3,1790.7 455.3,1790.7 455.9,1790.3 456.5,1790.0 457.2,1789.7 457.8,1789.4 458.4,1789.2 459.1,1789.0 459.7,1788.8 460.3,1788.6 460.9,1788.4 461.6,1788.2 462.2,1788.1 462.8,1788.0 463.5,1787.9 464.1,1787.7 464.7,1787.6 465.3,1787.6 466.0,1787.5 466.6,1787.4 467.2,1787.3 467.9,1787.3 468.5,1787.2 469.1,1787.2 469.7,1787.1 470.4,1787.1 471.0,1787.0 471.6,1787.0 472.3,1787.0 472.9,1786.9 473.5,1786.9 474.1,1786.9 474.8,1786.8 475.4,1786.8 476.0,1786.8 476.6,1786.8 477.3,1786.8 477.9,1786.8 478.5,1786.7 479.2,1786.7 479.8,1786.7 480.4,1786.7 480.4,1786.7 505.3,1786.6 530.2,1786.6 555.2,1786.6 580.1,1786.6 605.0,1786.6 629.9,1786.6 654.8,1786.6 679.7,1786.6 704.6,1786.6 729.6,1786.6 729.6,1786.6 730.5,1787.2 731.5,1787.7 732.5,1788.2 733.5,1788.5 734.4,1788.9 735.4,1789.1 736.4,1789.4 737.4,1789.6 738.3,1789.7 739.3,1789.9 740.3,1790.0 741.3,1790.1 742.3,1790.2 743.2,1790.2 744.2,1790.3 745.2,1790.4 746.2,1790.4 747.1,1790.4 748.1,1790.5 749.1,1790.5 750.1,1790.5 751.0,1790.5 752.0,1790.6 753.0,1790.6 754.0,1790.6 755.0,1790.6 755.9,1790.6 756.9,1790.6 757.9,1790.6 758.9,1790.6 777.7,1790.7" fill="none" stroke="#0a1a0a" stroke-width="1.6" stroke-linejoin="round" />
<polyline points="446.9,1790.7 455.3,1790.7 455.3,1790.7 455.9,1790.5 456.5,1790.3 457.2,1790.1 457.8,1790.0 458.4,1789.8 459.1,1789.7 459.7,1789.6 460.3,1789.5 460.9,1789.4 461.6,1789.3 462.2,1789.2 462.8,1789.2 463.5,1789.1 464.1,1789.0 464.7,1789.0 465.3,1788.9 466.0,1788.9 466.6,1788.8 467.2,1788.8 467.9,1788.8 468.5,1788.7 469.1,1788.7 469.7,1788.7 470.4,1788.7 471.0,1788.6 471.6,1788.6 472.3,1788.6 472.9,1788.6 473.5,1788.6 474.1,1788.6 474.8,1788.5 475.4,1788.5 476.0,1788.5 476.6,1788.5 477.3,1788.5 477.9,1788.5 478.5,1788.5 479.2,1788.5 479.8,1788.5 480.4,1788.5 480.4,1788.5 505.3,1788.4 530.2,1788.4 555.2,1788.4 580.1,1788.4 605.0,1788.4 629.9,1788.4 654.8,1788.4 679.7,1788.4 704.6,1788.4 729.6,1788.4 729.6,1788.4 730.5,1788.7 731.5,1789.0 732.5,1789.3 733.5,1789.5 734.4,1789.7 735.4,1789.8 736.4,1789.9 737.4,1790.0 738.3,1790.1 739.3,1790.2 740.3,1790.3 741.3,1790.3 742.3,1790.4 743.2,1790.4 744.2,1790.5 745.2,1790.5 746.2,1790.5 747.1,1790.5 748.1,1790.5 749.1,1790.6 750.1,1790.6 751.0,1790.6 752.0,1790.6 753.0,1790.6 754.0,1790.6 755.0,1790.6 755.9,1790.6 756.9,1790.6 757.9,1790.6 758.9,1790.6 777.7,1790.7" fill="none" stroke="#0a1a0a" stroke-width="1.6" stroke-linejoin="round" />
<line x1="444.7" y1="1610.6" x2="444.7" y2="1815.8" stroke="#000" stroke-width="2" />
<line x1="443.7" y1="1814.8" x2="781.6" y2="1814.8" stroke="#000" stroke-width="2" />
<line x1="436.7" y1="1616.7" x2="444.7" y2="1616.7" stroke="#000" stroke-width="1.8" />
<text x="412.7" y="1622.6" font-size="20.0" stroke="#000" stroke-width="0.35">40</text>
<line x1="436.7" y1="1656.3" x2="444.7" y2="1656.3" stroke="#000" stroke-width="1.8" />
<text x="412.7" y="1662.2" font-size="20.0" stroke="#000" stroke-width="0.35">30</text>
<line x1="436.7" y1="1701.3" x2="444.7" y2="1701.3" stroke="#000" stroke-width="1.8" />
<text x="412.7" y="1707.2" font-size="20.0" stroke="#000" stroke-width="0.35">20</text>
<line x1="436.7" y1="1747.0" x2="444.7" y2="1747.0" stroke="#000" stroke-width="1.8" />
<text x="412.7" y="1752.9" font-size="20.0" stroke="#000" stroke-width="0.35">10</text>
<line x1="436.7" y1="1792.0" x2="444.7" y2="1792.0" stroke="#000" stroke-width="1.8" />
<text x="423.8" y="1797.9" font-size="20.0" stroke="#000" stroke-width="0.35">0</text>
<line x1="453.2" y1="1814.8" x2="453.2" y2="1822.8" stroke="#000" stroke-width="1.8" />
<text x="447.8" y="1839.3" font-size="19.3" stroke="#000" stroke-width="0.35">0</text>
<line x1="495.1" y1="1814.8" x2="495.1" y2="1822.8" stroke="#000" stroke-width="1.8" />
<text x="484.2" y="1839.3" font-size="19.3" stroke="#000" stroke-width="0.35">20</text>
<line x1="536.9" y1="1814.8" x2="536.9" y2="1822.8" stroke="#000" stroke-width="1.8" />
<text x="526.4" y="1839.3" font-size="19.3" stroke="#000" stroke-width="0.35">40</text>
<line x1="578.8" y1="1814.8" x2="578.8" y2="1822.8" stroke="#000" stroke-width="1.8" />
<text x="568.0" y="1839.3" font-size="19.3" stroke="#000" stroke-width="0.35">60</text>
<line x1="620.7" y1="1814.8" x2="620.7" y2="1822.8" stroke="#000" stroke-width="1.8" />
<text x="609.9" y="1839.3" font-size="19.3" stroke="#000" stroke-width="0.35">80</text>
<line x1="662.6" y1="1814.8" x2="662.6" y2="1822.8" stroke="#000" stroke-width="1.8" />
<text x="646.1" y="1839.3" font-size="19.3" stroke="#000" stroke-width="0.35">100</text>
<line x1="704.4" y1="1814.8" x2="704.4" y2="1822.8" stroke="#000" stroke-width="1.8" />
<text x="688.0" y="1839.3" font-size="19.3" stroke="#000" stroke-width="0.35">120</text>
<line x1="746.3" y1="1814.8" x2="746.3" y2="1822.8" stroke="#000" stroke-width="1.8" />
<text x="729.8" y="1839.3" font-size="19.3" stroke="#000" stroke-width="0.35">140</text>
<text x="582.8" y="1867.8" font-size="26.5" stroke="#000" stroke-width="0.35">Time [s]</text>
<text x="527.6" y="1902.2" font-size="26.5" stroke="#000" stroke-width="0.35">ABP1-IAA pH 7.6</text>
<text x="467.8" y="1709.0" font-size="27.0" stroke="#000" stroke-width="0.35">Kd = 1943 µM</text>
<polyline points="820.9,1792.0 829.3,1792.0" fill="none" stroke="#e8707a" stroke-width="2" stroke-linejoin="round" />
<polyline points="829.3,1792.0 829.9,1774.9 829.9,1774.9 835.5,1776.8 841.0,1777.4 846.6,1777.5 852.1,1777.4 857.6,1777.3 863.2,1777.0 868.7,1776.8 874.3,1776.6 879.8,1776.3 885.4,1776.1 890.9,1775.9 896.5,1775.6 902.0,1775.4 907.5,1775.2 913.1,1774.9 918.6,1774.9 924.2,1774.9 929.7,1774.9 935.3,1774.9 940.8,1774.9 946.4,1774.9 951.9,1774.9 957.5,1774.9 963.0,1774.9 968.5,1774.9 974.1,1774.9 979.6,1774.9 985.2,1774.9 990.7,1774.9 996.3,1774.9 1001.8,1774.9 1007.4,1774.9 1012.9,1774.9 1018.4,1774.9 1024.0,1774.9 1029.5,1774.9 1035.1,1774.9 1040.6,1774.9 1046.2,1774.9 1051.7,1774.9 1057.3,1774.9 1062.8,1774.9 1068.3,1774.9 1073.9,1774.9 1079.4,1774.9 1085.0,1774.9 1090.5,1774.9 1096.1,1774.9 1101.6,1774.9 1107.2,1774.9 1107.8,1775.8 1108.4,1792.9 1151.0,1792.9" fill="none" stroke="#a01a28" stroke-width="1.6" stroke-linejoin="round" />
<polyline points="829.3,1792.0 829.3,1786.2 838.6,1786.0 847.8,1785.9 857.1,1785.8 866.3,1785.7 875.6,1785.6 884.9,1785.5 894.1,1785.4 903.4,1785.3 912.7,1785.3 921.9,1785.2 931.2,1785.2 940.4,1785.2 949.7,1785.2 959.0,1785.2 968.2,1785.2 977.5,1785.3 986.8,1785.4 996.0,1785.5 1005.3,1785.6 1014.5,1785.7 1023.8,1785.8 1033.1,1786.0 1042.3,1786.1 1051.6,1786.3 1060.9,1786.5 1070.1,1786.7 1079.4,1786.9 1088.6,1787.1 1097.9,1787.3 1107.2,1787.5 1108.2,1790.2 1151.0,1791.5" fill="none" stroke="#d2232a" stroke-width="2" stroke-linejoin="round" />
<polyline points="829.3,1792.0 829.3,1787.5 838.6,1787.3 847.8,1787.1 857.1,1786.9 866.3,1786.7 875.6,1786.6 884.9,1786.4 894.1,1786.2 903.4,1786.1 912.7,1786.0 921.9,1785.8 931.2,1785.7 940.4,1785.6 949.7,1785.6 959.0,1785.5 968.2,1785.5 977.5,1785.5 986.8,1785.4 996.0,1785.5 1005.3,1785.5 1014.5,1785.5 1023.8,1785.6 1033.1,1785.7 1042.3,1785.8 1051.6,1785.9 1060.9,1786.0 1070.1,1786.1 1079.4,1786.2 1088.6,1786.3 1097.9,1786.5 1107.2,1786.6 1108.2,1790.2 1151.0,1791.5" fill="none" stroke="#d2232a" stroke-width="3" stroke-linejoin="round" />
<polyline points="829.3,1792.0 829.3,1789.3 838.6,1789.1 847.8,1788.9 857.1,1788.7 866.3,1788.5 875.6,1788.3 884.9,1788.1 894.1,1787.9 903.4,1787.8 912.7,1787.6 921.9,1787.5 931.2,1787.4 940.4,1787.3 949.7,1787.2 959.0,1787.1 968.2,1787.0 977.5,1787.0 986.8,1787.0 996.0,1787.0 1005.3,1787.0 1014.5,1787.0 1023.8,1787.1 1033.1,1787.1 1042.3,1787.2 1051.6,1787.3 1060.9,1787.4 1070.1,1787.5 1079.4,1787.6 1088.6,1787.7 1097.9,1787.8 1107.2,1788.0 1108.2,1790.2 1151.0,1791.5" fill="none" stroke="#e8707a" stroke-width="3" stroke-linejoin="round" />
<polyline points="829.3,1792.0 829.3,1791.1 838.6,1790.9 847.8,1790.7 857.1,1790.5 866.3,1790.3 875.6,1790.1 884.9,1789.9 894.1,1789.7 903.4,1789.6 912.7,1789.4 921.9,1789.3 931.2,1789.2 940.4,1789.1 949.7,1789.0 959.0,1788.9 968.2,1788.8 977.5,1788.8 986.8,1788.8 996.0,1788.8 1005.3,1788.8 1014.5,1788.8 1023.8,1788.9 1033.1,1788.9 1042.3,1789.0 1051.6,1789.1 1060.9,1789.2 1070.1,1789.3 1079.4,1789.4 1088.6,1789.5 1097.9,1789.6 1107.2,1789.8 1108.2,1792.9 1151.0,1793.8" fill="none" stroke="#d2232a" stroke-width="3" stroke-linejoin="round" />
<polyline points="829.3,1792.0 829.3,1792.0 838.6,1791.8 847.8,1791.6 857.1,1791.4 866.3,1791.2 875.6,1791.1 884.9,1790.9 894.1,1790.7 903.4,1790.6 912.7,1790.5 921.9,1790.3 931.2,1790.2 940.4,1790.1 949.7,1790.1 959.0,1790.0 968.2,1790.0 977.5,1790.0 986.8,1789.9 996.0,1790.0 1005.3,1790.0 1014.5,1790.0 1023.8,1790.1 1033.1,1790.2 1042.3,1790.3 1051.6,1790.4 1060.9,1790.5 1070.1,1790.6 1079.4,1790.7 1088.6,1790.8 1097.9,1791.0 1107.2,1791.1 1108.2,1792.9 1151.0,1793.8" fill="none" stroke="#d2232a" stroke-width="2.5" stroke-linejoin="round" />
<polyline points="829.3,1792.0 829.3,1793.3 838.6,1793.2 847.8,1793.0 857.1,1792.8 866.3,1792.6 875.6,1792.4 884.9,1792.2 894.1,1792.1 903.4,1791.9 912.7,1791.8 921.9,1791.7 931.2,1791.6 940.4,1791.5 949.7,1791.4 959.0,1791.4 968.2,1791.3 977.5,1791.3 986.8,1791.3 996.0,1791.3 1005.3,1791.3 1014.5,1791.4 1023.8,1791.4 1033.1,1791.5 1042.3,1791.6 1051.6,1791.7 1060.9,1791.8 1070.1,1791.9 1079.4,1792.1 1088.6,1792.2 1097.9,1792.3 1107.2,1792.5 1108.2,1792.9 1151.0,1793.8" fill="none" stroke="#e8707a" stroke-width="2" stroke-linejoin="round" />
<polyline points="829.3,1792.0 829.3,1790.7 838.6,1790.5 847.8,1790.4 857.1,1790.3 866.3,1790.2 875.6,1790.1 884.9,1790.0 894.1,1789.9 903.4,1789.8 912.7,1789.8 921.9,1789.7 931.2,1789.7 940.4,1789.7 949.7,1789.7 959.0,1789.7 968.2,1789.8 977.5,1789.8 986.8,1789.9 996.0,1790.0 1005.3,1790.1 1014.5,1790.2 1023.8,1790.3 1033.1,1790.5 1042.3,1790.6 1051.6,1790.8 1060.9,1791.0 1070.1,1791.2 1079.4,1791.4 1088.6,1791.6 1097.9,1791.8 1107.2,1792.0 1108.2,1792.9 1151.0,1793.8" fill="none" stroke="#f0a0a8" stroke-width="2" stroke-linejoin="round" />
<polyline points="1107.2,1787.5 1151.0,1789.3" fill="none" stroke="#f0a0a8" stroke-width="2" stroke-linejoin="round" />
<line x1="818.7" y1="1610.6" x2="818.7" y2="1815.8" stroke="#000" stroke-width="2" />
<line x1="817.7" y1="1814.8" x2="1155.0" y2="1814.8" stroke="#000" stroke-width="2" />
<line x1="810.7" y1="1616.7" x2="818.7" y2="1616.7" stroke="#000" stroke-width="1.8" />
<text x="786.7" y="1622.6" font-size="20.0" stroke="#000" stroke-width="0.35">40</text>
<line x1="810.7" y1="1656.3" x2="818.7" y2="1656.3" stroke="#000" stroke-width="1.8" />
<text x="786.7" y="1662.2" font-size="20.0" stroke="#000" stroke-width="0.35">30</text>
<line x1="810.7" y1="1701.3" x2="818.7" y2="1701.3" stroke="#000" stroke-width="1.8" />
<text x="786.7" y="1707.2" font-size="20.0" stroke="#000" stroke-width="0.35">20</text>
<line x1="810.7" y1="1747.0" x2="818.7" y2="1747.0" stroke="#000" stroke-width="1.8" />
<text x="786.7" y="1752.9" font-size="20.0" stroke="#000" stroke-width="0.35">10</text>
<line x1="810.7" y1="1792.0" x2="818.7" y2="1792.0" stroke="#000" stroke-width="1.8" />
<text x="797.8" y="1797.9" font-size="20.0" stroke="#000" stroke-width="0.35">0</text>
<line x1="827.2" y1="1814.8" x2="827.2" y2="1822.8" stroke="#000" stroke-width="1.8" />
<text x="821.8" y="1839.3" font-size="19.3" stroke="#000" stroke-width="0.35">0</text>
<line x1="869.0" y1="1814.8" x2="869.0" y2="1822.8" stroke="#000" stroke-width="1.8" />
<text x="858.1" y="1839.3" font-size="19.3" stroke="#000" stroke-width="0.35">20</text>
<line x1="910.8" y1="1814.8" x2="910.8" y2="1822.8" stroke="#000" stroke-width="1.8" />
<text x="900.2" y="1839.3" font-size="19.3" stroke="#000" stroke-width="0.35">40</text>
<line x1="952.6" y1="1814.8" x2="952.6" y2="1822.8" stroke="#000" stroke-width="1.8" />
<text x="941.7" y="1839.3" font-size="19.3" stroke="#000" stroke-width="0.35">60</text>
<line x1="994.3" y1="1814.8" x2="994.3" y2="1822.8" stroke="#000" stroke-width="1.8" />
<text x="983.5" y="1839.3" font-size="19.3" stroke="#000" stroke-width="0.35">80</text>
<line x1="1036.1" y1="1814.8" x2="1036.1" y2="1822.8" stroke="#000" stroke-width="1.8" />
<text x="1019.7" y="1839.3" font-size="19.3" stroke="#000" stroke-width="0.35">100</text>
<line x1="1077.9" y1="1814.8" x2="1077.9" y2="1822.8" stroke="#000" stroke-width="1.8" />
<text x="1061.5" y="1839.3" font-size="19.3" stroke="#000" stroke-width="0.35">120</text>
<line x1="1119.7" y1="1814.8" x2="1119.7" y2="1822.8" stroke="#000" stroke-width="1.8" />
<text x="1103.2" y="1839.3" font-size="19.3" stroke="#000" stroke-width="0.35">140</text>
<text x="844.5" y="1709.0" font-size="26.5" stroke="#000" stroke-width="0.35">Kd N/D</text>
<text x="956.8" y="1867.8" font-size="26.5" stroke="#000" stroke-width="0.35">Time [s]</text>
<text x="893.3" y="1904.2" font-size="26.5" stroke="#000" stroke-width="0.35">ABP1-BA pH 5.5</text>
<polyline points="1204.3,1801.0 1204.3,1774.9" fill="none" stroke="#d2232a" stroke-width="1.6" stroke-linejoin="round" />
<polyline points="1204.9,1779.8 1204.9,1782.2 1211.9,1783.6 1218.8,1784.7 1225.8,1785.7 1232.7,1786.5 1239.7,1787.2 1246.6,1787.8 1253.5,1788.3 1260.5,1788.7 1267.4,1789.1 1274.4,1789.4 1281.3,1789.7 1288.3,1789.9 1295.2,1790.1 1302.2,1790.2 1309.1,1790.4 1316.1,1790.5 1323.0,1790.6 1329.9,1790.7 1336.9,1790.7 1343.8,1790.8 1350.8,1790.8 1357.7,1790.9 1364.7,1790.9 1371.6,1790.9 1378.6,1791.0 1385.5,1791.0 1392.5,1791.0 1399.4,1791.0 1406.3,1791.0 1413.3,1791.0 1420.2,1791.0 1427.2,1791.1 1434.1,1791.1 1441.1,1791.1 1448.0,1791.1 1455.0,1791.1 1461.9,1791.1 1468.9,1791.1 1475.8,1791.1 1482.7,1791.1 1482.7,1794.2 1483.2,1803.2 1484.8,1789.8 1489.0,1792.0 1528.8,1791.1" fill="none" stroke="#d2232a" stroke-width="3" stroke-linejoin="round" />
<polyline points="1204.9,1782.1 1204.9,1784.5 1211.9,1785.5 1218.8,1786.3 1225.8,1787.1 1232.7,1787.7 1239.7,1788.2 1246.6,1788.6 1253.5,1789.0 1260.5,1789.3 1267.4,1789.6 1274.4,1789.8 1281.3,1790.0 1288.3,1790.2 1295.2,1790.3 1302.2,1790.4 1309.1,1790.5 1316.1,1790.6 1323.0,1790.7 1329.9,1790.8 1336.9,1790.8 1343.8,1790.9 1350.8,1790.9 1357.7,1790.9 1364.7,1791.0 1371.6,1791.0 1378.6,1791.0 1385.5,1791.0 1392.5,1791.0 1399.4,1791.0 1406.3,1791.0 1413.3,1791.1 1420.2,1791.1 1427.2,1791.1 1434.1,1791.1 1441.1,1791.1 1448.0,1791.1 1455.0,1791.1 1461.9,1791.1 1468.9,1791.1 1475.8,1791.1 1482.7,1791.1 1482.7,1794.2 1483.2,1803.2 1484.8,1789.8 1489.0,1792.0 1528.8,1791.1" fill="none" stroke="#a01a28" stroke-width="3" stroke-linejoin="round" />
<polyline points="1204.9,1784.3 1204.9,1786.7 1211.9,1787.3 1218.8,1787.9 1225.8,1788.4 1232.7,1788.8 1239.7,1789.2 1246.6,1789.5 1253.5,1789.7 1260.5,1789.9 1267.4,1790.1 1274.4,1790.3 1281.3,1790.4 1288.3,1790.5 1295.2,1790.6 1302.2,1790.7 1309.1,1790.7 1316.1,1790.8 1323.0,1790.8 1329.9,1790.9 1336.9,1790.9 1343.8,1790.9 1350.8,1791.0 1357.7,1791.0 1364.7,1791.0 1371.6,1791.0 1378.6,1791.0 1385.5,1791.0 1392.5,1791.0 1399.4,1791.1 1406.3,1791.1 1413.3,1791.1 1420.2,1791.1 1427.2,1791.1 1434.1,1791.1 1441.1,1791.1 1448.0,1791.1 1455.0,1791.1 1461.9,1791.1 1468.9,1791.1 1475.8,1791.1 1482.7,1791.1 1482.7,1794.2 1483.2,1803.2 1484.8,1789.8 1489.0,1792.0 1528.8,1791.1" fill="none" stroke="#d2232a" stroke-width="3" stroke-linejoin="round" />
<polyline points="1204.9,1786.2 1204.9,1788.4 1211.9,1788.8 1218.8,1789.2 1225.8,1789.5 1232.7,1789.7 1239.7,1789.9 1246.6,1790.1 1253.5,1790.3 1260.5,1790.4 1267.4,1790.5 1274.4,1790.6 1281.3,1790.7 1288.3,1790.7 1295.2,1790.8 1302.2,1790.8 1309.1,1790.9 1316.1,1790.9 1323.0,1790.9 1329.9,1791.0 1336.9,1791.0 1343.8,1791.0 1350.8,1791.0 1357.7,1791.0 1364.7,1791.0 1371.6,1791.1 1378.6,1791.1 1385.5,1791.1 1392.5,1791.1 1399.4,1791.1 1406.3,1791.1 1413.3,1791.1 1420.2,1791.1 1427.2,1791.1 1434.1,1791.1 1441.1,1791.1 1448.0,1791.1 1455.0,1791.1 1461.9,1791.1 1468.9,1791.1 1475.8,1791.1 1482.7,1791.1 1482.7,1794.2 1483.2,1803.2 1484.8,1789.8 1489.0,1789.3 1528.8,1789.8" fill="none" stroke="#e8707a" stroke-width="3" stroke-linejoin="round" />
<polyline points="1204.9,1788.0 1204.9,1790.2 1211.9,1790.3 1218.8,1790.5 1225.8,1790.6 1232.7,1790.6 1239.7,1790.7 1246.6,1790.8 1253.5,1790.8 1260.5,1790.9 1267.4,1790.9 1274.4,1790.9 1281.3,1791.0 1288.3,1791.0 1295.2,1791.0 1302.2,1791.0 1309.1,1791.0 1316.1,1791.0 1323.0,1791.0 1329.9,1791.1 1336.9,1791.1 1343.8,1791.1 1350.8,1791.1 1357.7,1791.1 1364.7,1791.1 1371.6,1791.1 1378.6,1791.1 1385.5,1791.1 1392.5,1791.1 1399.4,1791.1 1406.3,1791.1 1413.3,1791.1 1420.2,1791.1 1427.2,1791.1 1434.1,1791.1 1441.1,1791.1 1448.0,1791.1 1455.0,1791.1 1461.9,1791.1 1468.9,1791.1 1475.8,1791.1 1482.7,1791.1 1482.7,1794.2 1483.2,1803.2 1484.8,1789.8 1489.0,1789.3 1528.8,1789.8" fill="none" stroke="#d2232a" stroke-width="2.5" stroke-linejoin="round" />
<polyline points="1204.9,1789.8 1204.9,1792.0 1211.9,1791.9 1218.8,1791.7 1225.8,1791.6 1232.7,1791.6 1239.7,1791.5 1246.6,1791.4 1253.5,1791.4 1260.5,1791.3 1267.4,1791.3 1274.4,1791.3 1281.3,1791.2 1288.3,1791.2 1295.2,1791.2 1302.2,1791.2 1309.1,1791.2 1316.1,1791.2 1323.0,1791.2 1329.9,1791.1 1336.9,1791.1 1343.8,1791.1 1350.8,1791.1 1357.7,1791.1 1364.7,1791.1 1371.6,1791.1 1378.6,1791.1 1385.5,1791.1 1392.5,1791.1 1399.4,1791.1 1406.3,1791.1 1413.3,1791.1 1420.2,1791.1 1427.2,1791.1 1434.1,1791.1 1441.1,1791.1 1448.0,1791.1 1455.0,1791.1 1461.9,1791.1 1468.9,1791.1 1475.8,1791.1 1482.7,1791.1 1482.7,1794.2 1483.2,1803.2 1484.8,1789.8 1489.0,1789.3 1528.8,1789.8" fill="none" stroke="#a01a28" stroke-width="2.5" stroke-linejoin="round" />
<line x1="1195.5" y1="1610.6" x2="1195.5" y2="1815.8" stroke="#000" stroke-width="2" />
<line x1="1194.5" y1="1814.8" x2="1532.7" y2="1814.8" stroke="#000" stroke-width="2" />
<line x1="1187.5" y1="1616.7" x2="1195.5" y2="1616.7" stroke="#000" stroke-width="1.8" />
<text x="1163.5" y="1622.6" font-size="20.0" stroke="#000" stroke-width="0.35">40</text>
<line x1="1187.5" y1="1656.3" x2="1195.5" y2="1656.3" stroke="#000" stroke-width="1.8" />
<text x="1163.5" y="1662.2" font-size="20.0" stroke="#000" stroke-width="0.35">30</text>
<line x1="1187.5" y1="1701.3" x2="1195.5" y2="1701.3" stroke="#000" stroke-width="1.8" />
<text x="1163.5" y="1707.2" font-size="20.0" stroke="#000" stroke-width="0.35">20</text>
<line x1="1187.5" y1="1747.0" x2="1195.5" y2="1747.0" stroke="#000" stroke-width="1.8" />
<text x="1163.5" y="1752.9" font-size="20.0" stroke="#000" stroke-width="0.35">10</text>
<line x1="1187.5" y1="1792.0" x2="1195.5" y2="1792.0" stroke="#000" stroke-width="1.8" />
<text x="1174.6" y="1797.9" font-size="20.0" stroke="#000" stroke-width="0.35">0</text>
<line x1="1204.3" y1="1814.8" x2="1204.3" y2="1822.8" stroke="#000" stroke-width="1.8" />
<text x="1198.9" y="1839.3" font-size="19.3" stroke="#000" stroke-width="0.35">0</text>
<line x1="1246.2" y1="1814.8" x2="1246.2" y2="1822.8" stroke="#000" stroke-width="1.8" />
<text x="1235.3" y="1839.3" font-size="19.3" stroke="#000" stroke-width="0.35">20</text>
<line x1="1288.0" y1="1814.8" x2="1288.0" y2="1822.8" stroke="#000" stroke-width="1.8" />
<text x="1277.5" y="1839.3" font-size="19.3" stroke="#000" stroke-width="0.35">40</text>
<line x1="1329.9" y1="1814.8" x2="1329.9" y2="1822.8" stroke="#000" stroke-width="1.8" />
<text x="1319.1" y="1839.3" font-size="19.3" stroke="#000" stroke-width="0.35">60</text>
<line x1="1371.8" y1="1814.8" x2="1371.8" y2="1822.8" stroke="#000" stroke-width="1.8" />
<text x="1361.0" y="1839.3" font-size="19.3" stroke="#000" stroke-width="0.35">80</text>
<line x1="1413.7" y1="1814.8" x2="1413.7" y2="1822.8" stroke="#000" stroke-width="1.8" />
<text x="1397.2" y="1839.3" font-size="19.3" stroke="#000" stroke-width="0.35">100</text>
<line x1="1455.5" y1="1814.8" x2="1455.5" y2="1822.8" stroke="#000" stroke-width="1.8" />
<text x="1439.1" y="1839.3" font-size="19.3" stroke="#000" stroke-width="0.35">120</text>
<line x1="1497.4" y1="1814.8" x2="1497.4" y2="1822.8" stroke="#000" stroke-width="1.8" />
<text x="1480.9" y="1839.3" font-size="19.3" stroke="#000" stroke-width="0.35">140</text>
<text x="1224.8" y="1709.0" font-size="26.5" stroke="#000" stroke-width="0.35">Kd N/D</text>
<text x="1333.7" y="1867.8" font-size="26.5" stroke="#000" stroke-width="0.35">Time [s]</text>
<text x="1276.8" y="1904.2" font-size="26.5" stroke="#000" stroke-width="0.35">ABP1-BA pH 7.6</text>
<text x="0.5" y="1967.6" font-size="37.0" stroke="#000" stroke-width="0.35">g</text>
<text x="95.5" y="1973.4" font-size="28.8" stroke="#000" stroke-width="0.35">Kd</text>
<text x="131.3" y="1982.0" font-size="18.0" textLength="56.7" lengthAdjust="spacingAndGlyphs" stroke="#000" stroke-width="0.35">(pH5.5)</text>
<text x="187.4" y="1973.4" font-size="28.8" textLength="205.6" lengthAdjust="spacingAndGlyphs" stroke="#000" stroke-width="0.35">= 21.9 ± 3.3 µM</text>
<text x="97.0" y="2021.4" font-size="28.8" stroke="#000" stroke-width="0.35">Kd</text>
<text x="132.7" y="2030.0" font-size="18.0" textLength="57.8" lengthAdjust="spacingAndGlyphs" stroke="#000" stroke-width="0.35">(pH7.0)</text>
<text x="189.9" y="2021.4" font-size="28.8" textLength="204.4" lengthAdjust="spacingAndGlyphs" stroke="#000" stroke-width="0.35">= 290 ± 795 µM</text>
<text x="98.0" y="2069.4" font-size="28.8" stroke="#000" stroke-width="0.35">Kd</text>
<text x="133.3" y="2078.4" font-size="18.0" textLength="58.3" lengthAdjust="spacingAndGlyphs" stroke="#000" stroke-width="0.35">(pH7.5)</text>
<text x="190.5" y="2069.4" font-size="28.8" textLength="205.0" lengthAdjust="spacingAndGlyphs" stroke="#000" stroke-width="0.35">= 560 ± 350 µM</text>
<line x1="86.0" y1="2164.8" x2="501.4" y2="2164.8" stroke="#000" stroke-width="3.6" stroke-linecap="round" stroke-dasharray="0.01,11.2"/>
<line x1="141.5" y1="2111.7" x2="141.5" y2="2169.5" stroke="#6d6e71" stroke-width="2.4" />
<line x1="133.5" y1="2111.7" x2="149.5" y2="2111.7" stroke="#6d6e71" stroke-width="2.4" />
<line x1="133.5" y1="2169.5" x2="149.5" y2="2169.5" stroke="#6d6e71" stroke-width="2.4" />
<line x1="162.6" y1="2141.3" x2="162.6" y2="2174.2" stroke="#6d6e71" stroke-width="2.4" />
<line x1="154.6" y1="2141.3" x2="170.6" y2="2141.3" stroke="#6d6e71" stroke-width="2.4" />
<line x1="154.6" y1="2174.2" x2="170.6" y2="2174.2" stroke="#6d6e71" stroke-width="2.4" />
<line x1="183.6" y1="2162.5" x2="183.6" y2="2186.9" stroke="#6d6e71" stroke-width="2.4" />
<line x1="175.6" y1="2162.5" x2="191.6" y2="2162.5" stroke="#6d6e71" stroke-width="2.4" />
<line x1="175.6" y1="2186.9" x2="191.6" y2="2186.9" stroke="#6d6e71" stroke-width="2.4" />
<line x1="204.7" y1="2169.5" x2="204.7" y2="2193.0" stroke="#6d6e71" stroke-width="2.4" />
<line x1="196.7" y1="2169.5" x2="212.7" y2="2169.5" stroke="#6d6e71" stroke-width="2.4" />
<line x1="196.7" y1="2193.0" x2="212.7" y2="2193.0" stroke="#6d6e71" stroke-width="2.4" />
<line x1="225.7" y1="2138.5" x2="225.7" y2="2169.5" stroke="#6d6e71" stroke-width="2.4" />
<line x1="217.7" y1="2138.5" x2="233.7" y2="2138.5" stroke="#6d6e71" stroke-width="2.4" />
<line x1="217.7" y1="2169.5" x2="233.7" y2="2169.5" stroke="#6d6e71" stroke-width="2.4" />
<line x1="246.8" y1="2143.2" x2="246.8" y2="2167.2" stroke="#6d6e71" stroke-width="2.4" />
<line x1="238.8" y1="2143.2" x2="254.8" y2="2143.2" stroke="#6d6e71" stroke-width="2.4" />
<line x1="238.8" y1="2167.2" x2="254.8" y2="2167.2" stroke="#6d6e71" stroke-width="2.4" />
<line x1="267.9" y1="2155.4" x2="267.9" y2="2183.6" stroke="#6d6e71" stroke-width="2.4" />
<line x1="259.9" y1="2155.4" x2="275.9" y2="2155.4" stroke="#6d6e71" stroke-width="2.4" />
<line x1="259.9" y1="2183.6" x2="275.9" y2="2183.6" stroke="#6d6e71" stroke-width="2.4" />
<line x1="288.9" y1="2167.2" x2="288.9" y2="2190.7" stroke="#6d6e71" stroke-width="2.4" />
<line x1="280.9" y1="2167.2" x2="296.9" y2="2167.2" stroke="#6d6e71" stroke-width="2.4" />
<line x1="280.9" y1="2190.7" x2="296.9" y2="2190.7" stroke="#6d6e71" stroke-width="2.4" />
<line x1="310.0" y1="2171.9" x2="310.0" y2="2191.1" stroke="#6d6e71" stroke-width="2.4" />
<line x1="302.0" y1="2171.9" x2="318.0" y2="2171.9" stroke="#6d6e71" stroke-width="2.4" />
<line x1="302.0" y1="2191.1" x2="318.0" y2="2191.1" stroke="#6d6e71" stroke-width="2.4" />
<line x1="331.0" y1="2171.9" x2="331.0" y2="2198.2" stroke="#6d6e71" stroke-width="2.4" />
<line x1="323.0" y1="2171.9" x2="339.0" y2="2171.9" stroke="#6d6e71" stroke-width="2.4" />
<line x1="323.0" y1="2198.2" x2="339.0" y2="2198.2" stroke="#6d6e71" stroke-width="2.4" />
<line x1="352.1" y1="2186.4" x2="352.1" y2="2211.3" stroke="#6d6e71" stroke-width="2.4" />
<line x1="344.1" y1="2186.4" x2="360.1" y2="2186.4" stroke="#6d6e71" stroke-width="2.4" />
<line x1="344.1" y1="2211.3" x2="360.1" y2="2211.3" stroke="#6d6e71" stroke-width="2.4" />
<line x1="373.2" y1="2201.9" x2="373.2" y2="2252.2" stroke="#6d6e71" stroke-width="2.4" />
<line x1="365.2" y1="2201.9" x2="381.2" y2="2201.9" stroke="#6d6e71" stroke-width="2.4" />
<line x1="365.2" y1="2252.2" x2="381.2" y2="2252.2" stroke="#6d6e71" stroke-width="2.4" />
<line x1="394.2" y1="2212.7" x2="394.2" y2="2242.8" stroke="#6d6e71" stroke-width="2.4" />
<line x1="386.2" y1="2212.7" x2="402.2" y2="2212.7" stroke="#6d6e71" stroke-width="2.4" />
<line x1="386.2" y1="2242.8" x2="402.2" y2="2242.8" stroke="#6d6e71" stroke-width="2.4" />
<line x1="415.3" y1="2267.7" x2="415.3" y2="2311.9" stroke="#6d6e71" stroke-width="2.4" />
<line x1="407.3" y1="2267.7" x2="423.3" y2="2267.7" stroke="#6d6e71" stroke-width="2.4" />
<line x1="407.3" y1="2311.9" x2="423.3" y2="2311.9" stroke="#6d6e71" stroke-width="2.4" />
<line x1="436.3" y1="2287.0" x2="436.3" y2="2326.5" stroke="#6d6e71" stroke-width="2.4" />
<line x1="428.3" y1="2287.0" x2="444.3" y2="2287.0" stroke="#6d6e71" stroke-width="2.4" />
<line x1="428.3" y1="2326.5" x2="444.3" y2="2326.5" stroke="#6d6e71" stroke-width="2.4" />
<line x1="457.4" y1="2296.4" x2="457.4" y2="2374.4" stroke="#6d6e71" stroke-width="2.4" />
<line x1="449.4" y1="2296.4" x2="465.4" y2="2296.4" stroke="#6d6e71" stroke-width="2.4" />
<line x1="449.4" y1="2374.4" x2="465.4" y2="2374.4" stroke="#6d6e71" stroke-width="2.4" />
<line x1="141.5" y1="2143.7" x2="141.5" y2="2171.9" stroke="#000" stroke-width="2.4" />
<line x1="133.5" y1="2143.7" x2="149.5" y2="2143.7" stroke="#000" stroke-width="2.4" />
<line x1="133.5" y1="2171.9" x2="149.5" y2="2171.9" stroke="#000" stroke-width="2.4" />
<line x1="162.6" y1="2117.3" x2="162.6" y2="2142.2" stroke="#000" stroke-width="2.4" />
<line x1="154.6" y1="2117.3" x2="170.6" y2="2117.3" stroke="#000" stroke-width="2.4" />
<line x1="154.6" y1="2142.2" x2="170.6" y2="2142.2" stroke="#000" stroke-width="2.4" />
<line x1="183.6" y1="2153.1" x2="183.6" y2="2174.2" stroke="#000" stroke-width="2.4" />
<line x1="175.6" y1="2153.1" x2="191.6" y2="2153.1" stroke="#000" stroke-width="2.4" />
<line x1="175.6" y1="2174.2" x2="191.6" y2="2174.2" stroke="#000" stroke-width="2.4" />
<line x1="204.7" y1="2169.5" x2="204.7" y2="2193.9" stroke="#000" stroke-width="2.4" />
<line x1="196.7" y1="2169.5" x2="212.7" y2="2169.5" stroke="#000" stroke-width="2.4" />
<line x1="196.7" y1="2193.9" x2="212.7" y2="2193.9" stroke="#000" stroke-width="2.4" />
<line x1="225.7" y1="2145.1" x2="225.7" y2="2186.0" stroke="#000" stroke-width="2.4" />
<line x1="217.7" y1="2145.1" x2="233.7" y2="2145.1" stroke="#000" stroke-width="2.4" />
<line x1="217.7" y1="2186.0" x2="233.7" y2="2186.0" stroke="#000" stroke-width="2.4" />
<line x1="246.8" y1="2160.1" x2="246.8" y2="2178.9" stroke="#000" stroke-width="2.4" />
<line x1="238.8" y1="2160.1" x2="254.8" y2="2160.1" stroke="#000" stroke-width="2.4" />
<line x1="238.8" y1="2178.9" x2="254.8" y2="2178.9" stroke="#000" stroke-width="2.4" />
<line x1="267.9" y1="2171.9" x2="267.9" y2="2193.0" stroke="#000" stroke-width="2.4" />
<line x1="259.9" y1="2171.9" x2="275.9" y2="2171.9" stroke="#000" stroke-width="2.4" />
<line x1="259.9" y1="2193.0" x2="275.9" y2="2193.0" stroke="#000" stroke-width="2.4" />
<line x1="288.9" y1="2147.4" x2="288.9" y2="2171.9" stroke="#000" stroke-width="2.4" />
<line x1="280.9" y1="2147.4" x2="296.9" y2="2147.4" stroke="#000" stroke-width="2.4" />
<line x1="280.9" y1="2171.9" x2="296.9" y2="2171.9" stroke="#000" stroke-width="2.4" />
<line x1="310.0" y1="2166.7" x2="310.0" y2="2183.6" stroke="#000" stroke-width="2.4" />
<line x1="302.0" y1="2166.7" x2="318.0" y2="2166.7" stroke="#000" stroke-width="2.4" />
<line x1="302.0" y1="2183.6" x2="318.0" y2="2183.6" stroke="#000" stroke-width="2.4" />
<line x1="331.0" y1="2160.1" x2="331.0" y2="2181.2" stroke="#000" stroke-width="2.4" />
<line x1="323.0" y1="2160.1" x2="339.0" y2="2160.1" stroke="#000" stroke-width="2.4" />
<line x1="323.0" y1="2181.2" x2="339.0" y2="2181.2" stroke="#000" stroke-width="2.4" />
<line x1="352.1" y1="2183.6" x2="352.1" y2="2207.1" stroke="#000" stroke-width="2.4" />
<line x1="344.1" y1="2183.6" x2="360.1" y2="2183.6" stroke="#000" stroke-width="2.4" />
<line x1="344.1" y1="2207.1" x2="360.1" y2="2207.1" stroke="#000" stroke-width="2.4" />
<line x1="373.2" y1="2171.4" x2="373.2" y2="2200.5" stroke="#000" stroke-width="2.4" />
<line x1="365.2" y1="2171.4" x2="381.2" y2="2171.4" stroke="#000" stroke-width="2.4" />
<line x1="365.2" y1="2200.5" x2="381.2" y2="2200.5" stroke="#000" stroke-width="2.4" />
<line x1="394.2" y1="2186.0" x2="394.2" y2="2211.8" stroke="#000" stroke-width="2.4" />
<line x1="386.2" y1="2186.0" x2="402.2" y2="2186.0" stroke="#000" stroke-width="2.4" />
<line x1="386.2" y1="2211.8" x2="402.2" y2="2211.8" stroke="#000" stroke-width="2.4" />
<line x1="415.3" y1="2202.4" x2="415.3" y2="2223.6" stroke="#000" stroke-width="2.4" />
<line x1="407.3" y1="2202.4" x2="423.3" y2="2202.4" stroke="#000" stroke-width="2.4" />
<line x1="407.3" y1="2223.6" x2="423.3" y2="2223.6" stroke="#000" stroke-width="2.4" />
<line x1="436.3" y1="2235.3" x2="436.3" y2="2257.9" stroke="#000" stroke-width="2.4" />
<line x1="428.3" y1="2235.3" x2="444.3" y2="2235.3" stroke="#000" stroke-width="2.4" />
<line x1="428.3" y1="2257.9" x2="444.3" y2="2257.9" stroke="#000" stroke-width="2.4" />
<line x1="457.4" y1="2249.4" x2="457.4" y2="2272.0" stroke="#000" stroke-width="2.4" />
<line x1="449.4" y1="2249.4" x2="465.4" y2="2249.4" stroke="#000" stroke-width="2.4" />
<line x1="449.4" y1="2272.0" x2="465.4" y2="2272.0" stroke="#000" stroke-width="2.4" />
<line x1="141.5" y1="2146.0" x2="141.5" y2="2197.2" stroke="#1b75bc" stroke-width="2.4" />
<line x1="133.5" y1="2146.0" x2="149.5" y2="2146.0" stroke="#1b75bc" stroke-width="2.4" />
<line x1="133.5" y1="2197.2" x2="149.5" y2="2197.2" stroke="#1b75bc" stroke-width="2.4" />
<line x1="162.6" y1="2141.3" x2="162.6" y2="2190.7" stroke="#1b75bc" stroke-width="2.4" />
<line x1="154.6" y1="2141.3" x2="170.6" y2="2141.3" stroke="#1b75bc" stroke-width="2.4" />
<line x1="154.6" y1="2190.7" x2="170.6" y2="2190.7" stroke="#1b75bc" stroke-width="2.4" />
<line x1="183.6" y1="2136.6" x2="183.6" y2="2174.2" stroke="#1b75bc" stroke-width="2.4" />
<line x1="175.6" y1="2136.6" x2="191.6" y2="2136.6" stroke="#1b75bc" stroke-width="2.4" />
<line x1="175.6" y1="2174.2" x2="191.6" y2="2174.2" stroke="#1b75bc" stroke-width="2.4" />
<line x1="204.7" y1="2137.1" x2="204.7" y2="2202.4" stroke="#1b75bc" stroke-width="2.4" />
<line x1="196.7" y1="2137.1" x2="212.7" y2="2137.1" stroke="#1b75bc" stroke-width="2.4" />
<line x1="196.7" y1="2202.4" x2="212.7" y2="2202.4" stroke="#1b75bc" stroke-width="2.4" />
<line x1="225.7" y1="2138.5" x2="225.7" y2="2193.0" stroke="#1b75bc" stroke-width="2.4" />
<line x1="217.7" y1="2138.5" x2="233.7" y2="2138.5" stroke="#1b75bc" stroke-width="2.4" />
<line x1="217.7" y1="2193.0" x2="233.7" y2="2193.0" stroke="#1b75bc" stroke-width="2.4" />
<line x1="246.8" y1="2157.8" x2="246.8" y2="2198.2" stroke="#1b75bc" stroke-width="2.4" />
<line x1="238.8" y1="2157.8" x2="254.8" y2="2157.8" stroke="#1b75bc" stroke-width="2.4" />
<line x1="238.8" y1="2198.2" x2="254.8" y2="2198.2" stroke="#1b75bc" stroke-width="2.4" />
<line x1="267.9" y1="2169.5" x2="267.9" y2="2216.5" stroke="#1b75bc" stroke-width="2.4" />
<line x1="259.9" y1="2169.5" x2="275.9" y2="2169.5" stroke="#1b75bc" stroke-width="2.4" />
<line x1="259.9" y1="2216.5" x2="275.9" y2="2216.5" stroke="#1b75bc" stroke-width="2.4" />
<line x1="288.9" y1="2171.9" x2="288.9" y2="2217.4" stroke="#1b75bc" stroke-width="2.4" />
<line x1="280.9" y1="2171.9" x2="296.9" y2="2171.9" stroke="#1b75bc" stroke-width="2.4" />
<line x1="280.9" y1="2217.4" x2="296.9" y2="2217.4" stroke="#1b75bc" stroke-width="2.4" />
<line x1="310.0" y1="2201.9" x2="310.0" y2="2232.0" stroke="#1b75bc" stroke-width="2.4" />
<line x1="302.0" y1="2201.9" x2="318.0" y2="2201.9" stroke="#1b75bc" stroke-width="2.4" />
<line x1="302.0" y1="2232.0" x2="318.0" y2="2232.0" stroke="#1b75bc" stroke-width="2.4" />
<line x1="331.0" y1="2222.1" x2="331.0" y2="2252.2" stroke="#1b75bc" stroke-width="2.4" />
<line x1="323.0" y1="2222.1" x2="339.0" y2="2222.1" stroke="#1b75bc" stroke-width="2.4" />
<line x1="323.0" y1="2252.2" x2="339.0" y2="2252.2" stroke="#1b75bc" stroke-width="2.4" />
<line x1="352.1" y1="2242.8" x2="352.1" y2="2266.3" stroke="#1b75bc" stroke-width="2.4" />
<line x1="344.1" y1="2242.8" x2="360.1" y2="2242.8" stroke="#1b75bc" stroke-width="2.4" />
<line x1="344.1" y1="2266.3" x2="360.1" y2="2266.3" stroke="#1b75bc" stroke-width="2.4" />
<line x1="373.2" y1="2241.4" x2="373.2" y2="2287.0" stroke="#1b75bc" stroke-width="2.4" />
<line x1="365.2" y1="2241.4" x2="381.2" y2="2241.4" stroke="#1b75bc" stroke-width="2.4" />
<line x1="365.2" y1="2287.0" x2="381.2" y2="2287.0" stroke="#1b75bc" stroke-width="2.4" />
<line x1="394.2" y1="2251.3" x2="394.2" y2="2305.8" stroke="#1b75bc" stroke-width="2.4" />
<line x1="386.2" y1="2251.3" x2="402.2" y2="2251.3" stroke="#1b75bc" stroke-width="2.4" />
<line x1="386.2" y1="2305.8" x2="402.2" y2="2305.8" stroke="#1b75bc" stroke-width="2.4" />
<line x1="415.3" y1="2255.5" x2="415.3" y2="2337.3" stroke="#1b75bc" stroke-width="2.4" />
<line x1="407.3" y1="2255.5" x2="423.3" y2="2255.5" stroke="#1b75bc" stroke-width="2.4" />
<line x1="407.3" y1="2337.3" x2="423.3" y2="2337.3" stroke="#1b75bc" stroke-width="2.4" />
<line x1="436.3" y1="2245.2" x2="436.3" y2="2319.9" stroke="#1b75bc" stroke-width="2.4" />
<line x1="428.3" y1="2245.2" x2="444.3" y2="2245.2" stroke="#1b75bc" stroke-width="2.4" />
<line x1="428.3" y1="2319.9" x2="444.3" y2="2319.9" stroke="#1b75bc" stroke-width="2.4" />
<line x1="457.4" y1="2239.1" x2="457.4" y2="2319.9" stroke="#1b75bc" stroke-width="2.4" />
<line x1="449.4" y1="2239.1" x2="465.4" y2="2239.1" stroke="#1b75bc" stroke-width="2.4" />
<line x1="449.4" y1="2319.9" x2="465.4" y2="2319.9" stroke="#1b75bc" stroke-width="2.4" />
<polyline points="141.2,2165.1 145.1,2165.2 149.1,2165.2 153.1,2165.3 157.0,2165.4 161.0,2165.4 165.0,2165.5 168.9,2165.6 172.9,2165.7 176.9,2165.9 180.8,2166.0 184.8,2166.2 188.8,2166.4 192.7,2166.6 196.7,2166.8 200.7,2167.1 204.6,2167.4 208.6,2167.8 212.5,2168.2 216.5,2168.6 220.5,2169.2 224.4,2169.7 228.4,2170.4 232.4,2171.1 236.3,2172.0 240.3,2172.9 244.3,2173.9 248.2,2175.1 252.2,2176.4 256.2,2177.9 260.1,2179.5 264.1,2181.2 268.1,2183.2 272.0,2185.3 276.0,2187.6 280.0,2190.2 283.9,2192.9 287.9,2195.8 291.9,2198.9 295.8,2202.3 299.8,2205.7 303.8,2209.4 307.7,2213.2 311.7,2217.1 315.7,2221.1 319.6,2225.1 323.6,2229.2 327.6,2233.2 331.5,2237.2 335.5,2241.1 339.5,2244.8 343.4,2248.5 347.4,2252.0 351.4,2255.3 355.3,2258.4 359.3,2261.3 363.3,2264.1 367.2,2266.6 371.2,2268.9 375.2,2271.0 379.1,2273.0 383.1,2274.7 387.1,2276.3 391.0,2277.8 395.0,2279.1 399.0,2280.2 402.9,2281.3 406.9,2282.2 410.9,2283.0 414.8,2283.8 418.8,2284.4 422.8,2285.0 426.7,2285.5 430.7,2286.0 434.7,2286.4 438.6,2286.7 442.6,2287.0 446.6,2287.3 450.5,2287.6 454.5,2287.8 458.5,2288.0" fill="none" stroke="#000" stroke-width="1.6" stroke-linejoin="round" />
<polyline points="141.2,2164.8 145.1,2164.8 149.1,2164.8 153.1,2164.8 157.0,2164.8 161.0,2164.8 165.0,2164.8 168.9,2164.8 172.9,2164.8 176.9,2164.8 180.8,2164.8 184.8,2164.8 188.8,2164.8 192.7,2164.8 196.7,2164.8 200.7,2164.8 204.6,2164.8 208.6,2164.8 212.5,2164.8 216.5,2164.8 220.5,2164.9 224.4,2164.9 228.4,2164.9 232.4,2164.9 236.3,2164.9 240.3,2165.0 244.3,2165.0 248.2,2165.0 252.2,2165.1 256.2,2165.1 260.1,2165.2 264.1,2165.3 268.1,2165.4 272.0,2165.5 276.0,2165.7 280.0,2165.9 283.9,2166.1 287.9,2166.4 291.9,2166.7 295.8,2167.2 299.8,2167.7 303.8,2168.3 307.7,2169.0 311.7,2169.9 315.7,2170.9 319.6,2172.2 323.6,2173.7 327.6,2175.4 331.5,2177.5 335.5,2180.0 339.5,2182.9 343.4,2186.3 347.4,2190.2 351.4,2194.7 355.3,2199.7 359.3,2205.3 363.3,2211.5 367.2,2218.2 371.2,2225.4 375.2,2232.9 379.1,2240.6 383.1,2248.4 387.1,2256.1 391.0,2263.6 395.0,2270.8 399.0,2277.5 402.9,2283.7 406.9,2289.4 410.9,2294.4 414.8,2298.9 418.8,2302.8 422.8,2306.3 426.7,2309.2 430.7,2311.7 434.7,2313.8 438.6,2315.6 442.6,2317.2 446.6,2318.4 450.5,2319.5 454.5,2320.4 458.5,2321.1" fill="none" stroke="#000" stroke-width="1.6" stroke-linejoin="round" />
<polyline points="141.2,2164.8 145.1,2164.8 149.1,2164.8 153.1,2164.8 157.0,2164.8 161.0,2164.8 165.0,2164.8 168.9,2164.8 172.9,2164.8 176.9,2164.8 180.8,2164.8 184.8,2164.8 188.8,2164.8 192.7,2164.8 196.7,2164.8 200.7,2164.8 204.6,2164.8 208.6,2164.8 212.5,2164.8 216.5,2164.8 220.5,2164.8 224.4,2164.9 228.4,2164.9 232.4,2164.9 236.3,2164.9 240.3,2164.9 244.3,2164.9 248.2,2165.0 252.2,2165.0 256.2,2165.0 260.1,2165.1 264.1,2165.1 268.1,2165.2 272.0,2165.2 276.0,2165.3 280.0,2165.4 283.9,2165.5 287.9,2165.6 291.9,2165.8 295.8,2165.9 299.8,2166.2 303.8,2166.4 307.7,2166.7 311.7,2167.0 315.7,2167.4 319.6,2167.9 323.6,2168.4 327.6,2169.1 331.5,2169.8 335.5,2170.7 339.5,2171.7 343.4,2172.9 347.4,2174.3 351.4,2175.9 355.3,2177.7 359.3,2179.7 363.3,2182.0 367.2,2184.6 371.2,2187.5 375.2,2190.7 379.1,2194.1 383.1,2197.9 387.1,2201.9 391.0,2206.1 395.0,2210.5 399.0,2215.0 402.9,2219.6 406.9,2224.1 410.9,2228.6 414.8,2233.0 418.8,2237.1 422.8,2241.0 426.7,2244.7 430.7,2248.1 434.7,2251.2 438.6,2254.0 442.6,2256.5 446.6,2258.7 450.5,2260.6 454.5,2262.4 458.5,2263.9" fill="none" stroke="#000" stroke-width="1.6" stroke-linejoin="round" />
<circle cx="141.5" cy="2143.2" r="6.5" fill="#fff" stroke="#6d6e71" stroke-width="2.4" />
<circle cx="162.6" cy="2157.8" r="6.5" fill="#fff" stroke="#6d6e71" stroke-width="2.4" />
<circle cx="183.6" cy="2177.0" r="6.5" fill="#fff" stroke="#6d6e71" stroke-width="2.4" />
<circle cx="204.7" cy="2181.2" r="6.5" fill="#fff" stroke="#6d6e71" stroke-width="2.4" />
<circle cx="225.7" cy="2155.9" r="6.5" fill="#fff" stroke="#6d6e71" stroke-width="2.4" />
<circle cx="246.8" cy="2154.9" r="6.5" fill="#fff" stroke="#6d6e71" stroke-width="2.4" />
<circle cx="267.9" cy="2170.9" r="6.5" fill="#fff" stroke="#6d6e71" stroke-width="2.4" />
<circle cx="288.9" cy="2179.4" r="6.5" fill="#fff" stroke="#6d6e71" stroke-width="2.4" />
<circle cx="310.0" cy="2182.7" r="6.5" fill="#fff" stroke="#6d6e71" stroke-width="2.4" />
<circle cx="331.0" cy="2185.0" r="6.5" fill="#fff" stroke="#6d6e71" stroke-width="2.4" />
<circle cx="352.1" cy="2198.2" r="6.5" fill="#fff" stroke="#6d6e71" stroke-width="2.4" />
<circle cx="373.2" cy="2227.3" r="6.5" fill="#fff" stroke="#6d6e71" stroke-width="2.4" />
<circle cx="394.2" cy="2228.7" r="6.5" fill="#fff" stroke="#6d6e71" stroke-width="2.4" />
<circle cx="415.3" cy="2289.4" r="6.5" fill="#fff" stroke="#6d6e71" stroke-width="2.4" />
<circle cx="436.3" cy="2307.2" r="6.5" fill="#fff" stroke="#6d6e71" stroke-width="2.4" />
<circle cx="457.4" cy="2318.5" r="6.5" fill="#fff" stroke="#6d6e71" stroke-width="2.4" />
<circle cx="141.5" cy="2157.8" r="7.5" fill="#000" stroke="none" stroke-width="1" />
<circle cx="162.6" cy="2129.6" r="7.5" fill="#000" stroke="none" stroke-width="1" />
<circle cx="183.6" cy="2164.8" r="7.5" fill="#000" stroke="none" stroke-width="1" />
<circle cx="204.7" cy="2181.7" r="7.5" fill="#000" stroke="none" stroke-width="1" />
<circle cx="225.7" cy="2164.8" r="7.5" fill="#000" stroke="none" stroke-width="1" />
<circle cx="246.8" cy="2169.5" r="7.5" fill="#000" stroke="none" stroke-width="1" />
<circle cx="267.9" cy="2182.7" r="7.5" fill="#000" stroke="none" stroke-width="1" />
<circle cx="288.9" cy="2161.0" r="7.5" fill="#000" stroke="none" stroke-width="1" />
<circle cx="310.0" cy="2174.2" r="7.5" fill="#000" stroke="none" stroke-width="1" />
<circle cx="331.0" cy="2170.9" r="7.5" fill="#000" stroke="none" stroke-width="1" />
<circle cx="352.1" cy="2194.9" r="7.5" fill="#000" stroke="none" stroke-width="1" />
<circle cx="373.2" cy="2186.0" r="7.5" fill="#000" stroke="none" stroke-width="1" />
<circle cx="394.2" cy="2197.7" r="7.5" fill="#000" stroke="none" stroke-width="1" />
<circle cx="415.3" cy="2212.7" r="7.5" fill="#000" stroke="none" stroke-width="1" />
<circle cx="436.3" cy="2245.2" r="7.5" fill="#000" stroke="none" stroke-width="1" />
<circle cx="457.4" cy="2256.0" r="7.5" fill="#000" stroke="none" stroke-width="1" />
<circle cx="141.5" cy="2171.9" r="7.5" fill="#1b75bc" stroke="none" stroke-width="1" />
<circle cx="162.6" cy="2164.8" r="7.5" fill="#1b75bc" stroke="none" stroke-width="1" />
<circle cx="183.6" cy="2158.2" r="7.5" fill="#1b75bc" stroke="none" stroke-width="1" />
<circle cx="204.7" cy="2170.9" r="7.5" fill="#1b75bc" stroke="none" stroke-width="1" />
<circle cx="225.7" cy="2166.2" r="7.5" fill="#1b75bc" stroke="none" stroke-width="1" />
<circle cx="246.8" cy="2178.0" r="7.5" fill="#1b75bc" stroke="none" stroke-width="1" />
<circle cx="267.9" cy="2192.5" r="7.5" fill="#1b75bc" stroke="none" stroke-width="1" />
<circle cx="288.9" cy="2193.0" r="7.5" fill="#1b75bc" stroke="none" stroke-width="1" />
<circle cx="310.0" cy="2217.0" r="7.5" fill="#1b75bc" stroke="none" stroke-width="1" />
<circle cx="331.0" cy="2237.2" r="7.5" fill="#1b75bc" stroke="none" stroke-width="1" />
<circle cx="352.1" cy="2254.1" r="7.5" fill="#1b75bc" stroke="none" stroke-width="1" />
<circle cx="373.2" cy="2264.0" r="7.5" fill="#1b75bc" stroke="none" stroke-width="1" />
<circle cx="394.2" cy="2279.0" r="7.5" fill="#1b75bc" stroke="none" stroke-width="1" />
<circle cx="415.3" cy="2295.5" r="7.5" fill="#1b75bc" stroke="none" stroke-width="1" />
<circle cx="436.3" cy="2283.2" r="7.5" fill="#1b75bc" stroke="none" stroke-width="1" />
<circle cx="457.4" cy="2278.5" r="7.5" fill="#1b75bc" stroke="none" stroke-width="1" />
<line x1="82.0" y1="2071.0" x2="82.0" y2="2448.2" stroke="#000" stroke-width="2" />
<line x1="81.0" y1="2447.2" x2="506.6" y2="2447.2" stroke="#000" stroke-width="2" />
<line x1="75.5" y1="2070.8" x2="82.0" y2="2070.8" stroke="#000" stroke-width="1.8" />
<text x="55.9" y="2080.1" font-size="26.0" stroke="#000" stroke-width="0.35">2</text>
<line x1="75.5" y1="2164.8" x2="82.0" y2="2164.8" stroke="#000" stroke-width="1.8" />
<text x="55.5" y="2174.1" font-size="26.0" stroke="#000" stroke-width="0.35">0</text>
<line x1="75.5" y1="2258.8" x2="82.0" y2="2258.8" stroke="#000" stroke-width="1.8" />
<text x="47.2" y="2268.1" font-size="26.0" stroke="#000" stroke-width="0.35">-2</text>
<line x1="75.5" y1="2352.8" x2="82.0" y2="2352.8" stroke="#000" stroke-width="1.8" />
<text x="46.6" y="2362.1" font-size="26.0" stroke="#000" stroke-width="0.35">-4</text>
<line x1="75.5" y1="2446.8" x2="82.0" y2="2446.8" stroke="#000" stroke-width="1.8" />
<text x="46.9" y="2456.1" font-size="26.0" stroke="#000" stroke-width="0.35">-6</text>
<line x1="156.6" y1="2447.2" x2="156.6" y2="2454.2" stroke="#000" stroke-width="1.8" />
<text x="149.4" y="2476.6" font-size="26.0" stroke="#000" stroke-width="0.35">2</text>
<line x1="297.0" y1="2447.2" x2="297.0" y2="2454.2" stroke="#000" stroke-width="1.8" />
<text x="289.9" y="2476.6" font-size="26.0" stroke="#000" stroke-width="0.35">4</text>
<line x1="437.4" y1="2447.2" x2="437.4" y2="2454.2" stroke="#000" stroke-width="1.8" />
<text x="430.1" y="2476.6" font-size="26.0" stroke="#000" stroke-width="0.35">6</text>
<text x="34.5" y="2332.7" font-size="28.0" textLength="156.7" lengthAdjust="spacingAndGlyphs" transform="rotate(-90 34.5 2332.7)" stroke="#000" stroke-width="0.35">ΔFnorm [‰]</text>
<text x="141.6" y="2507.7" font-size="29.6" stroke="#000" stroke-width="0.35">log(conc IAA[nM])</text>
<circle cx="111.8" cy="2332.3" r="8.0" fill="#1b75bc" stroke="none" stroke-width="1" />
<circle cx="111.8" cy="2375.4" r="7.0" fill="#fff" stroke="#6d6e71" stroke-width="2.2" />
<circle cx="111.8" cy="2419.0" r="7.5" fill="#000" stroke="none" stroke-width="1" />
<text x="127.1" y="2341.9" font-size="33.0" textLength="104.6" lengthAdjust="spacingAndGlyphs" stroke="#000" stroke-width="0.35">pH 5.5</text>
<text x="127.1" y="2386.0" font-size="33.0" textLength="104.4" lengthAdjust="spacingAndGlyphs" stroke="#000" stroke-width="0.35">pH 7.0</text>
<text x="127.1" y="2428.1" font-size="33.0" textLength="104.6" lengthAdjust="spacingAndGlyphs" stroke="#000" stroke-width="0.35">pH 7.5</text>
<text x="514.6" y="1968.1" font-size="37.0" stroke="#000" stroke-width="0.35">h</text>
<text x="603.2" y="1973.4" font-size="28.8" stroke="#000" stroke-width="0.35">Kd</text>
<text x="638.9" y="1982.0" font-size="18.0" stroke="#000" stroke-width="0.35">(IAA)</text>
<text x="679.0" y="1973.4" font-size="28.8" textLength="229.7" lengthAdjust="spacingAndGlyphs" stroke="#000" stroke-width="0.35">= 286.6 ± 795 µM</text>
<text x="604.9" y="2021.4" font-size="28.8" stroke="#000" stroke-width="0.35">Kd</text>
<text x="640.7" y="2030.0" font-size="18.0" stroke="#000" stroke-width="0.35">(L-Trp)</text>
<text x="693.5" y="2021.4" font-size="28.8" textLength="237.7" lengthAdjust="spacingAndGlyphs" stroke="#000" stroke-width="0.35">= 45.4 ± 395.9 µM</text>
<line x1="594.6" y1="2161.4" x2="1004.8" y2="2161.4" stroke="#000" stroke-width="3.6" stroke-linecap="round" stroke-dasharray="0.01,11.2"/>
<text x="730.5" y="2086.0" font-size="28.0" textLength="88.0" lengthAdjust="spacingAndGlyphs" stroke="#000" stroke-width="0.35">pH 7.0</text>
<line x1="650.8" y1="2123.5" x2="650.8" y2="2170.9" stroke="#000" stroke-width="2.4" />
<line x1="642.8" y1="2123.5" x2="658.8" y2="2123.5" stroke="#000" stroke-width="2.4" />
<line x1="642.8" y1="2170.9" x2="658.8" y2="2170.9" stroke="#000" stroke-width="2.4" />
<line x1="672.0" y1="2149.6" x2="672.0" y2="2170.9" stroke="#000" stroke-width="2.4" />
<line x1="664.0" y1="2149.6" x2="680.0" y2="2149.6" stroke="#000" stroke-width="2.4" />
<line x1="664.0" y1="2170.9" x2="680.0" y2="2170.9" stroke="#000" stroke-width="2.4" />
<line x1="693.3" y1="2151.9" x2="693.3" y2="2168.5" stroke="#000" stroke-width="2.4" />
<line x1="685.3" y1="2151.9" x2="701.3" y2="2151.9" stroke="#000" stroke-width="2.4" />
<line x1="685.3" y1="2168.5" x2="701.3" y2="2168.5" stroke="#000" stroke-width="2.4" />
<line x1="714.6" y1="2149.6" x2="714.6" y2="2175.6" stroke="#000" stroke-width="2.4" />
<line x1="706.6" y1="2149.6" x2="722.6" y2="2149.6" stroke="#000" stroke-width="2.4" />
<line x1="706.6" y1="2175.6" x2="722.6" y2="2175.6" stroke="#000" stroke-width="2.4" />
<line x1="735.8" y1="2135.3" x2="735.8" y2="2201.7" stroke="#000" stroke-width="2.4" />
<line x1="727.8" y1="2135.3" x2="743.8" y2="2135.3" stroke="#000" stroke-width="2.4" />
<line x1="727.8" y1="2201.7" x2="743.8" y2="2201.7" stroke="#000" stroke-width="2.4" />
<line x1="757.1" y1="2161.4" x2="757.1" y2="2189.8" stroke="#000" stroke-width="2.4" />
<line x1="749.1" y1="2161.4" x2="765.1" y2="2161.4" stroke="#000" stroke-width="2.4" />
<line x1="749.1" y1="2189.8" x2="765.1" y2="2189.8" stroke="#000" stroke-width="2.4" />
<line x1="778.4" y1="2147.2" x2="778.4" y2="2175.6" stroke="#000" stroke-width="2.4" />
<line x1="770.4" y1="2147.2" x2="786.4" y2="2147.2" stroke="#000" stroke-width="2.4" />
<line x1="770.4" y1="2175.6" x2="786.4" y2="2175.6" stroke="#000" stroke-width="2.4" />
<line x1="799.6" y1="2166.1" x2="799.6" y2="2192.2" stroke="#000" stroke-width="2.4" />
<line x1="791.6" y1="2166.1" x2="807.6" y2="2166.1" stroke="#000" stroke-width="2.4" />
<line x1="791.6" y1="2192.2" x2="807.6" y2="2192.2" stroke="#000" stroke-width="2.4" />
<line x1="820.9" y1="2163.8" x2="820.9" y2="2189.8" stroke="#000" stroke-width="2.4" />
<line x1="812.9" y1="2163.8" x2="828.9" y2="2163.8" stroke="#000" stroke-width="2.4" />
<line x1="812.9" y1="2189.8" x2="828.9" y2="2189.8" stroke="#000" stroke-width="2.4" />
<line x1="842.2" y1="2159.0" x2="842.2" y2="2185.1" stroke="#000" stroke-width="2.4" />
<line x1="834.2" y1="2159.0" x2="850.2" y2="2159.0" stroke="#000" stroke-width="2.4" />
<line x1="834.2" y1="2185.1" x2="850.2" y2="2185.1" stroke="#000" stroke-width="2.4" />
<line x1="863.5" y1="2161.4" x2="863.5" y2="2199.3" stroke="#000" stroke-width="2.4" />
<line x1="855.5" y1="2161.4" x2="871.5" y2="2161.4" stroke="#000" stroke-width="2.4" />
<line x1="855.5" y1="2199.3" x2="871.5" y2="2199.3" stroke="#000" stroke-width="2.4" />
<line x1="884.7" y1="2175.6" x2="884.7" y2="2204.1" stroke="#000" stroke-width="2.4" />
<line x1="876.7" y1="2175.6" x2="892.7" y2="2175.6" stroke="#000" stroke-width="2.4" />
<line x1="876.7" y1="2204.1" x2="892.7" y2="2204.1" stroke="#000" stroke-width="2.4" />
<line x1="906.0" y1="2189.8" x2="906.0" y2="2213.5" stroke="#000" stroke-width="2.4" />
<line x1="898.0" y1="2189.8" x2="914.0" y2="2189.8" stroke="#000" stroke-width="2.4" />
<line x1="898.0" y1="2213.5" x2="914.0" y2="2213.5" stroke="#000" stroke-width="2.4" />
<line x1="927.3" y1="2189.8" x2="927.3" y2="2223.0" stroke="#000" stroke-width="2.4" />
<line x1="919.3" y1="2189.8" x2="935.3" y2="2189.8" stroke="#000" stroke-width="2.4" />
<line x1="919.3" y1="2223.0" x2="935.3" y2="2223.0" stroke="#000" stroke-width="2.4" />
<line x1="948.5" y1="2155.2" x2="948.5" y2="2207.9" stroke="#000" stroke-width="2.4" />
<line x1="940.5" y1="2155.2" x2="956.5" y2="2155.2" stroke="#000" stroke-width="2.4" />
<line x1="940.5" y1="2207.9" x2="956.5" y2="2207.9" stroke="#000" stroke-width="2.4" />
<line x1="969.8" y1="2215.9" x2="969.8" y2="2236.8" stroke="#000" stroke-width="2.4" />
<line x1="961.8" y1="2215.9" x2="977.8" y2="2215.9" stroke="#000" stroke-width="2.4" />
<line x1="961.8" y1="2236.8" x2="977.8" y2="2236.8" stroke="#000" stroke-width="2.4" />
<line x1="650.8" y1="2106.4" x2="650.8" y2="2170.9" stroke="#1b75bc" stroke-width="2.4" />
<line x1="642.8" y1="2106.4" x2="658.8" y2="2106.4" stroke="#1b75bc" stroke-width="2.4" />
<line x1="642.8" y1="2170.9" x2="658.8" y2="2170.9" stroke="#1b75bc" stroke-width="2.4" />
<line x1="672.0" y1="2143.4" x2="672.0" y2="2168.5" stroke="#1b75bc" stroke-width="2.4" />
<line x1="664.0" y1="2143.4" x2="680.0" y2="2143.4" stroke="#1b75bc" stroke-width="2.4" />
<line x1="664.0" y1="2168.5" x2="680.0" y2="2168.5" stroke="#1b75bc" stroke-width="2.4" />
<line x1="693.3" y1="2161.4" x2="693.3" y2="2185.1" stroke="#1b75bc" stroke-width="2.4" />
<line x1="685.3" y1="2161.4" x2="701.3" y2="2161.4" stroke="#1b75bc" stroke-width="2.4" />
<line x1="685.3" y1="2185.1" x2="701.3" y2="2185.1" stroke="#1b75bc" stroke-width="2.4" />
<line x1="714.6" y1="2154.3" x2="714.6" y2="2195.5" stroke="#1b75bc" stroke-width="2.4" />
<line x1="706.6" y1="2154.3" x2="722.6" y2="2154.3" stroke="#1b75bc" stroke-width="2.4" />
<line x1="706.6" y1="2195.5" x2="722.6" y2="2195.5" stroke="#1b75bc" stroke-width="2.4" />
<line x1="735.8" y1="2135.3" x2="735.8" y2="2166.1" stroke="#1b75bc" stroke-width="2.4" />
<line x1="727.8" y1="2135.3" x2="743.8" y2="2135.3" stroke="#1b75bc" stroke-width="2.4" />
<line x1="727.8" y1="2166.1" x2="743.8" y2="2166.1" stroke="#1b75bc" stroke-width="2.4" />
<line x1="757.1" y1="2137.7" x2="757.1" y2="2166.1" stroke="#1b75bc" stroke-width="2.4" />
<line x1="749.1" y1="2137.7" x2="765.1" y2="2137.7" stroke="#1b75bc" stroke-width="2.4" />
<line x1="749.1" y1="2166.1" x2="765.1" y2="2166.1" stroke="#1b75bc" stroke-width="2.4" />
<line x1="778.4" y1="2147.2" x2="778.4" y2="2185.1" stroke="#1b75bc" stroke-width="2.4" />
<line x1="770.4" y1="2147.2" x2="786.4" y2="2147.2" stroke="#1b75bc" stroke-width="2.4" />
<line x1="770.4" y1="2185.1" x2="786.4" y2="2185.1" stroke="#1b75bc" stroke-width="2.4" />
<line x1="799.6" y1="2161.4" x2="799.6" y2="2189.8" stroke="#1b75bc" stroke-width="2.4" />
<line x1="791.6" y1="2161.4" x2="807.6" y2="2161.4" stroke="#1b75bc" stroke-width="2.4" />
<line x1="791.6" y1="2189.8" x2="807.6" y2="2189.8" stroke="#1b75bc" stroke-width="2.4" />
<line x1="820.9" y1="2166.1" x2="820.9" y2="2189.8" stroke="#1b75bc" stroke-width="2.4" />
<line x1="812.9" y1="2166.1" x2="828.9" y2="2166.1" stroke="#1b75bc" stroke-width="2.4" />
<line x1="812.9" y1="2189.8" x2="828.9" y2="2189.8" stroke="#1b75bc" stroke-width="2.4" />
<line x1="842.2" y1="2166.1" x2="842.2" y2="2194.6" stroke="#1b75bc" stroke-width="2.4" />
<line x1="834.2" y1="2166.1" x2="850.2" y2="2166.1" stroke="#1b75bc" stroke-width="2.4" />
<line x1="834.2" y1="2194.6" x2="850.2" y2="2194.6" stroke="#1b75bc" stroke-width="2.4" />
<line x1="863.5" y1="2180.4" x2="863.5" y2="2209.7" stroke="#1b75bc" stroke-width="2.4" />
<line x1="855.5" y1="2180.4" x2="871.5" y2="2180.4" stroke="#1b75bc" stroke-width="2.4" />
<line x1="855.5" y1="2209.7" x2="871.5" y2="2209.7" stroke="#1b75bc" stroke-width="2.4" />
<line x1="884.7" y1="2206.4" x2="884.7" y2="2247.7" stroke="#1b75bc" stroke-width="2.4" />
<line x1="876.7" y1="2206.4" x2="892.7" y2="2206.4" stroke="#1b75bc" stroke-width="2.4" />
<line x1="876.7" y1="2247.7" x2="892.7" y2="2247.7" stroke="#1b75bc" stroke-width="2.4" />
<line x1="906.0" y1="2213.5" x2="906.0" y2="2239.6" stroke="#1b75bc" stroke-width="2.4" />
<line x1="898.0" y1="2213.5" x2="914.0" y2="2213.5" stroke="#1b75bc" stroke-width="2.4" />
<line x1="898.0" y1="2239.6" x2="914.0" y2="2239.6" stroke="#1b75bc" stroke-width="2.4" />
<line x1="927.3" y1="2265.7" x2="927.3" y2="2311.2" stroke="#1b75bc" stroke-width="2.4" />
<line x1="919.3" y1="2265.7" x2="935.3" y2="2265.7" stroke="#1b75bc" stroke-width="2.4" />
<line x1="919.3" y1="2311.2" x2="935.3" y2="2311.2" stroke="#1b75bc" stroke-width="2.4" />
<line x1="948.5" y1="2287.5" x2="948.5" y2="2327.3" stroke="#1b75bc" stroke-width="2.4" />
<line x1="940.5" y1="2287.5" x2="956.5" y2="2287.5" stroke="#1b75bc" stroke-width="2.4" />
<line x1="940.5" y1="2327.3" x2="956.5" y2="2327.3" stroke="#1b75bc" stroke-width="2.4" />
<line x1="969.8" y1="2261.9" x2="969.8" y2="2375.6" stroke="#1b75bc" stroke-width="2.4" />
<line x1="961.8" y1="2261.9" x2="977.8" y2="2261.9" stroke="#1b75bc" stroke-width="2.4" />
<line x1="961.8" y1="2375.6" x2="977.8" y2="2375.6" stroke="#1b75bc" stroke-width="2.4" />
<polyline points="650.4,2161.4 654.4,2161.4 658.4,2161.4 662.4,2161.4 666.4,2161.4 670.4,2161.4 674.4,2161.4 678.4,2161.4 682.4,2161.4 686.5,2161.4 690.5,2161.4 694.5,2161.4 698.5,2161.4 702.5,2161.4 706.5,2161.4 710.5,2161.4 714.5,2161.4 718.5,2161.4 722.5,2161.5 726.5,2161.5 730.5,2161.5 734.5,2161.5 738.5,2161.5 742.5,2161.5 746.5,2161.6 750.5,2161.6 754.6,2161.6 758.6,2161.7 762.6,2161.7 766.6,2161.8 770.6,2161.8 774.6,2161.9 778.6,2162.0 782.6,2162.1 786.6,2162.3 790.6,2162.4 794.6,2162.6 798.6,2162.9 802.6,2163.1 806.6,2163.4 810.6,2163.8 814.6,2164.2 818.6,2164.7 822.7,2165.4 826.7,2166.1 830.7,2166.9 834.7,2167.9 838.7,2169.0 842.7,2170.3 846.7,2171.9 850.7,2173.6 854.7,2175.7 858.7,2178.1 862.7,2180.8 866.7,2183.9 870.7,2187.4 874.7,2191.3 878.7,2195.7 882.7,2200.5 886.7,2205.8 890.8,2211.5 894.8,2217.6 898.8,2224.0 902.8,2230.8 906.8,2237.7 910.8,2244.7 914.8,2251.7 918.8,2258.5 922.8,2265.2 926.8,2271.7 930.8,2277.7 934.8,2283.4 938.8,2288.6 942.8,2293.4 946.8,2297.8 950.8,2301.6 954.8,2305.1 958.9,2308.2 962.9,2310.8 966.9,2313.2 970.9,2315.2" fill="none" stroke="#000" stroke-width="1.6" stroke-linejoin="round" />
<polyline points="650.4,2161.4 654.4,2161.4 658.4,2161.4 662.4,2161.4 666.4,2161.4 670.4,2161.4 674.4,2161.4 678.4,2161.4 682.4,2161.4 686.5,2161.4 690.5,2161.4 694.5,2161.4 698.5,2161.4 702.5,2161.4 706.5,2161.4 710.5,2161.4 714.5,2161.4 718.5,2161.4 722.5,2161.4 726.5,2161.4 730.5,2161.4 734.5,2161.4 738.5,2161.5 742.5,2161.5 746.5,2161.5 750.5,2161.5 754.6,2161.5 758.6,2161.5 762.6,2161.6 766.6,2161.6 770.6,2161.6 774.6,2161.7 778.6,2161.8 782.6,2161.8 786.6,2161.9 790.6,2162.0 794.6,2162.2 798.6,2162.3 802.6,2162.5 806.6,2162.8 810.6,2163.1 814.6,2163.4 818.6,2163.8 822.7,2164.3 826.7,2164.9 830.7,2165.6 834.7,2166.4 838.7,2167.3 842.7,2168.4 846.7,2169.6 850.7,2171.0 854.7,2172.6 858.7,2174.4 862.7,2176.3 866.7,2178.4 870.7,2180.6 874.7,2182.8 878.7,2185.1 882.7,2187.4 886.7,2189.7 890.8,2191.9 894.8,2193.9 898.8,2195.8 902.8,2197.6 906.8,2199.2 910.8,2200.6 914.8,2201.8 918.8,2202.9 922.8,2203.8 926.8,2204.6 930.8,2205.3 934.8,2205.9 938.8,2206.4 942.8,2206.8 946.8,2207.1 950.8,2207.4 954.8,2207.7 958.9,2207.9 962.9,2208.0 966.9,2208.2 970.9,2208.3" fill="none" stroke="#000" stroke-width="1.6" stroke-linejoin="round" />
<circle cx="650.8" cy="2144.8" r="7.5" fill="#000" stroke="none" stroke-width="1" />
<circle cx="672.0" cy="2158.6" r="7.5" fill="#000" stroke="none" stroke-width="1" />
<circle cx="693.3" cy="2160.5" r="7.5" fill="#000" stroke="none" stroke-width="1" />
<circle cx="714.6" cy="2163.8" r="7.5" fill="#000" stroke="none" stroke-width="1" />
<circle cx="735.8" cy="2165.7" r="7.5" fill="#000" stroke="none" stroke-width="1" />
<circle cx="757.1" cy="2174.2" r="7.5" fill="#000" stroke="none" stroke-width="1" />
<circle cx="778.4" cy="2161.4" r="7.5" fill="#000" stroke="none" stroke-width="1" />
<circle cx="799.6" cy="2179.4" r="7.5" fill="#000" stroke="none" stroke-width="1" />
<circle cx="820.9" cy="2177.5" r="7.5" fill="#000" stroke="none" stroke-width="1" />
<circle cx="842.2" cy="2172.3" r="7.5" fill="#000" stroke="none" stroke-width="1" />
<circle cx="863.5" cy="2186.5" r="7.5" fill="#000" stroke="none" stroke-width="1" />
<circle cx="884.7" cy="2187.5" r="7.5" fill="#000" stroke="none" stroke-width="1" />
<circle cx="906.0" cy="2204.5" r="7.5" fill="#000" stroke="none" stroke-width="1" />
<circle cx="927.3" cy="2205.5" r="7.5" fill="#000" stroke="none" stroke-width="1" />
<circle cx="948.5" cy="2181.8" r="7.5" fill="#000" stroke="none" stroke-width="1" />
<circle cx="969.8" cy="2226.3" r="7.5" fill="#000" stroke="none" stroke-width="1" />
<circle cx="650.8" cy="2139.6" r="7.5" fill="#1b75bc" stroke="none" stroke-width="1" />
<circle cx="672.0" cy="2156.7" r="7.5" fill="#1b75bc" stroke="none" stroke-width="1" />
<circle cx="693.3" cy="2173.7" r="7.5" fill="#1b75bc" stroke="none" stroke-width="1" />
<circle cx="714.6" cy="2177.5" r="7.5" fill="#1b75bc" stroke="none" stroke-width="1" />
<circle cx="735.8" cy="2153.3" r="7.5" fill="#1b75bc" stroke="none" stroke-width="1" />
<circle cx="757.1" cy="2153.3" r="7.5" fill="#1b75bc" stroke="none" stroke-width="1" />
<circle cx="778.4" cy="2167.1" r="7.5" fill="#1b75bc" stroke="none" stroke-width="1" />
<circle cx="799.6" cy="2177.5" r="7.5" fill="#1b75bc" stroke="none" stroke-width="1" />
<circle cx="820.9" cy="2179.4" r="7.5" fill="#1b75bc" stroke="none" stroke-width="1" />
<circle cx="842.2" cy="2180.8" r="7.5" fill="#1b75bc" stroke="none" stroke-width="1" />
<circle cx="863.5" cy="2195.1" r="7.5" fill="#1b75bc" stroke="none" stroke-width="1" />
<circle cx="884.7" cy="2225.4" r="7.5" fill="#1b75bc" stroke="none" stroke-width="1" />
<circle cx="906.0" cy="2226.3" r="7.5" fill="#1b75bc" stroke="none" stroke-width="1" />
<circle cx="927.3" cy="2288.9" r="7.5" fill="#1b75bc" stroke="none" stroke-width="1" />
<circle cx="948.5" cy="2306.0" r="7.5" fill="#1b75bc" stroke="none" stroke-width="1" />
<circle cx="969.8" cy="2318.3" r="7.5" fill="#1b75bc" stroke="none" stroke-width="1" />
<line x1="590.6" y1="2067.0" x2="590.6" y2="2448.2" stroke="#000" stroke-width="2" />
<line x1="589.6" y1="2447.2" x2="1008.3" y2="2447.2" stroke="#000" stroke-width="2" />
<line x1="584.1" y1="2066.6" x2="590.6" y2="2066.6" stroke="#000" stroke-width="1.8" />
<text x="565.7" y="2075.9" font-size="26.0" stroke="#000" stroke-width="0.35">2</text>
<line x1="584.1" y1="2161.4" x2="590.6" y2="2161.4" stroke="#000" stroke-width="1.8" />
<text x="565.3" y="2170.7" font-size="26.0" stroke="#000" stroke-width="0.35">0</text>
<line x1="584.1" y1="2256.2" x2="590.6" y2="2256.2" stroke="#000" stroke-width="1.8" />
<text x="557.0" y="2265.5" font-size="26.0" stroke="#000" stroke-width="0.35">-2</text>
<line x1="584.1" y1="2351.0" x2="590.6" y2="2351.0" stroke="#000" stroke-width="1.8" />
<text x="556.4" y="2360.3" font-size="26.0" stroke="#000" stroke-width="0.35">-4</text>
<line x1="584.1" y1="2445.8" x2="590.6" y2="2445.8" stroke="#000" stroke-width="1.8" />
<text x="556.7" y="2455.1" font-size="26.0" stroke="#000" stroke-width="0.35">-6</text>
<line x1="666.0" y1="2447.2" x2="666.0" y2="2454.2" stroke="#000" stroke-width="1.8" />
<text x="658.8" y="2476.6" font-size="26.0" stroke="#000" stroke-width="0.35">2</text>
<line x1="807.8" y1="2447.2" x2="807.8" y2="2454.2" stroke="#000" stroke-width="1.8" />
<text x="800.7" y="2476.6" font-size="26.0" stroke="#000" stroke-width="0.35">4</text>
<line x1="949.6" y1="2447.2" x2="949.6" y2="2454.2" stroke="#000" stroke-width="1.8" />
<text x="942.3" y="2476.6" font-size="26.0" stroke="#000" stroke-width="0.35">6</text>
<text x="542.5" y="2328.2" font-size="28.0" textLength="156.0" lengthAdjust="spacingAndGlyphs" transform="rotate(-90 542.5 2328.2)" stroke="#000" stroke-width="0.35">ΔFnorm [‰]</text>
<text x="650.2" y="2509.5" font-size="29.6" stroke="#000" stroke-width="0.35">log(conc ligand[nM])</text>
<circle cx="614.0" cy="2379.8" r="8.0" fill="#1b75bc" stroke="none" stroke-width="1" />
<circle cx="614.0" cy="2423.0" r="7.5" fill="#000" stroke="none" stroke-width="1" />
<text x="627.4" y="2390.2" font-size="33.0" textLength="58.6" lengthAdjust="spacingAndGlyphs" stroke="#000" stroke-width="0.35">IAA</text>
<text x="627.8" y="2432.4" font-size="33.0" textLength="86.5" lengthAdjust="spacingAndGlyphs" stroke="#000" stroke-width="0.35">L-Trp</text>
<text x="1048.5" y="1967.9" font-size="37.0" stroke="#000" stroke-width="0.35">i</text>
<text x="1121.2" y="1973.4" font-size="28.8" stroke="#000" stroke-width="0.35">Kd</text>
<text x="1156.9" y="1982.0" font-size="18.0" textLength="40.2" lengthAdjust="spacingAndGlyphs" stroke="#000" stroke-width="0.35">(IAA)</text>
<text x="1196.0" y="1973.4" font-size="28.8" textLength="205.5" lengthAdjust="spacingAndGlyphs" stroke="#000" stroke-width="0.35">= 560 ± 350 µM</text>
<text x="1122.9" y="2021.4" font-size="28.8" stroke="#000" stroke-width="0.35">Kd</text>
<text x="1158.7" y="2030.0" font-size="18.0" stroke="#000" stroke-width="0.35">(BA)</text>
<text x="1193.0" y="2021.4" font-size="28.8" textLength="230.3" lengthAdjust="spacingAndGlyphs" stroke="#000" stroke-width="0.35">= 177.5 ± 154 µM</text>
<line x1="1109.2" y1="2193.2" x2="1528.8" y2="2193.2" stroke="#000" stroke-width="5.6" stroke-linecap="round" stroke-dasharray="0.01,10.7"/>
<text x="1248.5" y="2092.9" font-size="28.0" textLength="87.1" lengthAdjust="spacingAndGlyphs" stroke="#000" stroke-width="0.35">pH 7.5</text>
<line x1="1164.2" y1="2193.2" x2="1164.2" y2="2237.5" stroke="#6d6e71" stroke-width="2.4" />
<line x1="1156.2" y1="2193.2" x2="1172.2" y2="2193.2" stroke="#6d6e71" stroke-width="2.4" />
<line x1="1156.2" y1="2237.5" x2="1172.2" y2="2237.5" stroke="#6d6e71" stroke-width="2.4" />
<line x1="1185.6" y1="2190.0" x2="1185.6" y2="2228.0" stroke="#6d6e71" stroke-width="2.4" />
<line x1="1177.6" y1="2190.0" x2="1193.6" y2="2190.0" stroke="#6d6e71" stroke-width="2.4" />
<line x1="1177.6" y1="2228.0" x2="1193.6" y2="2228.0" stroke="#6d6e71" stroke-width="2.4" />
<line x1="1207.0" y1="2158.4" x2="1207.0" y2="2190.0" stroke="#6d6e71" stroke-width="2.4" />
<line x1="1199.0" y1="2158.4" x2="1215.0" y2="2158.4" stroke="#6d6e71" stroke-width="2.4" />
<line x1="1199.0" y1="2190.0" x2="1215.0" y2="2190.0" stroke="#6d6e71" stroke-width="2.4" />
<line x1="1228.3" y1="2196.4" x2="1228.3" y2="2218.5" stroke="#6d6e71" stroke-width="2.4" />
<line x1="1220.3" y1="2196.4" x2="1236.3" y2="2196.4" stroke="#6d6e71" stroke-width="2.4" />
<line x1="1220.3" y1="2218.5" x2="1236.3" y2="2218.5" stroke="#6d6e71" stroke-width="2.4" />
<line x1="1249.7" y1="2186.9" x2="1249.7" y2="2205.8" stroke="#6d6e71" stroke-width="2.4" />
<line x1="1241.7" y1="2186.9" x2="1257.7" y2="2186.9" stroke="#6d6e71" stroke-width="2.4" />
<line x1="1241.7" y1="2205.8" x2="1257.7" y2="2205.8" stroke="#6d6e71" stroke-width="2.4" />
<line x1="1271.1" y1="2147.7" x2="1271.1" y2="2193.2" stroke="#6d6e71" stroke-width="2.4" />
<line x1="1263.1" y1="2147.7" x2="1279.1" y2="2147.7" stroke="#6d6e71" stroke-width="2.4" />
<line x1="1263.1" y1="2193.2" x2="1279.1" y2="2193.2" stroke="#6d6e71" stroke-width="2.4" />
<line x1="1292.5" y1="2190.0" x2="1292.5" y2="2215.3" stroke="#6d6e71" stroke-width="2.4" />
<line x1="1284.5" y1="2190.0" x2="1300.5" y2="2190.0" stroke="#6d6e71" stroke-width="2.4" />
<line x1="1284.5" y1="2215.3" x2="1300.5" y2="2215.3" stroke="#6d6e71" stroke-width="2.4" />
<line x1="1313.9" y1="2196.4" x2="1313.9" y2="2221.7" stroke="#6d6e71" stroke-width="2.4" />
<line x1="1305.9" y1="2196.4" x2="1321.9" y2="2196.4" stroke="#6d6e71" stroke-width="2.4" />
<line x1="1305.9" y1="2221.7" x2="1321.9" y2="2221.7" stroke="#6d6e71" stroke-width="2.4" />
<line x1="1335.3" y1="2199.5" x2="1335.3" y2="2215.3" stroke="#6d6e71" stroke-width="2.4" />
<line x1="1327.3" y1="2199.5" x2="1343.3" y2="2199.5" stroke="#6d6e71" stroke-width="2.4" />
<line x1="1327.3" y1="2215.3" x2="1343.3" y2="2215.3" stroke="#6d6e71" stroke-width="2.4" />
<line x1="1356.7" y1="2150.8" x2="1356.7" y2="2212.2" stroke="#6d6e71" stroke-width="2.4" />
<line x1="1348.7" y1="2150.8" x2="1364.7" y2="2150.8" stroke="#6d6e71" stroke-width="2.4" />
<line x1="1348.7" y1="2212.2" x2="1364.7" y2="2212.2" stroke="#6d6e71" stroke-width="2.4" />
<line x1="1378.1" y1="2205.8" x2="1378.1" y2="2237.5" stroke="#6d6e71" stroke-width="2.4" />
<line x1="1370.1" y1="2205.8" x2="1386.1" y2="2205.8" stroke="#6d6e71" stroke-width="2.4" />
<line x1="1370.1" y1="2237.5" x2="1386.1" y2="2237.5" stroke="#6d6e71" stroke-width="2.4" />
<line x1="1399.5" y1="2212.2" x2="1399.5" y2="2243.8" stroke="#6d6e71" stroke-width="2.4" />
<line x1="1391.5" y1="2212.2" x2="1407.5" y2="2212.2" stroke="#6d6e71" stroke-width="2.4" />
<line x1="1391.5" y1="2243.8" x2="1407.5" y2="2243.8" stroke="#6d6e71" stroke-width="2.4" />
<line x1="1420.9" y1="2190.0" x2="1420.9" y2="2231.1" stroke="#6d6e71" stroke-width="2.4" />
<line x1="1412.9" y1="2190.0" x2="1428.9" y2="2190.0" stroke="#6d6e71" stroke-width="2.4" />
<line x1="1412.9" y1="2231.1" x2="1428.9" y2="2231.1" stroke="#6d6e71" stroke-width="2.4" />
<line x1="1442.2" y1="2241.3" x2="1442.2" y2="2275.4" stroke="#6d6e71" stroke-width="2.4" />
<line x1="1434.2" y1="2241.3" x2="1450.2" y2="2241.3" stroke="#6d6e71" stroke-width="2.4" />
<line x1="1434.2" y1="2275.4" x2="1450.2" y2="2275.4" stroke="#6d6e71" stroke-width="2.4" />
<line x1="1463.6" y1="2253.3" x2="1463.6" y2="2288.1" stroke="#6d6e71" stroke-width="2.4" />
<line x1="1455.6" y1="2253.3" x2="1471.6" y2="2253.3" stroke="#6d6e71" stroke-width="2.4" />
<line x1="1455.6" y1="2288.1" x2="1471.6" y2="2288.1" stroke="#6d6e71" stroke-width="2.4" />
<line x1="1485.0" y1="2215.3" x2="1485.0" y2="2265.9" stroke="#6d6e71" stroke-width="2.4" />
<line x1="1477.0" y1="2215.3" x2="1493.0" y2="2215.3" stroke="#6d6e71" stroke-width="2.4" />
<line x1="1477.0" y1="2265.9" x2="1493.0" y2="2265.9" stroke="#6d6e71" stroke-width="2.4" />
<line x1="1164.2" y1="2163.5" x2="1164.2" y2="2205.8" stroke="#1b75bc" stroke-width="2.4" />
<line x1="1156.2" y1="2163.5" x2="1172.2" y2="2163.5" stroke="#1b75bc" stroke-width="2.4" />
<line x1="1156.2" y1="2205.8" x2="1172.2" y2="2205.8" stroke="#1b75bc" stroke-width="2.4" />
<line x1="1185.6" y1="2127.4" x2="1185.6" y2="2160.9" stroke="#1b75bc" stroke-width="2.4" />
<line x1="1177.6" y1="2127.4" x2="1193.6" y2="2127.4" stroke="#1b75bc" stroke-width="2.4" />
<line x1="1177.6" y1="2160.9" x2="1193.6" y2="2160.9" stroke="#1b75bc" stroke-width="2.4" />
<line x1="1207.0" y1="2169.2" x2="1207.0" y2="2205.8" stroke="#1b75bc" stroke-width="2.4" />
<line x1="1199.0" y1="2169.2" x2="1215.0" y2="2169.2" stroke="#1b75bc" stroke-width="2.4" />
<line x1="1199.0" y1="2205.8" x2="1215.0" y2="2205.8" stroke="#1b75bc" stroke-width="2.4" />
<line x1="1228.3" y1="2199.5" x2="1228.3" y2="2228.0" stroke="#1b75bc" stroke-width="2.4" />
<line x1="1220.3" y1="2199.5" x2="1236.3" y2="2199.5" stroke="#1b75bc" stroke-width="2.4" />
<line x1="1220.3" y1="2228.0" x2="1236.3" y2="2228.0" stroke="#1b75bc" stroke-width="2.4" />
<line x1="1249.7" y1="2166.0" x2="1249.7" y2="2224.8" stroke="#1b75bc" stroke-width="2.4" />
<line x1="1241.7" y1="2166.0" x2="1257.7" y2="2166.0" stroke="#1b75bc" stroke-width="2.4" />
<line x1="1241.7" y1="2224.8" x2="1257.7" y2="2224.8" stroke="#1b75bc" stroke-width="2.4" />
<line x1="1271.1" y1="2186.9" x2="1271.1" y2="2221.7" stroke="#1b75bc" stroke-width="2.4" />
<line x1="1263.1" y1="2186.9" x2="1279.1" y2="2186.9" stroke="#1b75bc" stroke-width="2.4" />
<line x1="1263.1" y1="2221.7" x2="1279.1" y2="2221.7" stroke="#1b75bc" stroke-width="2.4" />
<line x1="1292.5" y1="2205.8" x2="1292.5" y2="2234.3" stroke="#1b75bc" stroke-width="2.4" />
<line x1="1284.5" y1="2205.8" x2="1300.5" y2="2205.8" stroke="#1b75bc" stroke-width="2.4" />
<line x1="1284.5" y1="2234.3" x2="1300.5" y2="2234.3" stroke="#1b75bc" stroke-width="2.4" />
<line x1="1313.9" y1="2167.9" x2="1313.9" y2="2212.2" stroke="#1b75bc" stroke-width="2.4" />
<line x1="1305.9" y1="2167.9" x2="1321.9" y2="2167.9" stroke="#1b75bc" stroke-width="2.4" />
<line x1="1305.9" y1="2212.2" x2="1321.9" y2="2212.2" stroke="#1b75bc" stroke-width="2.4" />
<line x1="1335.3" y1="2190.0" x2="1335.3" y2="2218.5" stroke="#1b75bc" stroke-width="2.4" />
<line x1="1327.3" y1="2190.0" x2="1343.3" y2="2190.0" stroke="#1b75bc" stroke-width="2.4" />
<line x1="1327.3" y1="2218.5" x2="1343.3" y2="2218.5" stroke="#1b75bc" stroke-width="2.4" />
<line x1="1356.7" y1="2193.2" x2="1356.7" y2="2228.0" stroke="#1b75bc" stroke-width="2.4" />
<line x1="1348.7" y1="2193.2" x2="1364.7" y2="2193.2" stroke="#1b75bc" stroke-width="2.4" />
<line x1="1348.7" y1="2228.0" x2="1364.7" y2="2228.0" stroke="#1b75bc" stroke-width="2.4" />
<line x1="1378.1" y1="2212.2" x2="1378.1" y2="2243.8" stroke="#1b75bc" stroke-width="2.4" />
<line x1="1370.1" y1="2212.2" x2="1386.1" y2="2212.2" stroke="#1b75bc" stroke-width="2.4" />
<line x1="1370.1" y1="2243.8" x2="1386.1" y2="2243.8" stroke="#1b75bc" stroke-width="2.4" />
<line x1="1399.5" y1="2205.8" x2="1399.5" y2="2240.6" stroke="#1b75bc" stroke-width="2.4" />
<line x1="1391.5" y1="2205.8" x2="1407.5" y2="2205.8" stroke="#1b75bc" stroke-width="2.4" />
<line x1="1391.5" y1="2240.6" x2="1407.5" y2="2240.6" stroke="#1b75bc" stroke-width="2.4" />
<line x1="1420.9" y1="2221.7" x2="1420.9" y2="2253.3" stroke="#1b75bc" stroke-width="2.4" />
<line x1="1412.9" y1="2221.7" x2="1428.9" y2="2221.7" stroke="#1b75bc" stroke-width="2.4" />
<line x1="1412.9" y1="2253.3" x2="1428.9" y2="2253.3" stroke="#1b75bc" stroke-width="2.4" />
<line x1="1442.2" y1="2241.3" x2="1442.2" y2="2274.2" stroke="#1b75bc" stroke-width="2.4" />
<line x1="1434.2" y1="2241.3" x2="1450.2" y2="2241.3" stroke="#1b75bc" stroke-width="2.4" />
<line x1="1434.2" y1="2274.2" x2="1450.2" y2="2274.2" stroke="#1b75bc" stroke-width="2.4" />
<line x1="1463.6" y1="2286.2" x2="1463.6" y2="2318.4" stroke="#1b75bc" stroke-width="2.4" />
<line x1="1455.6" y1="2286.2" x2="1471.6" y2="2286.2" stroke="#1b75bc" stroke-width="2.4" />
<line x1="1455.6" y1="2318.4" x2="1471.6" y2="2318.4" stroke="#1b75bc" stroke-width="2.4" />
<line x1="1485.0" y1="2292.5" x2="1485.0" y2="2337.4" stroke="#1b75bc" stroke-width="2.4" />
<line x1="1477.0" y1="2292.5" x2="1493.0" y2="2292.5" stroke="#1b75bc" stroke-width="2.4" />
<line x1="1477.0" y1="2337.4" x2="1493.0" y2="2337.4" stroke="#1b75bc" stroke-width="2.4" />
<polyline points="1163.8,2193.2 1167.8,2193.2 1171.9,2193.2 1175.9,2193.2 1179.9,2193.2 1184.0,2193.2 1188.0,2193.2 1192.0,2193.2 1196.0,2193.2 1200.1,2193.3 1204.1,2193.3 1208.1,2193.3 1212.2,2193.3 1216.2,2193.3 1220.2,2193.3 1224.2,2193.3 1228.3,2193.3 1232.3,2193.3 1236.3,2193.4 1240.4,2193.4 1244.4,2193.4 1248.4,2193.4 1252.4,2193.5 1256.5,2193.5 1260.5,2193.6 1264.5,2193.6 1268.6,2193.7 1272.6,2193.7 1276.6,2193.8 1280.6,2193.9 1284.7,2194.0 1288.7,2194.1 1292.7,2194.2 1296.8,2194.3 1300.8,2194.5 1304.8,2194.7 1308.8,2194.9 1312.9,2195.1 1316.9,2195.4 1320.9,2195.7 1325.0,2196.0 1329.0,2196.4 1333.0,2196.8 1337.0,2197.3 1341.1,2197.9 1345.1,2198.5 1349.1,2199.2 1353.2,2200.0 1357.2,2200.9 1361.2,2201.9 1365.2,2203.1 1369.3,2204.3 1373.3,2205.8 1377.3,2207.4 1381.4,2209.1 1385.4,2211.1 1389.4,2213.3 1393.4,2215.7 1397.5,2218.4 1401.5,2221.3 1405.5,2224.4 1409.5,2227.9 1413.6,2231.5 1417.6,2235.5 1421.6,2239.7 1425.7,2244.2 1429.7,2248.9 1433.7,2253.8 1437.7,2258.8 1441.8,2264.0 1445.8,2269.3 1449.8,2274.6 1453.9,2280.0 1457.9,2285.3 1461.9,2290.5 1465.9,2295.6 1470.0,2300.5 1474.0,2305.3 1478.0,2309.8 1482.1,2314.1 1486.1,2318.1" fill="none" stroke="#000" stroke-width="1.6" stroke-linejoin="round" />
<polyline points="1163.8,2193.2 1167.8,2193.2 1171.9,2193.2 1175.9,2193.2 1179.9,2193.2 1184.0,2193.2 1188.0,2193.2 1192.0,2193.2 1196.0,2193.2 1200.1,2193.2 1204.1,2193.2 1208.1,2193.2 1212.2,2193.2 1216.2,2193.2 1220.2,2193.2 1224.2,2193.2 1228.3,2193.2 1232.3,2193.2 1236.3,2193.2 1240.4,2193.2 1244.4,2193.3 1248.4,2193.3 1252.4,2193.3 1256.5,2193.3 1260.5,2193.3 1264.5,2193.3 1268.6,2193.4 1272.6,2193.4 1276.6,2193.4 1280.6,2193.5 1284.7,2193.5 1288.7,2193.6 1292.7,2193.6 1296.8,2193.7 1300.8,2193.8 1304.8,2194.0 1308.8,2194.1 1312.9,2194.3 1316.9,2194.5 1320.9,2194.8 1325.0,2195.1 1329.0,2195.5 1333.0,2195.9 1337.0,2196.4 1341.1,2197.0 1345.1,2197.7 1349.1,2198.5 1353.2,2199.5 1357.2,2200.6 1361.2,2201.9 1365.2,2203.4 1369.3,2205.1 1373.3,2207.0 1377.3,2209.2 1381.4,2211.5 1385.4,2214.1 1389.4,2216.8 1393.4,2219.8 1397.5,2222.8 1401.5,2225.9 1405.5,2229.1 1409.5,2232.3 1413.6,2235.3 1417.6,2238.3 1421.6,2241.1 1425.7,2243.7 1429.7,2246.1 1433.7,2248.3 1437.7,2250.3 1441.8,2252.1 1445.8,2253.6 1449.8,2255.0 1453.9,2256.1 1457.9,2257.2 1461.9,2258.0 1465.9,2258.8 1470.0,2259.4 1474.0,2259.9 1478.0,2260.4 1482.1,2260.8 1486.1,2261.1" fill="none" stroke="#000" stroke-width="1.6" stroke-linejoin="round" />
<circle cx="1164.2" cy="2206.5" r="6.5" fill="#fff" stroke="#6d6e71" stroke-width="2.4" />
<circle cx="1185.6" cy="2184.3" r="6.5" fill="#fff" stroke="#6d6e71" stroke-width="2.4" />
<circle cx="1207.0" cy="2168.5" r="6.5" fill="#fff" stroke="#6d6e71" stroke-width="2.4" />
<circle cx="1228.3" cy="2207.7" r="6.5" fill="#fff" stroke="#6d6e71" stroke-width="2.4" />
<circle cx="1249.7" cy="2196.4" r="6.5" fill="#fff" stroke="#6d6e71" stroke-width="2.4" />
<circle cx="1271.1" cy="2176.1" r="6.5" fill="#fff" stroke="#6d6e71" stroke-width="2.4" />
<circle cx="1292.5" cy="2203.3" r="6.5" fill="#fff" stroke="#6d6e71" stroke-width="2.4" />
<circle cx="1313.9" cy="2207.7" r="6.5" fill="#fff" stroke="#6d6e71" stroke-width="2.4" />
<circle cx="1335.3" cy="2207.7" r="6.5" fill="#fff" stroke="#6d6e71" stroke-width="2.4" />
<circle cx="1356.7" cy="2188.1" r="6.5" fill="#fff" stroke="#6d6e71" stroke-width="2.4" />
<circle cx="1378.1" cy="2221.7" r="6.5" fill="#fff" stroke="#6d6e71" stroke-width="2.4" />
<circle cx="1399.5" cy="2227.4" r="6.5" fill="#fff" stroke="#6d6e71" stroke-width="2.4" />
<circle cx="1420.9" cy="2210.9" r="6.5" fill="#fff" stroke="#6d6e71" stroke-width="2.4" />
<circle cx="1442.2" cy="2257.1" r="6.5" fill="#fff" stroke="#6d6e71" stroke-width="2.4" />
<circle cx="1463.6" cy="2275.4" r="6.5" fill="#fff" stroke="#6d6e71" stroke-width="2.4" />
<circle cx="1485.0" cy="2240.6" r="6.5" fill="#fff" stroke="#6d6e71" stroke-width="2.4" />
<circle cx="1164.2" cy="2184.3" r="7.5" fill="#1b75bc" stroke="none" stroke-width="1" />
<circle cx="1185.6" cy="2145.1" r="7.5" fill="#1b75bc" stroke="none" stroke-width="1" />
<circle cx="1207.0" cy="2186.9" r="7.5" fill="#1b75bc" stroke="none" stroke-width="1" />
<circle cx="1228.3" cy="2216.6" r="7.5" fill="#1b75bc" stroke="none" stroke-width="1" />
<circle cx="1249.7" cy="2195.1" r="7.5" fill="#1b75bc" stroke="none" stroke-width="1" />
<circle cx="1271.1" cy="2202.1" r="7.5" fill="#1b75bc" stroke="none" stroke-width="1" />
<circle cx="1292.5" cy="2219.1" r="7.5" fill="#1b75bc" stroke="none" stroke-width="1" />
<circle cx="1313.9" cy="2188.8" r="7.5" fill="#1b75bc" stroke="none" stroke-width="1" />
<circle cx="1335.3" cy="2203.3" r="7.5" fill="#1b75bc" stroke="none" stroke-width="1" />
<circle cx="1356.7" cy="2202.1" r="7.5" fill="#1b75bc" stroke="none" stroke-width="1" />
<circle cx="1378.1" cy="2227.4" r="7.5" fill="#1b75bc" stroke="none" stroke-width="1" />
<circle cx="1399.5" cy="2221.0" r="7.5" fill="#1b75bc" stroke="none" stroke-width="1" />
<circle cx="1420.9" cy="2237.5" r="7.5" fill="#1b75bc" stroke="none" stroke-width="1" />
<circle cx="1442.2" cy="2259.6" r="7.5" fill="#1b75bc" stroke="none" stroke-width="1" />
<circle cx="1463.6" cy="2302.0" r="7.5" fill="#1b75bc" stroke="none" stroke-width="1" />
<circle cx="1485.0" cy="2315.3" r="7.5" fill="#1b75bc" stroke="none" stroke-width="1" />
<line x1="1105.2" y1="2067.0" x2="1105.2" y2="2448.2" stroke="#000" stroke-width="2" />
<line x1="1104.2" y1="2447.2" x2="1535.7" y2="2447.2" stroke="#000" stroke-width="2" />
<line x1="1098.7" y1="2066.7" x2="1105.2" y2="2066.7" stroke="#000" stroke-width="1.8" />
<text x="1079.3" y="2076.0" font-size="26.0" stroke="#000" stroke-width="0.35">2</text>
<line x1="1098.7" y1="2193.2" x2="1105.2" y2="2193.2" stroke="#000" stroke-width="1.8" />
<text x="1078.9" y="2202.5" font-size="26.0" stroke="#000" stroke-width="0.35">0</text>
<line x1="1098.7" y1="2319.7" x2="1105.2" y2="2319.7" stroke="#000" stroke-width="1.8" />
<text x="1070.6" y="2329.0" font-size="26.0" stroke="#000" stroke-width="0.35">-2</text>
<line x1="1098.7" y1="2446.2" x2="1105.2" y2="2446.2" stroke="#000" stroke-width="1.8" />
<text x="1070.0" y="2455.5" font-size="26.0" stroke="#000" stroke-width="0.35">-4</text>
<line x1="1179.5" y1="2447.2" x2="1179.5" y2="2454.2" stroke="#000" stroke-width="1.8" />
<text x="1172.3" y="2476.6" font-size="26.0" stroke="#000" stroke-width="0.35">2</text>
<line x1="1322.1" y1="2447.2" x2="1322.1" y2="2454.2" stroke="#000" stroke-width="1.8" />
<text x="1315.0" y="2476.6" font-size="26.0" stroke="#000" stroke-width="0.35">4</text>
<line x1="1464.7" y1="2447.2" x2="1464.7" y2="2454.2" stroke="#000" stroke-width="1.8" />
<text x="1457.4" y="2476.6" font-size="26.0" stroke="#000" stroke-width="0.35">6</text>
<text x="1060.6" y="2336.1" font-size="28.0" textLength="155.9" lengthAdjust="spacingAndGlyphs" transform="rotate(-90 1060.6 2336.1)" stroke="#000" stroke-width="0.35">ΔFnorm [‰]</text>
<text x="1167.2" y="2509.5" font-size="29.6" stroke="#000" stroke-width="0.35">log(conc ligand[nM])</text>
<circle cx="1128.3" cy="2379.8" r="8.0" fill="#1b75bc" stroke="none" stroke-width="1" />
<circle cx="1128.3" cy="2423.0" r="7.0" fill="#fff" stroke="#6d6e71" stroke-width="2.2" />
<text x="1142.4" y="2390.2" font-size="33.0" textLength="58.0" lengthAdjust="spacingAndGlyphs" stroke="#000" stroke-width="0.35">IAA</text>
<text x="1142.8" y="2432.4" font-size="33.0" textLength="47.3" lengthAdjust="spacingAndGlyphs" stroke="#000" stroke-width="0.35">BA</text>
</svg></body></html>
